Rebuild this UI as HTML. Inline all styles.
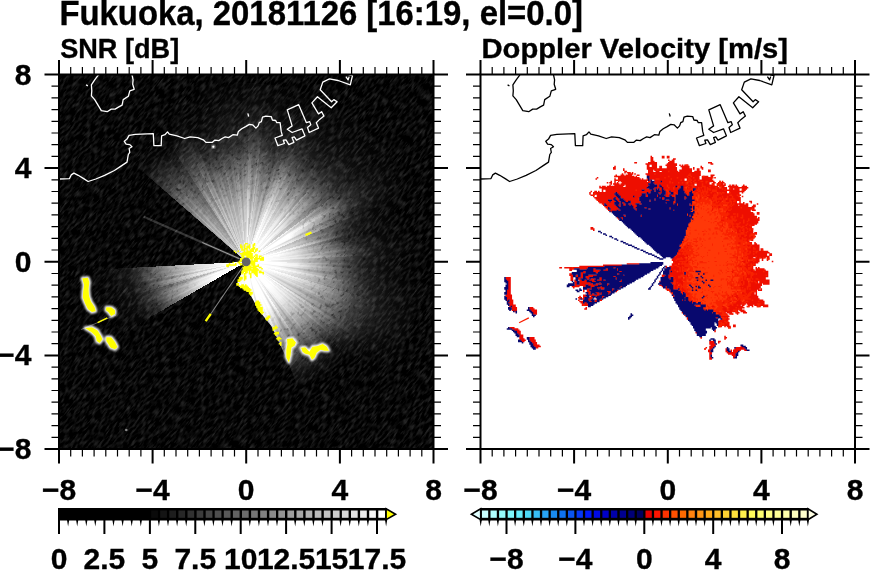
<!DOCTYPE html>
<html lang="en"><head><meta charset="utf-8"><title>Fukuoka radar</title>
<style>html,body{margin:0;padding:0;background:#fff;overflow:hidden}svg{display:block;will-change:transform}stop{stop-color:#fff}text{font-family:"Liberation Sans",sans-serif;font-weight:bold;fill:#000;stroke:#000;stroke-width:.35px}</style></head><body>
<svg width="870" height="570" viewBox="0 0 870 570">
<rect width="870" height="570" fill="#fff"/>
<defs>
<clipPath id="cl"><rect x="59" y="74.5" width="374.5" height="374.5"/></clipPath>
<clipPath id="cf"><path d="M246.2 261.8L243.9 266.8L236.8 284.2L248.9 292.1L258.4 309.8L271.4 326.2L288.2 361.8L307.2 411.8L317.8 437.8L326.9 433.8L335.8 429.3L344.5 424.4L352.9 419L360.9 413.2L368.7 407L376.1 400.4L383.2 393.4L389.9 386.1L396.2 378.4L402.1 370.4L407.6 362.1L412.6 353.5L417.2 344.7L421.3 335.6L424.9 326.3L428.1 316.9L430.7 307.3L432.8 297.6L434.5 287.8L435.6 277.9L436.1 268L436.2 258L435.8 248.1L434.8 238.2L433.3 228.3L431.3 218.6L428.8 209L425.8 199.5L422.3 190.2L418.3 181.1L413.8 172.2L408.9 163.5L403.5 155.1L397.7 147.1L391.5 139.3L384.9 131.9L377.9 124.8L370.6 118.1L362.9 111.8L354.9 105.9L346.6 100.4L338 95.4L329.2 90.8L320.1 86.7L310.8 83.1L301.4 79.9L291.8 77.3L282.1 75.2L272.3 73.5L262.4 72.4L252.5 71.9L242.5 71.8L232.6 72.2L222.7 73.2L212.8 74.7L203.1 76.7L193.5 79.2L184 82.2L174.7 85.7L165.6 89.7L156.7 94.2L148 99.1L139.6 104.5L131.6 110.3L123.8 116.5L116.4 123.1L109.3 130.1L102.9 137.1Z"/></clipPath>
<filter id="nz0" x="0" y="0" width="100%" height="100%" color-interpolation-filters="sRGB"><feTurbulence type="fractalNoise" baseFrequency="0.13 0.48" numOctaves="2" seed="3"/><feColorMatrix type="matrix" values="0.4 0 0 0 -0.17  0.4 0 0 0 -0.17  0.4 0 0 0 -0.17  0 0 0 0 1"/></filter>
<filter id="nd" x="0" y="0" width="100%" height="100%" color-interpolation-filters="sRGB"><feTurbulence type="fractalNoise" baseFrequency="0.25 0.4" numOctaves="2" seed="8"/><feColorMatrix type="matrix" values="0 0 0 0 0  0 0 0 0 0  0 0 0 0 0  0 -3.2 0 0 1.45"/></filter>
<radialGradient id="mk" gradientUnits="userSpaceOnUse" cx="246.2" cy="261.8" r="170"><stop offset="0.3" style="stop-color:#000"/><stop offset="0.58" style="stop-color:#aaa"/><stop offset="0.75" style="stop-color:#888"/><stop offset="0.98" style="stop-color:#000"/></radialGradient>
<mask id="mm"><rect x="59" y="74.5" width="374.5" height="374.5" fill="url(#mk)"/></mask>
<filter id="bl" x="-20%" y="-20%" width="140%" height="140%"><feGaussianBlur stdDeviation="1.3"/></filter>
<clipPath id="sec"><path d="M246.2 261.8L516.2 188.4L516.2 335.1Z"/></clipPath>
<radialGradient id="w0" gradientUnits="userSpaceOnUse" cx="246.2" cy="261.8" r="175"><stop offset="0" stop-opacity="1"/><stop offset=".286" stop-opacity="1"/><stop offset=".383" stop-opacity=".83"/><stop offset=".486" stop-opacity=".57"/><stop offset=".571" stop-opacity=".33"/><stop offset=".669" stop-opacity=".08"/><stop offset=".789" stop-opacity="0"/><stop offset="1" stop-opacity="0"/></radialGradient>
<radialGradient id="w1" gradientUnits="userSpaceOnUse" cx="246.2" cy="261.8" r="175"><stop offset="0" stop-opacity="1"/><stop offset=".286" stop-opacity="1"/><stop offset=".383" stop-opacity=".82"/><stop offset=".486" stop-opacity=".57"/><stop offset=".571" stop-opacity=".33"/><stop offset=".669" stop-opacity=".08"/><stop offset=".789" stop-opacity="0"/><stop offset="1" stop-opacity="0"/></radialGradient>
<radialGradient id="w2" gradientUnits="userSpaceOnUse" cx="246.2" cy="261.8" r="175"><stop offset="0" stop-opacity="1"/><stop offset=".189" stop-opacity="1"/><stop offset=".286" stop-opacity=".99"/><stop offset=".383" stop-opacity=".78"/><stop offset=".486" stop-opacity=".54"/><stop offset=".571" stop-opacity=".32"/><stop offset=".669" stop-opacity=".08"/><stop offset=".789" stop-opacity="0"/><stop offset="1" stop-opacity="0"/></radialGradient>
<radialGradient id="w3" gradientUnits="userSpaceOnUse" cx="246.2" cy="261.8" r="175"><stop offset="0" stop-opacity="1"/><stop offset=".286" stop-opacity="1"/><stop offset=".383" stop-opacity=".84"/><stop offset=".486" stop-opacity=".58"/><stop offset=".571" stop-opacity=".34"/><stop offset=".669" stop-opacity=".08"/><stop offset=".789" stop-opacity="0"/><stop offset="1" stop-opacity="0"/></radialGradient>
<radialGradient id="w4" gradientUnits="userSpaceOnUse" cx="246.2" cy="261.8" r="175"><stop offset="0" stop-opacity="1"/><stop offset=".286" stop-opacity="1"/><stop offset=".383" stop-opacity=".81"/><stop offset=".486" stop-opacity=".56"/><stop offset=".571" stop-opacity=".33"/><stop offset=".669" stop-opacity=".08"/><stop offset=".789" stop-opacity="0"/><stop offset="1" stop-opacity="0"/></radialGradient>
<radialGradient id="w5" gradientUnits="userSpaceOnUse" cx="246.2" cy="261.8" r="175"><stop offset="0" stop-opacity="1"/><stop offset=".286" stop-opacity="1"/><stop offset=".383" stop-opacity=".88"/><stop offset=".486" stop-opacity=".61"/><stop offset=".571" stop-opacity=".36"/><stop offset=".669" stop-opacity=".09"/><stop offset=".789" stop-opacity="0"/><stop offset="1" stop-opacity="0"/></radialGradient>
<radialGradient id="w6" gradientUnits="userSpaceOnUse" cx="246.2" cy="261.8" r="175"><stop offset="0" stop-opacity="1"/><stop offset=".286" stop-opacity="1"/><stop offset=".383" stop-opacity=".81"/><stop offset=".486" stop-opacity=".56"/><stop offset=".571" stop-opacity=".32"/><stop offset=".669" stop-opacity=".08"/><stop offset=".789" stop-opacity="0"/><stop offset="1" stop-opacity="0"/></radialGradient>
<radialGradient id="w7" gradientUnits="userSpaceOnUse" cx="246.2" cy="261.8" r="175"><stop offset="0" stop-opacity="1"/><stop offset=".286" stop-opacity="1"/><stop offset=".383" stop-opacity=".88"/><stop offset=".486" stop-opacity=".61"/><stop offset=".571" stop-opacity=".36"/><stop offset=".669" stop-opacity=".09"/><stop offset=".789" stop-opacity="0"/><stop offset="1" stop-opacity="0"/></radialGradient>
<radialGradient id="w8" gradientUnits="userSpaceOnUse" cx="246.2" cy="261.8" r="175"><stop offset="0" stop-opacity="1"/><stop offset=".286" stop-opacity="1"/><stop offset=".383" stop-opacity=".89"/><stop offset=".486" stop-opacity=".61"/><stop offset=".571" stop-opacity=".36"/><stop offset=".669" stop-opacity=".09"/><stop offset=".789" stop-opacity="0"/><stop offset="1" stop-opacity="0"/></radialGradient>
<radialGradient id="w9" gradientUnits="userSpaceOnUse" cx="246.2" cy="261.8" r="175"><stop offset="0" stop-opacity="1"/><stop offset=".286" stop-opacity="1"/><stop offset=".383" stop-opacity=".84"/><stop offset=".486" stop-opacity=".58"/><stop offset=".571" stop-opacity=".34"/><stop offset=".669" stop-opacity=".08"/><stop offset=".789" stop-opacity="0"/><stop offset="1" stop-opacity="0"/></radialGradient>
<radialGradient id="w10" gradientUnits="userSpaceOnUse" cx="246.2" cy="261.8" r="175"><stop offset="0" stop-opacity="1"/><stop offset=".286" stop-opacity="1"/><stop offset=".383" stop-opacity=".85"/><stop offset=".486" stop-opacity=".59"/><stop offset=".571" stop-opacity=".34"/><stop offset=".669" stop-opacity=".08"/><stop offset=".789" stop-opacity="0"/><stop offset="1" stop-opacity="0"/></radialGradient>
<radialGradient id="w11" gradientUnits="userSpaceOnUse" cx="246.2" cy="261.8" r="175"><stop offset="0" stop-opacity="1"/><stop offset=".189" stop-opacity="1"/><stop offset=".286" stop-opacity=".98"/><stop offset=".383" stop-opacity=".78"/><stop offset=".486" stop-opacity=".54"/><stop offset=".571" stop-opacity=".31"/><stop offset=".669" stop-opacity=".08"/><stop offset=".789" stop-opacity="0"/><stop offset="1" stop-opacity="0"/></radialGradient>
<radialGradient id="w12" gradientUnits="userSpaceOnUse" cx="246.2" cy="261.8" r="175"><stop offset="0" stop-opacity="1"/><stop offset=".286" stop-opacity="1"/><stop offset=".383" stop-opacity=".81"/><stop offset=".486" stop-opacity=".56"/><stop offset=".571" stop-opacity=".33"/><stop offset=".669" stop-opacity=".08"/><stop offset=".789" stop-opacity="0"/><stop offset="1" stop-opacity="0"/></radialGradient>
<radialGradient id="w13" gradientUnits="userSpaceOnUse" cx="246.2" cy="261.8" r="175"><stop offset="0" stop-opacity="1"/><stop offset=".189" stop-opacity="1"/><stop offset=".286" stop-opacity=".98"/><stop offset=".383" stop-opacity=".78"/><stop offset=".486" stop-opacity=".54"/><stop offset=".571" stop-opacity=".32"/><stop offset=".669" stop-opacity=".08"/><stop offset=".789" stop-opacity="0"/><stop offset="1" stop-opacity="0"/></radialGradient>
<radialGradient id="w14" gradientUnits="userSpaceOnUse" cx="246.2" cy="261.8" r="175"><stop offset="0" stop-opacity="1"/><stop offset=".189" stop-opacity="1"/><stop offset=".286" stop-opacity=".9"/><stop offset=".383" stop-opacity=".72"/><stop offset=".486" stop-opacity=".5"/><stop offset=".571" stop-opacity=".29"/><stop offset=".669" stop-opacity=".07"/><stop offset=".789" stop-opacity="0"/><stop offset="1" stop-opacity="0"/></radialGradient>
<radialGradient id="w15" gradientUnits="userSpaceOnUse" cx="246.2" cy="261.8" r="175"><stop offset="0" stop-opacity="1"/><stop offset=".189" stop-opacity="1"/><stop offset=".286" stop-opacity=".97"/><stop offset=".383" stop-opacity=".78"/><stop offset=".486" stop-opacity=".54"/><stop offset=".571" stop-opacity=".32"/><stop offset=".669" stop-opacity=".08"/><stop offset=".789" stop-opacity="0"/><stop offset="1" stop-opacity="0"/></radialGradient>
<radialGradient id="w16" gradientUnits="userSpaceOnUse" cx="246.2" cy="261.8" r="175"><stop offset="0" stop-opacity="1"/><stop offset=".286" stop-opacity="1"/><stop offset=".383" stop-opacity=".8"/><stop offset=".486" stop-opacity=".56"/><stop offset=".571" stop-opacity=".33"/><stop offset=".669" stop-opacity=".09"/><stop offset=".789" stop-opacity="0"/><stop offset="1" stop-opacity="0"/></radialGradient>
<radialGradient id="w17" gradientUnits="userSpaceOnUse" cx="246.2" cy="261.8" r="175"><stop offset="0" stop-opacity="1"/><stop offset=".286" stop-opacity="1"/><stop offset=".383" stop-opacity=".82"/><stop offset=".486" stop-opacity=".58"/><stop offset=".571" stop-opacity=".34"/><stop offset=".669" stop-opacity=".09"/><stop offset=".789" stop-opacity="0"/><stop offset="1" stop-opacity="0"/></radialGradient>
<radialGradient id="w18" gradientUnits="userSpaceOnUse" cx="246.2" cy="261.8" r="175"><stop offset="0" stop-opacity="1"/><stop offset=".189" stop-opacity="1"/><stop offset=".286" stop-opacity=".92"/><stop offset=".383" stop-opacity=".74"/><stop offset=".486" stop-opacity=".52"/><stop offset=".571" stop-opacity=".31"/><stop offset=".669" stop-opacity=".08"/><stop offset=".789" stop-opacity="0"/><stop offset="1" stop-opacity="0"/></radialGradient>
<radialGradient id="w19" gradientUnits="userSpaceOnUse" cx="246.2" cy="261.8" r="175"><stop offset="0" stop-opacity="1"/><stop offset=".189" stop-opacity="1"/><stop offset=".286" stop-opacity=".98"/><stop offset=".383" stop-opacity=".79"/><stop offset=".486" stop-opacity=".55"/><stop offset=".571" stop-opacity=".33"/><stop offset=".669" stop-opacity=".09"/><stop offset=".789" stop-opacity="0"/><stop offset="1" stop-opacity="0"/></radialGradient>
<radialGradient id="w20" gradientUnits="userSpaceOnUse" cx="246.2" cy="261.8" r="175"><stop offset="0" stop-opacity="1"/><stop offset=".286" stop-opacity="1"/><stop offset=".383" stop-opacity=".86"/><stop offset=".486" stop-opacity=".6"/><stop offset=".571" stop-opacity=".36"/><stop offset=".669" stop-opacity=".1"/><stop offset=".789" stop-opacity="0"/><stop offset="1" stop-opacity="0"/></radialGradient>
<radialGradient id="w21" gradientUnits="userSpaceOnUse" cx="246.2" cy="261.8" r="175"><stop offset="0" stop-opacity="1"/><stop offset=".189" stop-opacity="1"/><stop offset=".286" stop-opacity=".96"/><stop offset=".383" stop-opacity=".77"/><stop offset=".486" stop-opacity=".54"/><stop offset=".571" stop-opacity=".32"/><stop offset=".669" stop-opacity=".09"/><stop offset=".789" stop-opacity="0"/><stop offset="1" stop-opacity="0"/></radialGradient>
<radialGradient id="w22" gradientUnits="userSpaceOnUse" cx="246.2" cy="261.8" r="175"><stop offset="0" stop-opacity="1"/><stop offset=".286" stop-opacity="1"/><stop offset=".383" stop-opacity=".89"/><stop offset=".486" stop-opacity=".63"/><stop offset=".571" stop-opacity=".37"/><stop offset=".669" stop-opacity=".1"/><stop offset=".789" stop-opacity="0"/><stop offset="1" stop-opacity="0"/></radialGradient>
<radialGradient id="w23" gradientUnits="userSpaceOnUse" cx="246.2" cy="261.8" r="175"><stop offset="0" stop-opacity="1"/><stop offset=".189" stop-opacity="1"/><stop offset=".286" stop-opacity=".98"/><stop offset=".383" stop-opacity=".79"/><stop offset=".486" stop-opacity=".55"/><stop offset=".571" stop-opacity=".33"/><stop offset=".669" stop-opacity=".09"/><stop offset=".789" stop-opacity="0"/><stop offset="1" stop-opacity="0"/></radialGradient>
<radialGradient id="w24" gradientUnits="userSpaceOnUse" cx="246.2" cy="261.8" r="175"><stop offset="0" stop-opacity="1"/><stop offset=".286" stop-opacity="1"/><stop offset=".383" stop-opacity=".81"/><stop offset=".486" stop-opacity=".57"/><stop offset=".571" stop-opacity=".34"/><stop offset=".669" stop-opacity=".09"/><stop offset=".789" stop-opacity="0"/><stop offset="1" stop-opacity="0"/></radialGradient>
<radialGradient id="w25" gradientUnits="userSpaceOnUse" cx="246.2" cy="261.8" r="175"><stop offset="0" stop-opacity="1"/><stop offset=".189" stop-opacity="1"/><stop offset=".286" stop-opacity=".98"/><stop offset=".383" stop-opacity=".79"/><stop offset=".486" stop-opacity=".56"/><stop offset=".571" stop-opacity=".34"/><stop offset=".669" stop-opacity=".1"/><stop offset=".789" stop-opacity="0"/><stop offset="1" stop-opacity="0"/></radialGradient>
<radialGradient id="w26" gradientUnits="userSpaceOnUse" cx="246.2" cy="261.8" r="175"><stop offset="0" stop-opacity="1"/><stop offset=".189" stop-opacity="1"/><stop offset=".286" stop-opacity=".93"/><stop offset=".383" stop-opacity=".76"/><stop offset=".486" stop-opacity=".54"/><stop offset=".571" stop-opacity=".33"/><stop offset=".669" stop-opacity=".1"/><stop offset=".789" stop-opacity="0"/><stop offset="1" stop-opacity="0"/></radialGradient>
<radialGradient id="w27" gradientUnits="userSpaceOnUse" cx="246.2" cy="261.8" r="175"><stop offset="0" stop-opacity="1"/><stop offset=".189" stop-opacity="1"/><stop offset=".286" stop-opacity=".97"/><stop offset=".383" stop-opacity=".79"/><stop offset=".486" stop-opacity=".56"/><stop offset=".571" stop-opacity=".35"/><stop offset=".669" stop-opacity=".11"/><stop offset=".789" stop-opacity="0"/><stop offset="1" stop-opacity="0"/></radialGradient>
<radialGradient id="w28" gradientUnits="userSpaceOnUse" cx="246.2" cy="261.8" r="175"><stop offset="0" stop-opacity="1"/><stop offset=".114" stop-opacity="1"/><stop offset=".189" stop-opacity=".95"/><stop offset=".286" stop-opacity=".86"/><stop offset=".383" stop-opacity=".71"/><stop offset=".486" stop-opacity=".51"/><stop offset=".571" stop-opacity=".32"/><stop offset=".669" stop-opacity=".1"/><stop offset=".789" stop-opacity="0"/><stop offset="1" stop-opacity="0"/></radialGradient>
<radialGradient id="w29" gradientUnits="userSpaceOnUse" cx="246.2" cy="261.8" r="175"><stop offset="0" stop-opacity="1"/><stop offset=".114" stop-opacity="1"/><stop offset=".189" stop-opacity=".95"/><stop offset=".286" stop-opacity=".86"/><stop offset=".383" stop-opacity=".71"/><stop offset=".486" stop-opacity=".51"/><stop offset=".571" stop-opacity=".33"/><stop offset=".669" stop-opacity=".11"/><stop offset=".789" stop-opacity="0"/><stop offset="1" stop-opacity="0"/></radialGradient>
<radialGradient id="w30" gradientUnits="userSpaceOnUse" cx="246.2" cy="261.8" r="175"><stop offset="0" stop-opacity="1"/><stop offset=".114" stop-opacity="1"/><stop offset=".189" stop-opacity=".98"/><stop offset=".286" stop-opacity=".88"/><stop offset=".383" stop-opacity=".72"/><stop offset=".486" stop-opacity=".52"/><stop offset=".571" stop-opacity=".32"/><stop offset=".669" stop-opacity=".1"/><stop offset=".789" stop-opacity="0"/><stop offset="1" stop-opacity="0"/></radialGradient>
<radialGradient id="w31" gradientUnits="userSpaceOnUse" cx="246.2" cy="261.8" r="175"><stop offset="0" stop-opacity="1"/><stop offset=".189" stop-opacity="1"/><stop offset=".286" stop-opacity=".92"/><stop offset=".383" stop-opacity=".75"/><stop offset=".486" stop-opacity=".54"/><stop offset=".571" stop-opacity=".33"/><stop offset=".669" stop-opacity=".1"/><stop offset=".789" stop-opacity="0"/><stop offset="1" stop-opacity="0"/></radialGradient>
<radialGradient id="w32" gradientUnits="userSpaceOnUse" cx="246.2" cy="261.8" r="175"><stop offset="0" stop-opacity="1"/><stop offset=".189" stop-opacity="1"/><stop offset=".286" stop-opacity=".94"/><stop offset=".383" stop-opacity=".76"/><stop offset=".486" stop-opacity=".53"/><stop offset=".571" stop-opacity=".32"/><stop offset=".669" stop-opacity=".09"/><stop offset=".789" stop-opacity="0"/><stop offset="1" stop-opacity="0"/></radialGradient>
<radialGradient id="w33" gradientUnits="userSpaceOnUse" cx="246.2" cy="261.8" r="175"><stop offset="0" stop-opacity="1"/><stop offset=".189" stop-opacity="1"/><stop offset=".286" stop-opacity=".93"/><stop offset=".383" stop-opacity=".74"/><stop offset=".486" stop-opacity=".52"/><stop offset=".571" stop-opacity=".31"/><stop offset=".669" stop-opacity=".08"/><stop offset=".789" stop-opacity="0"/><stop offset="1" stop-opacity="0"/></radialGradient>
<radialGradient id="w34" gradientUnits="userSpaceOnUse" cx="246.2" cy="261.8" r="175"><stop offset="0" stop-opacity="1"/><stop offset=".189" stop-opacity="1"/><stop offset=".286" stop-opacity=".9"/><stop offset=".383" stop-opacity=".72"/><stop offset=".486" stop-opacity=".5"/><stop offset=".571" stop-opacity=".29"/><stop offset=".669" stop-opacity=".07"/><stop offset=".789" stop-opacity="0"/><stop offset="1" stop-opacity="0"/></radialGradient>
<radialGradient id="w35" gradientUnits="userSpaceOnUse" cx="246.2" cy="261.8" r="175"><stop offset="0" stop-opacity="1"/><stop offset=".114" stop-opacity="1"/><stop offset=".189" stop-opacity=".98"/><stop offset=".286" stop-opacity=".89"/><stop offset=".383" stop-opacity=".72"/><stop offset=".486" stop-opacity=".51"/><stop offset=".571" stop-opacity=".31"/><stop offset=".669" stop-opacity=".1"/><stop offset=".789" stop-opacity=".01"/><stop offset=".914" stop-opacity="0"/><stop offset="1" stop-opacity="0"/></radialGradient>
<radialGradient id="w36" gradientUnits="userSpaceOnUse" cx="246.2" cy="261.8" r="175"><stop offset="0" stop-opacity="1"/><stop offset=".189" stop-opacity="1"/><stop offset=".286" stop-opacity=".91"/><stop offset=".383" stop-opacity=".75"/><stop offset=".486" stop-opacity=".54"/><stop offset=".571" stop-opacity=".35"/><stop offset=".669" stop-opacity=".13"/><stop offset=".789" stop-opacity=".02"/><stop offset=".914" stop-opacity=".01"/><stop offset="1" stop-opacity="0"/></radialGradient>
<radialGradient id="w37" gradientUnits="userSpaceOnUse" cx="246.2" cy="261.8" r="175"><stop offset="0" stop-opacity="1"/><stop offset=".114" stop-opacity="1"/><stop offset=".189" stop-opacity=".96"/><stop offset=".286" stop-opacity=".87"/><stop offset=".383" stop-opacity=".72"/><stop offset=".486" stop-opacity=".53"/><stop offset=".571" stop-opacity=".36"/><stop offset=".669" stop-opacity=".15"/><stop offset=".789" stop-opacity=".03"/><stop offset=".914" stop-opacity=".01"/><stop offset="1" stop-opacity="0"/></radialGradient>
<radialGradient id="w38" gradientUnits="userSpaceOnUse" cx="246.2" cy="261.8" r="175"><stop offset="0" stop-opacity="1"/><stop offset=".114" stop-opacity="1"/><stop offset=".189" stop-opacity=".93"/><stop offset=".286" stop-opacity=".85"/><stop offset=".383" stop-opacity=".71"/><stop offset=".486" stop-opacity=".54"/><stop offset=".571" stop-opacity=".37"/><stop offset=".669" stop-opacity=".18"/><stop offset=".789" stop-opacity=".04"/><stop offset=".914" stop-opacity=".01"/><stop offset="1" stop-opacity=".01"/></radialGradient>
<radialGradient id="w39" gradientUnits="userSpaceOnUse" cx="246.2" cy="261.8" r="175"><stop offset="0" stop-opacity="1"/><stop offset=".189" stop-opacity="1"/><stop offset=".286" stop-opacity=".93"/><stop offset=".383" stop-opacity=".79"/><stop offset=".486" stop-opacity=".6"/><stop offset=".571" stop-opacity=".42"/><stop offset=".669" stop-opacity=".22"/><stop offset=".789" stop-opacity=".06"/><stop offset=".914" stop-opacity=".02"/><stop offset="1" stop-opacity=".01"/></radialGradient>
<radialGradient id="w40" gradientUnits="userSpaceOnUse" cx="246.2" cy="261.8" r="175"><stop offset="0" stop-opacity="1"/><stop offset=".114" stop-opacity="1"/><stop offset=".189" stop-opacity=".93"/><stop offset=".286" stop-opacity=".85"/><stop offset=".383" stop-opacity=".72"/><stop offset=".486" stop-opacity=".55"/><stop offset=".571" stop-opacity=".39"/><stop offset=".669" stop-opacity=".21"/><stop offset=".789" stop-opacity=".07"/><stop offset=".914" stop-opacity=".02"/><stop offset="1" stop-opacity=".01"/></radialGradient>
<radialGradient id="w41" gradientUnits="userSpaceOnUse" cx="246.2" cy="261.8" r="175"><stop offset="0" stop-opacity="1"/><stop offset=".114" stop-opacity="1"/><stop offset=".189" stop-opacity=".92"/><stop offset=".286" stop-opacity=".84"/><stop offset=".383" stop-opacity=".72"/><stop offset=".486" stop-opacity=".55"/><stop offset=".571" stop-opacity=".4"/><stop offset=".669" stop-opacity=".22"/><stop offset=".789" stop-opacity=".08"/><stop offset=".914" stop-opacity=".03"/><stop offset="1" stop-opacity=".01"/></radialGradient>
<radialGradient id="w42" gradientUnits="userSpaceOnUse" cx="246.2" cy="261.8" r="175"><stop offset="0" stop-opacity="1"/><stop offset=".057" stop-opacity="1"/><stop offset=".114" stop-opacity=".99"/><stop offset=".189" stop-opacity=".91"/><stop offset=".286" stop-opacity=".84"/><stop offset=".383" stop-opacity=".72"/><stop offset=".486" stop-opacity=".55"/><stop offset=".571" stop-opacity=".4"/><stop offset=".669" stop-opacity=".22"/><stop offset=".789" stop-opacity=".09"/><stop offset=".914" stop-opacity=".03"/><stop offset="1" stop-opacity=".02"/></radialGradient>
<radialGradient id="w43" gradientUnits="userSpaceOnUse" cx="246.2" cy="261.8" r="175"><stop offset="0" stop-opacity="1"/><stop offset=".057" stop-opacity="1"/><stop offset=".114" stop-opacity=".97"/><stop offset=".189" stop-opacity=".9"/><stop offset=".286" stop-opacity=".82"/><stop offset=".383" stop-opacity=".7"/><stop offset=".486" stop-opacity=".54"/><stop offset=".571" stop-opacity=".39"/><stop offset=".669" stop-opacity=".22"/><stop offset=".789" stop-opacity=".09"/><stop offset=".914" stop-opacity=".04"/><stop offset="1" stop-opacity=".02"/></radialGradient>
<radialGradient id="w44" gradientUnits="userSpaceOnUse" cx="246.2" cy="261.8" r="175"><stop offset="0" stop-opacity="1"/><stop offset=".057" stop-opacity="1"/><stop offset=".114" stop-opacity=".98"/><stop offset=".189" stop-opacity=".9"/><stop offset=".286" stop-opacity=".82"/><stop offset=".383" stop-opacity=".71"/><stop offset=".486" stop-opacity=".55"/><stop offset=".571" stop-opacity=".4"/><stop offset=".669" stop-opacity=".22"/><stop offset=".789" stop-opacity=".1"/><stop offset=".914" stop-opacity=".04"/><stop offset="1" stop-opacity=".02"/></radialGradient>
<radialGradient id="w45" gradientUnits="userSpaceOnUse" cx="246.2" cy="261.8" r="175"><stop offset="0" stop-opacity="1"/><stop offset=".114" stop-opacity="1"/><stop offset=".189" stop-opacity=".93"/><stop offset=".286" stop-opacity=".85"/><stop offset=".383" stop-opacity=".73"/><stop offset=".486" stop-opacity=".56"/><stop offset=".571" stop-opacity=".41"/><stop offset=".669" stop-opacity=".23"/><stop offset=".789" stop-opacity=".1"/><stop offset=".914" stop-opacity=".04"/><stop offset="1" stop-opacity=".02"/></radialGradient>
<radialGradient id="w46" gradientUnits="userSpaceOnUse" cx="246.2" cy="261.8" r="175"><stop offset="0" stop-opacity="1"/><stop offset=".114" stop-opacity="1"/><stop offset=".189" stop-opacity=".97"/><stop offset=".286" stop-opacity=".89"/><stop offset=".383" stop-opacity=".76"/><stop offset=".486" stop-opacity=".58"/><stop offset=".571" stop-opacity=".41"/><stop offset=".669" stop-opacity=".22"/><stop offset=".789" stop-opacity=".1"/><stop offset=".914" stop-opacity=".04"/><stop offset="1" stop-opacity=".02"/></radialGradient>
<radialGradient id="w47" gradientUnits="userSpaceOnUse" cx="246.2" cy="261.8" r="175"><stop offset="0" stop-opacity="1"/><stop offset=".189" stop-opacity="1"/><stop offset=".286" stop-opacity=".94"/><stop offset=".383" stop-opacity=".8"/><stop offset=".486" stop-opacity=".6"/><stop offset=".571" stop-opacity=".42"/><stop offset=".669" stop-opacity=".22"/><stop offset=".789" stop-opacity=".09"/><stop offset=".914" stop-opacity=".04"/><stop offset="1" stop-opacity=".02"/></radialGradient>
<radialGradient id="w48" gradientUnits="userSpaceOnUse" cx="246.2" cy="261.8" r="175"><stop offset="0" stop-opacity="1"/><stop offset=".114" stop-opacity="1"/><stop offset=".189" stop-opacity=".92"/><stop offset=".286" stop-opacity=".84"/><stop offset=".383" stop-opacity=".7"/><stop offset=".486" stop-opacity=".53"/><stop offset=".571" stop-opacity=".36"/><stop offset=".669" stop-opacity=".18"/><stop offset=".789" stop-opacity=".08"/><stop offset=".914" stop-opacity=".03"/><stop offset="1" stop-opacity=".01"/></radialGradient>
<radialGradient id="w49" gradientUnits="userSpaceOnUse" cx="246.2" cy="261.8" r="175"><stop offset="0" stop-opacity="1"/><stop offset=".114" stop-opacity="1"/><stop offset=".189" stop-opacity=".96"/><stop offset=".286" stop-opacity=".87"/><stop offset=".383" stop-opacity=".73"/><stop offset=".486" stop-opacity=".54"/><stop offset=".571" stop-opacity=".36"/><stop offset=".669" stop-opacity=".17"/><stop offset=".789" stop-opacity=".07"/><stop offset=".914" stop-opacity=".03"/><stop offset="1" stop-opacity=".01"/></radialGradient>
<radialGradient id="w50" gradientUnits="userSpaceOnUse" cx="246.2" cy="261.8" r="175"><stop offset="0" stop-opacity="1"/><stop offset=".189" stop-opacity="1"/><stop offset=".286" stop-opacity=".93"/><stop offset=".383" stop-opacity=".77"/><stop offset=".486" stop-opacity=".56"/><stop offset=".571" stop-opacity=".36"/><stop offset=".669" stop-opacity=".16"/><stop offset=".789" stop-opacity=".07"/><stop offset=".914" stop-opacity=".03"/><stop offset="1" stop-opacity=".01"/></radialGradient>
<radialGradient id="w51" gradientUnits="userSpaceOnUse" cx="246.2" cy="261.8" r="175"><stop offset="0" stop-opacity="1"/><stop offset=".114" stop-opacity="1"/><stop offset=".189" stop-opacity=".98"/><stop offset=".286" stop-opacity=".88"/><stop offset=".383" stop-opacity=".72"/><stop offset=".486" stop-opacity=".52"/><stop offset=".571" stop-opacity=".33"/><stop offset=".669" stop-opacity=".15"/><stop offset=".789" stop-opacity=".06"/><stop offset=".914" stop-opacity=".02"/><stop offset="1" stop-opacity=".01"/></radialGradient>
<radialGradient id="w52" gradientUnits="userSpaceOnUse" cx="246.2" cy="261.8" r="175"><stop offset="0" stop-opacity="1"/><stop offset=".189" stop-opacity="1"/><stop offset=".286" stop-opacity=".9"/><stop offset=".383" stop-opacity=".73"/><stop offset=".486" stop-opacity=".52"/><stop offset=".571" stop-opacity=".32"/><stop offset=".669" stop-opacity=".14"/><stop offset=".789" stop-opacity=".05"/><stop offset=".914" stop-opacity=".02"/><stop offset="1" stop-opacity=".01"/></radialGradient>
<radialGradient id="w53" gradientUnits="userSpaceOnUse" cx="246.2" cy="261.8" r="175"><stop offset="0" stop-opacity="1"/><stop offset=".189" stop-opacity="1"/><stop offset=".286" stop-opacity=".91"/><stop offset=".383" stop-opacity=".72"/><stop offset=".486" stop-opacity=".5"/><stop offset=".571" stop-opacity=".29"/><stop offset=".669" stop-opacity=".13"/><stop offset=".789" stop-opacity=".05"/><stop offset=".914" stop-opacity=".01"/><stop offset="1" stop-opacity="0"/></radialGradient>
<radialGradient id="w54" gradientUnits="userSpaceOnUse" cx="246.2" cy="261.8" r="175"><stop offset="0" stop-opacity="1"/><stop offset=".189" stop-opacity="1"/><stop offset=".286" stop-opacity=".93"/><stop offset=".383" stop-opacity=".72"/><stop offset=".486" stop-opacity=".48"/><stop offset=".571" stop-opacity=".26"/><stop offset=".669" stop-opacity=".12"/><stop offset=".789" stop-opacity=".04"/><stop offset=".914" stop-opacity=".01"/><stop offset="1" stop-opacity="0"/></radialGradient>
<radialGradient id="w55" gradientUnits="userSpaceOnUse" cx="246.2" cy="261.8" r="175"><stop offset="0" stop-opacity="1"/><stop offset=".189" stop-opacity="1"/><stop offset=".286" stop-opacity=".92"/><stop offset=".383" stop-opacity=".71"/><stop offset=".486" stop-opacity=".46"/><stop offset=".571" stop-opacity=".25"/><stop offset=".669" stop-opacity=".11"/><stop offset=".789" stop-opacity=".04"/><stop offset=".914" stop-opacity=".01"/><stop offset="1" stop-opacity="0"/></radialGradient>
<radialGradient id="w56" gradientUnits="userSpaceOnUse" cx="246.2" cy="261.8" r="175"><stop offset="0" stop-opacity="1"/><stop offset=".114" stop-opacity="1"/><stop offset=".189" stop-opacity=".92"/><stop offset=".286" stop-opacity=".83"/><stop offset=".383" stop-opacity=".65"/><stop offset=".486" stop-opacity=".43"/><stop offset=".571" stop-opacity=".24"/><stop offset=".669" stop-opacity=".11"/><stop offset=".789" stop-opacity=".04"/><stop offset=".914" stop-opacity=".01"/><stop offset="1" stop-opacity="0"/></radialGradient>
<radialGradient id="w57" gradientUnits="userSpaceOnUse" cx="246.2" cy="261.8" r="175"><stop offset="0" stop-opacity="1"/><stop offset=".057" stop-opacity="1"/><stop offset=".114" stop-opacity=".99"/><stop offset=".189" stop-opacity=".91"/><stop offset=".286" stop-opacity=".82"/><stop offset=".383" stop-opacity=".66"/><stop offset=".486" stop-opacity=".46"/><stop offset=".571" stop-opacity=".27"/><stop offset=".669" stop-opacity=".12"/><stop offset=".789" stop-opacity=".04"/><stop offset=".914" stop-opacity=".01"/><stop offset="1" stop-opacity="0"/></radialGradient>
<radialGradient id="w58" gradientUnits="userSpaceOnUse" cx="246.2" cy="261.8" r="175"><stop offset="0" stop-opacity="1"/><stop offset=".114" stop-opacity="1"/><stop offset=".189" stop-opacity=".98"/><stop offset=".286" stop-opacity=".88"/><stop offset=".383" stop-opacity=".72"/><stop offset=".486" stop-opacity=".51"/><stop offset=".571" stop-opacity=".32"/><stop offset=".669" stop-opacity=".14"/><stop offset=".789" stop-opacity=".05"/><stop offset=".914" stop-opacity=".02"/><stop offset="1" stop-opacity=".01"/></radialGradient>
<radialGradient id="w59" gradientUnits="userSpaceOnUse" cx="246.2" cy="261.8" r="175"><stop offset="0" stop-opacity="1"/><stop offset=".114" stop-opacity="1"/><stop offset=".189" stop-opacity=".96"/><stop offset=".286" stop-opacity=".87"/><stop offset=".383" stop-opacity=".7"/><stop offset=".486" stop-opacity=".5"/><stop offset=".571" stop-opacity=".3"/><stop offset=".669" stop-opacity=".14"/><stop offset=".789" stop-opacity=".05"/><stop offset=".914" stop-opacity=".02"/><stop offset="1" stop-opacity=".01"/></radialGradient>
<radialGradient id="w60" gradientUnits="userSpaceOnUse" cx="246.2" cy="261.8" r="175"><stop offset="0" stop-opacity="1"/><stop offset=".114" stop-opacity="1"/><stop offset=".189" stop-opacity=".95"/><stop offset=".286" stop-opacity=".85"/><stop offset=".383" stop-opacity=".67"/><stop offset=".486" stop-opacity=".46"/><stop offset=".571" stop-opacity=".26"/><stop offset=".669" stop-opacity=".12"/><stop offset=".789" stop-opacity=".04"/><stop offset=".914" stop-opacity=".01"/><stop offset="1" stop-opacity="0"/></radialGradient>
<radialGradient id="w61" gradientUnits="userSpaceOnUse" cx="246.2" cy="261.8" r="175"><stop offset="0" stop-opacity="1"/><stop offset=".114" stop-opacity="1"/><stop offset=".189" stop-opacity=".98"/><stop offset=".286" stop-opacity=".87"/><stop offset=".383" stop-opacity=".67"/><stop offset=".486" stop-opacity=".43"/><stop offset=".571" stop-opacity=".23"/><stop offset=".669" stop-opacity=".1"/><stop offset=".789" stop-opacity=".04"/><stop offset=".914" stop-opacity=".01"/><stop offset="1" stop-opacity="0"/></radialGradient>
<radialGradient id="w62" gradientUnits="userSpaceOnUse" cx="246.2" cy="261.8" r="175"><stop offset="0" stop-opacity="1"/><stop offset=".189" stop-opacity="1"/><stop offset=".286" stop-opacity=".88"/><stop offset=".383" stop-opacity=".66"/><stop offset=".486" stop-opacity=".4"/><stop offset=".571" stop-opacity=".18"/><stop offset=".669" stop-opacity=".08"/><stop offset=".789" stop-opacity=".03"/><stop offset=".914" stop-opacity="0"/><stop offset="1" stop-opacity="0"/></radialGradient>
<radialGradient id="w63" gradientUnits="userSpaceOnUse" cx="246.2" cy="261.8" r="175"><stop offset="0" stop-opacity="1"/><stop offset=".114" stop-opacity="1"/><stop offset=".189" stop-opacity=".96"/><stop offset=".286" stop-opacity=".82"/><stop offset=".383" stop-opacity=".59"/><stop offset=".486" stop-opacity=".32"/><stop offset=".571" stop-opacity=".14"/><stop offset=".669" stop-opacity=".06"/><stop offset=".789" stop-opacity=".02"/><stop offset=".914" stop-opacity="0"/><stop offset="1" stop-opacity="0"/></radialGradient>
<radialGradient id="w64" gradientUnits="userSpaceOnUse" cx="246.2" cy="261.8" r="175"><stop offset="0" stop-opacity="1"/><stop offset=".189" stop-opacity="1"/><stop offset=".286" stop-opacity=".92"/><stop offset=".383" stop-opacity=".69"/><stop offset=".486" stop-opacity=".4"/><stop offset=".571" stop-opacity=".17"/><stop offset=".669" stop-opacity=".08"/><stop offset=".789" stop-opacity=".03"/><stop offset=".914" stop-opacity="0"/><stop offset="1" stop-opacity="0"/></radialGradient>
<radialGradient id="w65" gradientUnits="userSpaceOnUse" cx="246.2" cy="261.8" r="175"><stop offset="0" stop-opacity="1"/><stop offset=".114" stop-opacity="1"/><stop offset=".189" stop-opacity=".91"/><stop offset=".286" stop-opacity=".8"/><stop offset=".383" stop-opacity=".6"/><stop offset=".486" stop-opacity=".37"/><stop offset=".571" stop-opacity=".18"/><stop offset=".669" stop-opacity=".08"/><stop offset=".789" stop-opacity=".03"/><stop offset=".914" stop-opacity="0"/><stop offset="1" stop-opacity="0"/></radialGradient>
<radialGradient id="w66" gradientUnits="userSpaceOnUse" cx="246.2" cy="261.8" r="175"><stop offset="0" stop-opacity="1"/><stop offset=".057" stop-opacity="1"/><stop offset=".114" stop-opacity=".95"/><stop offset=".189" stop-opacity=".87"/><stop offset=".286" stop-opacity=".77"/><stop offset=".383" stop-opacity=".59"/><stop offset=".486" stop-opacity=".38"/><stop offset=".571" stop-opacity=".2"/><stop offset=".669" stop-opacity=".09"/><stop offset=".789" stop-opacity=".03"/><stop offset=".914" stop-opacity=".01"/><stop offset="1" stop-opacity="0"/></radialGradient>
<radialGradient id="w67" gradientUnits="userSpaceOnUse" cx="246.2" cy="261.8" r="175"><stop offset="0" stop-opacity="1"/><stop offset=".057" stop-opacity="1"/><stop offset=".114" stop-opacity=".9"/><stop offset=".189" stop-opacity=".83"/><stop offset=".286" stop-opacity=".74"/><stop offset=".383" stop-opacity=".58"/><stop offset=".486" stop-opacity=".39"/><stop offset=".571" stop-opacity=".22"/><stop offset=".669" stop-opacity=".1"/><stop offset=".789" stop-opacity=".03"/><stop offset=".914" stop-opacity=".01"/><stop offset="1" stop-opacity="0"/></radialGradient>
<radialGradient id="w68" gradientUnits="userSpaceOnUse" cx="246.2" cy="261.8" r="175"><stop offset="0" stop-opacity="1"/><stop offset=".114" stop-opacity="1"/><stop offset=".189" stop-opacity=".99"/><stop offset=".286" stop-opacity=".89"/><stop offset=".383" stop-opacity=".71"/><stop offset=".486" stop-opacity=".49"/><stop offset=".571" stop-opacity=".29"/><stop offset=".669" stop-opacity=".13"/><stop offset=".789" stop-opacity=".05"/><stop offset=".914" stop-opacity=".02"/><stop offset="1" stop-opacity="0"/></radialGradient>
<radialGradient id="w69" gradientUnits="userSpaceOnUse" cx="246.2" cy="261.8" r="175"><stop offset="0" stop-opacity="1"/><stop offset=".189" stop-opacity="1"/><stop offset=".286" stop-opacity=".92"/><stop offset=".383" stop-opacity=".75"/><stop offset=".486" stop-opacity=".53"/><stop offset=".571" stop-opacity=".33"/><stop offset=".669" stop-opacity=".15"/><stop offset=".789" stop-opacity=".06"/><stop offset=".914" stop-opacity=".02"/><stop offset="1" stop-opacity=".01"/></radialGradient>
<radialGradient id="w70" gradientUnits="userSpaceOnUse" cx="246.2" cy="261.8" r="175"><stop offset="0" stop-opacity="1"/><stop offset=".189" stop-opacity="1"/><stop offset=".286" stop-opacity=".99"/><stop offset=".383" stop-opacity=".82"/><stop offset=".486" stop-opacity=".6"/><stop offset=".571" stop-opacity=".39"/><stop offset=".669" stop-opacity=".18"/><stop offset=".789" stop-opacity=".08"/><stop offset=".914" stop-opacity=".03"/><stop offset="1" stop-opacity=".01"/></radialGradient>
<radialGradient id="w71" gradientUnits="userSpaceOnUse" cx="246.2" cy="261.8" r="175"><stop offset="0" stop-opacity="1"/><stop offset=".286" stop-opacity="1"/><stop offset=".383" stop-opacity=".83"/><stop offset=".486" stop-opacity=".61"/><stop offset=".571" stop-opacity=".41"/><stop offset=".669" stop-opacity=".2"/><stop offset=".789" stop-opacity=".08"/><stop offset=".914" stop-opacity=".03"/><stop offset="1" stop-opacity=".01"/></radialGradient>
<radialGradient id="w72" gradientUnits="userSpaceOnUse" cx="246.2" cy="261.8" r="175"><stop offset="0" stop-opacity="1"/><stop offset=".286" stop-opacity="1"/><stop offset=".383" stop-opacity=".91"/><stop offset=".486" stop-opacity=".67"/><stop offset=".571" stop-opacity=".45"/><stop offset=".669" stop-opacity=".21"/><stop offset=".789" stop-opacity=".09"/><stop offset=".914" stop-opacity=".04"/><stop offset="1" stop-opacity=".01"/></radialGradient>
<radialGradient id="w73" gradientUnits="userSpaceOnUse" cx="246.2" cy="261.8" r="175"><stop offset="0" stop-opacity="1"/><stop offset=".286" stop-opacity="1"/><stop offset=".383" stop-opacity=".83"/><stop offset=".486" stop-opacity=".61"/><stop offset=".571" stop-opacity=".4"/><stop offset=".669" stop-opacity=".19"/><stop offset=".789" stop-opacity=".08"/><stop offset=".914" stop-opacity=".03"/><stop offset="1" stop-opacity=".01"/></radialGradient>
<radialGradient id="w74" gradientUnits="userSpaceOnUse" cx="246.2" cy="261.8" r="175"><stop offset="0" stop-opacity="1"/><stop offset=".189" stop-opacity="1"/><stop offset=".286" stop-opacity=".95"/><stop offset=".383" stop-opacity=".79"/><stop offset=".486" stop-opacity=".58"/><stop offset=".571" stop-opacity=".38"/><stop offset=".669" stop-opacity=".18"/><stop offset=".789" stop-opacity=".07"/><stop offset=".914" stop-opacity=".03"/><stop offset="1" stop-opacity=".01"/></radialGradient>
<radialGradient id="w75" gradientUnits="userSpaceOnUse" cx="246.2" cy="261.8" r="175"><stop offset="0" stop-opacity="1"/><stop offset=".057" stop-opacity="1"/><stop offset=".114" stop-opacity=".91"/><stop offset=".189" stop-opacity=".83"/><stop offset=".286" stop-opacity=".76"/><stop offset=".383" stop-opacity=".63"/><stop offset=".486" stop-opacity=".46"/><stop offset=".571" stop-opacity=".3"/><stop offset=".669" stop-opacity=".14"/><stop offset=".789" stop-opacity=".06"/><stop offset=".914" stop-opacity=".02"/><stop offset="1" stop-opacity=".01"/></radialGradient>
<radialGradient id="w76" gradientUnits="userSpaceOnUse" cx="246.2" cy="261.8" r="175"><stop offset="0" stop-opacity="1"/><stop offset=".057" stop-opacity="1"/><stop offset=".114" stop-opacity=".98"/><stop offset=".189" stop-opacity=".9"/><stop offset=".286" stop-opacity=".82"/><stop offset=".383" stop-opacity=".68"/><stop offset=".486" stop-opacity=".49"/><stop offset=".571" stop-opacity=".32"/><stop offset=".669" stop-opacity=".14"/><stop offset=".789" stop-opacity=".06"/><stop offset=".914" stop-opacity=".02"/><stop offset="1" stop-opacity=".01"/></radialGradient>
<radialGradient id="w77" gradientUnits="userSpaceOnUse" cx="246.2" cy="261.8" r="175"><stop offset="0" stop-opacity="1"/><stop offset=".114" stop-opacity="1"/><stop offset=".189" stop-opacity=".94"/><stop offset=".286" stop-opacity=".86"/><stop offset=".383" stop-opacity=".7"/><stop offset=".486" stop-opacity=".51"/><stop offset=".571" stop-opacity=".33"/><stop offset=".669" stop-opacity=".15"/><stop offset=".789" stop-opacity=".06"/><stop offset=".914" stop-opacity=".02"/><stop offset="1" stop-opacity=".01"/></radialGradient>
<radialGradient id="w78" gradientUnits="userSpaceOnUse" cx="246.2" cy="261.8" r="175"><stop offset="0" stop-opacity="1"/><stop offset=".114" stop-opacity="1"/><stop offset=".189" stop-opacity=".99"/><stop offset=".286" stop-opacity=".89"/><stop offset=".383" stop-opacity=".73"/><stop offset=".486" stop-opacity=".53"/><stop offset=".571" stop-opacity=".33"/><stop offset=".669" stop-opacity=".15"/><stop offset=".789" stop-opacity=".06"/><stop offset=".914" stop-opacity=".02"/><stop offset="1" stop-opacity=".01"/></radialGradient>
<radialGradient id="w79" gradientUnits="userSpaceOnUse" cx="246.2" cy="261.8" r="175"><stop offset="0" stop-opacity="1"/><stop offset=".189" stop-opacity="1"/><stop offset=".286" stop-opacity=".9"/><stop offset=".383" stop-opacity=".74"/><stop offset=".486" stop-opacity=".53"/><stop offset=".571" stop-opacity=".33"/><stop offset=".669" stop-opacity=".15"/><stop offset=".789" stop-opacity=".06"/><stop offset=".914" stop-opacity=".02"/><stop offset="1" stop-opacity=".01"/></radialGradient>
<radialGradient id="w80" gradientUnits="userSpaceOnUse" cx="246.2" cy="261.8" r="175"><stop offset="0" stop-opacity="1"/><stop offset=".189" stop-opacity="1"/><stop offset=".286" stop-opacity=".99"/><stop offset=".383" stop-opacity=".81"/><stop offset=".486" stop-opacity=".58"/><stop offset=".571" stop-opacity=".35"/><stop offset=".669" stop-opacity=".16"/><stop offset=".789" stop-opacity=".06"/><stop offset=".914" stop-opacity=".02"/><stop offset="1" stop-opacity=".01"/></radialGradient>
<radialGradient id="w81" gradientUnits="userSpaceOnUse" cx="246.2" cy="261.8" r="175"><stop offset="0" stop-opacity="1"/><stop offset=".114" stop-opacity="1"/><stop offset=".189" stop-opacity=".98"/><stop offset=".286" stop-opacity=".89"/><stop offset=".383" stop-opacity=".72"/><stop offset=".486" stop-opacity=".51"/><stop offset=".571" stop-opacity=".31"/><stop offset=".669" stop-opacity=".14"/><stop offset=".789" stop-opacity=".05"/><stop offset=".914" stop-opacity=".02"/><stop offset="1" stop-opacity=".01"/></radialGradient>
<radialGradient id="w82" gradientUnits="userSpaceOnUse" cx="246.2" cy="261.8" r="175"><stop offset="0" stop-opacity="1"/><stop offset=".114" stop-opacity="1"/><stop offset=".189" stop-opacity=".99"/><stop offset=".286" stop-opacity=".9"/><stop offset=".383" stop-opacity=".73"/><stop offset=".486" stop-opacity=".52"/><stop offset=".571" stop-opacity=".31"/><stop offset=".669" stop-opacity=".14"/><stop offset=".789" stop-opacity=".05"/><stop offset=".914" stop-opacity=".02"/><stop offset="1" stop-opacity=".01"/></radialGradient>
<radialGradient id="w83" gradientUnits="userSpaceOnUse" cx="246.2" cy="261.8" r="175"><stop offset="0" stop-opacity="1"/><stop offset=".114" stop-opacity="1"/><stop offset=".189" stop-opacity=".99"/><stop offset=".286" stop-opacity=".89"/><stop offset=".383" stop-opacity=".72"/><stop offset=".486" stop-opacity=".51"/><stop offset=".571" stop-opacity=".31"/><stop offset=".669" stop-opacity=".14"/><stop offset=".789" stop-opacity=".05"/><stop offset=".914" stop-opacity=".02"/><stop offset="1" stop-opacity=".01"/></radialGradient>
<radialGradient id="w84" gradientUnits="userSpaceOnUse" cx="246.2" cy="261.8" r="175"><stop offset="0" stop-opacity="1"/><stop offset=".114" stop-opacity="1"/><stop offset=".189" stop-opacity=".92"/><stop offset=".286" stop-opacity=".83"/><stop offset=".383" stop-opacity=".68"/><stop offset=".486" stop-opacity=".48"/><stop offset=".571" stop-opacity=".3"/><stop offset=".669" stop-opacity=".13"/><stop offset=".789" stop-opacity=".05"/><stop offset=".914" stop-opacity=".02"/><stop offset="1" stop-opacity=".01"/></radialGradient>
<radialGradient id="w85" gradientUnits="userSpaceOnUse" cx="246.2" cy="261.8" r="175"><stop offset="0" stop-opacity="1"/><stop offset=".057" stop-opacity="1"/><stop offset=".114" stop-opacity=".96"/><stop offset=".189" stop-opacity=".88"/><stop offset=".286" stop-opacity=".8"/><stop offset=".383" stop-opacity=".65"/><stop offset=".486" stop-opacity=".47"/><stop offset=".571" stop-opacity=".3"/><stop offset=".669" stop-opacity=".13"/><stop offset=".789" stop-opacity=".05"/><stop offset=".914" stop-opacity=".02"/><stop offset="1" stop-opacity=".01"/></radialGradient>
<radialGradient id="w86" gradientUnits="userSpaceOnUse" cx="246.2" cy="261.8" r="175"><stop offset="0" stop-opacity="1"/><stop offset=".057" stop-opacity="1"/><stop offset=".114" stop-opacity=".99"/><stop offset=".189" stop-opacity=".91"/><stop offset=".286" stop-opacity=".82"/><stop offset=".383" stop-opacity=".68"/><stop offset=".486" stop-opacity=".49"/><stop offset=".571" stop-opacity=".32"/><stop offset=".669" stop-opacity=".14"/><stop offset=".789" stop-opacity=".06"/><stop offset=".914" stop-opacity=".02"/><stop offset="1" stop-opacity=".01"/></radialGradient>
<radialGradient id="w87" gradientUnits="userSpaceOnUse" cx="246.2" cy="261.8" r="175"><stop offset="0" stop-opacity="1"/><stop offset=".189" stop-opacity="1"/><stop offset=".286" stop-opacity=".91"/><stop offset=".383" stop-opacity=".75"/><stop offset=".486" stop-opacity=".55"/><stop offset=".571" stop-opacity=".36"/><stop offset=".669" stop-opacity=".17"/><stop offset=".789" stop-opacity=".07"/><stop offset=".914" stop-opacity=".03"/><stop offset="1" stop-opacity=".01"/></radialGradient>
<radialGradient id="w88" gradientUnits="userSpaceOnUse" cx="246.2" cy="261.8" r="175"><stop offset="0" stop-opacity="1"/><stop offset=".114" stop-opacity="1"/><stop offset=".189" stop-opacity=".93"/><stop offset=".286" stop-opacity=".85"/><stop offset=".383" stop-opacity=".71"/><stop offset=".486" stop-opacity=".52"/><stop offset=".571" stop-opacity=".35"/><stop offset=".669" stop-opacity=".17"/><stop offset=".789" stop-opacity=".07"/><stop offset=".914" stop-opacity=".03"/><stop offset="1" stop-opacity=".01"/></radialGradient>
<radialGradient id="w89" gradientUnits="userSpaceOnUse" cx="246.2" cy="261.8" r="175"><stop offset="0" stop-opacity="1"/><stop offset=".114" stop-opacity="1"/><stop offset=".189" stop-opacity=".99"/><stop offset=".286" stop-opacity=".9"/><stop offset=".383" stop-opacity=".75"/><stop offset=".486" stop-opacity=".56"/><stop offset=".571" stop-opacity=".38"/><stop offset=".669" stop-opacity=".19"/><stop offset=".789" stop-opacity=".08"/><stop offset=".914" stop-opacity=".03"/><stop offset="1" stop-opacity=".01"/></radialGradient>
<radialGradient id="w90" gradientUnits="userSpaceOnUse" cx="246.2" cy="261.8" r="175"><stop offset="0" stop-opacity="1"/><stop offset=".189" stop-opacity="1"/><stop offset=".286" stop-opacity=".95"/><stop offset=".383" stop-opacity=".79"/><stop offset=".486" stop-opacity=".59"/><stop offset=".571" stop-opacity=".4"/><stop offset=".669" stop-opacity=".2"/><stop offset=".789" stop-opacity=".09"/><stop offset=".914" stop-opacity=".03"/><stop offset="1" stop-opacity=".01"/></radialGradient>
<radialGradient id="w91" gradientUnits="userSpaceOnUse" cx="246.2" cy="261.8" r="175"><stop offset="0" stop-opacity="1"/><stop offset=".057" stop-opacity="1"/><stop offset=".114" stop-opacity=".99"/><stop offset=".189" stop-opacity=".91"/><stop offset=".286" stop-opacity=".83"/><stop offset=".383" stop-opacity=".69"/><stop offset=".486" stop-opacity=".51"/><stop offset=".571" stop-opacity=".35"/><stop offset=".669" stop-opacity=".17"/><stop offset=".789" stop-opacity=".07"/><stop offset=".914" stop-opacity=".03"/><stop offset="1" stop-opacity=".01"/></radialGradient>
<radialGradient id="w92" gradientUnits="userSpaceOnUse" cx="246.2" cy="261.8" r="175"><stop offset="0" stop-opacity="1"/><stop offset=".057" stop-opacity="1"/><stop offset=".114" stop-opacity=".97"/><stop offset=".189" stop-opacity=".9"/><stop offset=".286" stop-opacity=".81"/><stop offset=".383" stop-opacity=".68"/><stop offset=".486" stop-opacity=".5"/><stop offset=".571" stop-opacity=".33"/><stop offset=".669" stop-opacity=".16"/><stop offset=".789" stop-opacity=".07"/><stop offset=".914" stop-opacity=".03"/><stop offset="1" stop-opacity=".01"/></radialGradient>
<radialGradient id="w93" gradientUnits="userSpaceOnUse" cx="246.2" cy="261.8" r="175"><stop offset="0" stop-opacity="1"/><stop offset=".057" stop-opacity=".96"/><stop offset=".114" stop-opacity=".87"/><stop offset=".189" stop-opacity=".8"/><stop offset=".286" stop-opacity=".72"/><stop offset=".383" stop-opacity=".6"/><stop offset=".486" stop-opacity=".44"/><stop offset=".571" stop-opacity=".29"/><stop offset=".669" stop-opacity=".13"/><stop offset=".789" stop-opacity=".06"/><stop offset=".914" stop-opacity=".02"/><stop offset="1" stop-opacity=".01"/></radialGradient>
<radialGradient id="w94" gradientUnits="userSpaceOnUse" cx="246.2" cy="261.8" r="175"><stop offset="0" stop-opacity="1"/><stop offset=".057" stop-opacity="1"/><stop offset=".114" stop-opacity=".93"/><stop offset=".189" stop-opacity=".86"/><stop offset=".286" stop-opacity=".78"/><stop offset=".383" stop-opacity=".64"/><stop offset=".486" stop-opacity=".46"/><stop offset=".571" stop-opacity=".3"/><stop offset=".669" stop-opacity=".13"/><stop offset=".789" stop-opacity=".05"/><stop offset=".914" stop-opacity=".02"/><stop offset="1" stop-opacity=".01"/></radialGradient>
<radialGradient id="w95" gradientUnits="userSpaceOnUse" cx="246.2" cy="261.8" r="175"><stop offset="0" stop-opacity="1"/><stop offset=".057" stop-opacity="1"/><stop offset=".114" stop-opacity=".93"/><stop offset=".189" stop-opacity=".85"/><stop offset=".286" stop-opacity=".78"/><stop offset=".383" stop-opacity=".65"/><stop offset=".486" stop-opacity=".48"/><stop offset=".571" stop-opacity=".32"/><stop offset=".669" stop-opacity=".16"/><stop offset=".789" stop-opacity=".07"/><stop offset=".914" stop-opacity=".03"/><stop offset="1" stop-opacity=".01"/></radialGradient>
<radialGradient id="w96" gradientUnits="userSpaceOnUse" cx="246.2" cy="261.8" r="175"><stop offset="0" stop-opacity="1"/><stop offset=".057" stop-opacity="1"/><stop offset=".114" stop-opacity=".9"/><stop offset=".189" stop-opacity=".83"/><stop offset=".286" stop-opacity=".76"/><stop offset=".383" stop-opacity=".64"/><stop offset=".486" stop-opacity=".48"/><stop offset=".571" stop-opacity=".34"/><stop offset=".669" stop-opacity=".18"/><stop offset=".789" stop-opacity=".08"/><stop offset=".914" stop-opacity=".03"/><stop offset="1" stop-opacity=".01"/></radialGradient>
<radialGradient id="w97" gradientUnits="userSpaceOnUse" cx="246.2" cy="261.8" r="175"><stop offset="0" stop-opacity="1"/><stop offset=".057" stop-opacity=".97"/><stop offset=".114" stop-opacity=".87"/><stop offset=".189" stop-opacity=".81"/><stop offset=".286" stop-opacity=".74"/><stop offset=".383" stop-opacity=".63"/><stop offset=".486" stop-opacity=".49"/><stop offset=".571" stop-opacity=".35"/><stop offset=".669" stop-opacity=".19"/><stop offset=".789" stop-opacity=".08"/><stop offset=".914" stop-opacity=".03"/><stop offset="1" stop-opacity=".02"/></radialGradient>
<radialGradient id="w98" gradientUnits="userSpaceOnUse" cx="246.2" cy="261.8" r="175"><stop offset="0" stop-opacity="1"/><stop offset=".057" stop-opacity="1"/><stop offset=".114" stop-opacity=".99"/><stop offset=".189" stop-opacity=".92"/><stop offset=".286" stop-opacity=".84"/><stop offset=".383" stop-opacity=".73"/><stop offset=".486" stop-opacity=".57"/><stop offset=".571" stop-opacity=".42"/><stop offset=".669" stop-opacity=".25"/><stop offset=".789" stop-opacity=".11"/><stop offset=".914" stop-opacity=".04"/><stop offset="1" stop-opacity=".02"/></radialGradient>
<radialGradient id="w99" gradientUnits="userSpaceOnUse" cx="246.2" cy="261.8" r="175"><stop offset="0" stop-opacity="1"/><stop offset=".057" stop-opacity=".98"/><stop offset=".114" stop-opacity=".89"/><stop offset=".189" stop-opacity=".82"/><stop offset=".286" stop-opacity=".75"/><stop offset=".383" stop-opacity=".66"/><stop offset=".486" stop-opacity=".52"/><stop offset=".571" stop-opacity=".4"/><stop offset=".669" stop-opacity=".24"/><stop offset=".789" stop-opacity=".11"/><stop offset=".914" stop-opacity=".04"/><stop offset="1" stop-opacity=".03"/></radialGradient>
<radialGradient id="w100" gradientUnits="userSpaceOnUse" cx="246.2" cy="261.8" r="175"><stop offset="0" stop-opacity="1"/><stop offset=".114" stop-opacity="1"/><stop offset=".189" stop-opacity=".94"/><stop offset=".286" stop-opacity=".86"/><stop offset=".383" stop-opacity=".75"/><stop offset=".486" stop-opacity=".59"/><stop offset=".571" stop-opacity=".44"/><stop offset=".669" stop-opacity=".26"/><stop offset=".789" stop-opacity=".11"/><stop offset=".914" stop-opacity=".04"/><stop offset="1" stop-opacity=".03"/></radialGradient>
<radialGradient id="w101" gradientUnits="userSpaceOnUse" cx="246.2" cy="261.8" r="175"><stop offset="0" stop-opacity="1"/><stop offset=".057" stop-opacity="1"/><stop offset=".114" stop-opacity=".92"/><stop offset=".189" stop-opacity=".84"/><stop offset=".286" stop-opacity=".77"/><stop offset=".383" stop-opacity=".67"/><stop offset=".486" stop-opacity=".51"/><stop offset=".571" stop-opacity=".38"/><stop offset=".669" stop-opacity=".21"/><stop offset=".789" stop-opacity=".09"/><stop offset=".914" stop-opacity=".04"/><stop offset="1" stop-opacity=".02"/></radialGradient>
<radialGradient id="w102" gradientUnits="userSpaceOnUse" cx="246.2" cy="261.8" r="175"><stop offset="0" stop-opacity="1"/><stop offset=".057" stop-opacity=".91"/><stop offset=".114" stop-opacity=".82"/><stop offset=".189" stop-opacity=".75"/><stop offset=".286" stop-opacity=".69"/><stop offset=".383" stop-opacity=".59"/><stop offset=".486" stop-opacity=".45"/><stop offset=".571" stop-opacity=".32"/><stop offset=".669" stop-opacity=".17"/><stop offset=".789" stop-opacity=".07"/><stop offset=".914" stop-opacity=".03"/><stop offset="1" stop-opacity=".01"/></radialGradient>
<radialGradient id="w103" gradientUnits="userSpaceOnUse" cx="246.2" cy="261.8" r="175"><stop offset="0" stop-opacity="1"/><stop offset=".057" stop-opacity=".89"/><stop offset=".114" stop-opacity=".8"/><stop offset=".189" stop-opacity=".74"/><stop offset=".286" stop-opacity=".67"/><stop offset=".383" stop-opacity=".57"/><stop offset=".486" stop-opacity=".43"/><stop offset=".571" stop-opacity=".3"/><stop offset=".669" stop-opacity=".16"/><stop offset=".789" stop-opacity=".07"/><stop offset=".914" stop-opacity=".03"/><stop offset="1" stop-opacity=".01"/></radialGradient>
<radialGradient id="w104" gradientUnits="userSpaceOnUse" cx="246.2" cy="261.8" r="175"><stop offset="0" stop-opacity="1"/><stop offset=".057" stop-opacity="1"/><stop offset=".114" stop-opacity=".91"/><stop offset=".189" stop-opacity=".84"/><stop offset=".286" stop-opacity=".76"/><stop offset=".383" stop-opacity=".64"/><stop offset=".486" stop-opacity=".49"/><stop offset=".571" stop-opacity=".34"/><stop offset=".669" stop-opacity=".18"/><stop offset=".789" stop-opacity=".08"/><stop offset=".914" stop-opacity=".03"/><stop offset="1" stop-opacity=".01"/></radialGradient>
<radialGradient id="w105" gradientUnits="userSpaceOnUse" cx="246.2" cy="261.8" r="175"><stop offset="0" stop-opacity="1"/><stop offset=".057" stop-opacity=".91"/><stop offset=".114" stop-opacity=".82"/><stop offset=".189" stop-opacity=".76"/><stop offset=".286" stop-opacity=".69"/><stop offset=".383" stop-opacity=".58"/><stop offset=".486" stop-opacity=".44"/><stop offset=".571" stop-opacity=".3"/><stop offset=".669" stop-opacity=".15"/><stop offset=".789" stop-opacity=".07"/><stop offset=".914" stop-opacity=".03"/><stop offset="1" stop-opacity=".01"/></radialGradient>
<radialGradient id="w106" gradientUnits="userSpaceOnUse" cx="246.2" cy="261.8" r="175"><stop offset="0" stop-opacity="1"/><stop offset=".057" stop-opacity=".9"/><stop offset=".114" stop-opacity=".81"/><stop offset=".189" stop-opacity=".75"/><stop offset=".286" stop-opacity=".68"/><stop offset=".383" stop-opacity=".57"/><stop offset=".486" stop-opacity=".42"/><stop offset=".571" stop-opacity=".29"/><stop offset=".669" stop-opacity=".14"/><stop offset=".789" stop-opacity=".06"/><stop offset=".914" stop-opacity=".02"/><stop offset="1" stop-opacity=".01"/></radialGradient>
<radialGradient id="w107" gradientUnits="userSpaceOnUse" cx="246.2" cy="261.8" r="175"><stop offset="0" stop-opacity="1"/><stop offset=".057" stop-opacity=".92"/><stop offset=".114" stop-opacity=".83"/><stop offset=".189" stop-opacity=".76"/><stop offset=".286" stop-opacity=".69"/><stop offset=".383" stop-opacity=".58"/><stop offset=".486" stop-opacity=".43"/><stop offset=".571" stop-opacity=".29"/><stop offset=".669" stop-opacity=".14"/><stop offset=".789" stop-opacity=".05"/><stop offset=".914" stop-opacity=".02"/><stop offset="1" stop-opacity=".01"/></radialGradient>
<radialGradient id="w108" gradientUnits="userSpaceOnUse" cx="246.2" cy="261.8" r="175"><stop offset="0" stop-opacity="1"/><stop offset=".057" stop-opacity=".9"/><stop offset=".114" stop-opacity=".81"/><stop offset=".189" stop-opacity=".74"/><stop offset=".286" stop-opacity=".68"/><stop offset=".383" stop-opacity=".56"/><stop offset=".486" stop-opacity=".42"/><stop offset=".571" stop-opacity=".28"/><stop offset=".669" stop-opacity=".13"/><stop offset=".789" stop-opacity=".05"/><stop offset=".914" stop-opacity=".02"/><stop offset="1" stop-opacity=".01"/></radialGradient>
<radialGradient id="w109" gradientUnits="userSpaceOnUse" cx="246.2" cy="261.8" r="175"><stop offset="0" stop-opacity="1"/><stop offset=".057" stop-opacity=".85"/><stop offset=".114" stop-opacity=".77"/><stop offset=".189" stop-opacity=".71"/><stop offset=".286" stop-opacity=".64"/><stop offset=".383" stop-opacity=".53"/><stop offset=".486" stop-opacity=".39"/><stop offset=".571" stop-opacity=".26"/><stop offset=".669" stop-opacity=".12"/><stop offset=".789" stop-opacity=".04"/><stop offset=".914" stop-opacity=".01"/><stop offset="1" stop-opacity="0"/></radialGradient>
<radialGradient id="w110" gradientUnits="userSpaceOnUse" cx="246.2" cy="261.8" r="175"><stop offset="0" stop-opacity="1"/><stop offset=".057" stop-opacity=".9"/><stop offset=".114" stop-opacity=".81"/><stop offset=".189" stop-opacity=".75"/><stop offset=".286" stop-opacity=".68"/><stop offset=".383" stop-opacity=".56"/><stop offset=".486" stop-opacity=".41"/><stop offset=".571" stop-opacity=".27"/><stop offset=".669" stop-opacity=".12"/><stop offset=".789" stop-opacity=".03"/><stop offset=".914" stop-opacity=".01"/><stop offset="1" stop-opacity="0"/></radialGradient>
<radialGradient id="w111" gradientUnits="userSpaceOnUse" cx="246.2" cy="261.8" r="175"><stop offset="0" stop-opacity="1"/><stop offset=".057" stop-opacity=".94"/><stop offset=".114" stop-opacity=".84"/><stop offset=".189" stop-opacity=".77"/><stop offset=".286" stop-opacity=".7"/><stop offset=".383" stop-opacity=".58"/><stop offset=".486" stop-opacity=".43"/><stop offset=".571" stop-opacity=".28"/><stop offset=".669" stop-opacity=".11"/><stop offset=".789" stop-opacity=".03"/><stop offset=".914" stop-opacity=".01"/><stop offset="1" stop-opacity="0"/></radialGradient>
<radialGradient id="w112" gradientUnits="userSpaceOnUse" cx="246.2" cy="261.8" r="175"><stop offset="0" stop-opacity="1"/><stop offset=".057" stop-opacity=".85"/><stop offset=".114" stop-opacity=".77"/><stop offset=".189" stop-opacity=".71"/><stop offset=".286" stop-opacity=".64"/><stop offset=".383" stop-opacity=".54"/><stop offset=".486" stop-opacity=".4"/><stop offset=".571" stop-opacity=".27"/><stop offset=".669" stop-opacity=".12"/><stop offset=".789" stop-opacity=".03"/><stop offset=".914" stop-opacity=".01"/><stop offset="1" stop-opacity="0"/></radialGradient>
<radialGradient id="w113" gradientUnits="userSpaceOnUse" cx="246.2" cy="261.8" r="175"><stop offset="0" stop-opacity="1"/><stop offset=".057" stop-opacity=".91"/><stop offset=".114" stop-opacity=".82"/><stop offset=".189" stop-opacity=".76"/><stop offset=".286" stop-opacity=".69"/><stop offset=".383" stop-opacity=".59"/><stop offset=".486" stop-opacity=".45"/><stop offset=".571" stop-opacity=".32"/><stop offset=".669" stop-opacity=".17"/><stop offset=".789" stop-opacity=".04"/><stop offset=".914" stop-opacity=".01"/><stop offset="1" stop-opacity="0"/></radialGradient>
<radialGradient id="w114" gradientUnits="userSpaceOnUse" cx="246.2" cy="261.8" r="175"><stop offset="0" stop-opacity="1"/><stop offset=".057" stop-opacity=".92"/><stop offset=".114" stop-opacity=".83"/><stop offset=".189" stop-opacity=".77"/><stop offset=".286" stop-opacity=".7"/><stop offset=".383" stop-opacity=".61"/><stop offset=".486" stop-opacity=".48"/><stop offset=".571" stop-opacity=".35"/><stop offset=".669" stop-opacity=".2"/><stop offset=".789" stop-opacity=".05"/><stop offset=".914" stop-opacity=".01"/><stop offset="1" stop-opacity="0"/></radialGradient>
<radialGradient id="w115" gradientUnits="userSpaceOnUse" cx="246.2" cy="261.8" r="175"><stop offset="0" stop-opacity=".93"/><stop offset=".057" stop-opacity=".77"/><stop offset=".114" stop-opacity=".7"/><stop offset=".189" stop-opacity=".64"/><stop offset=".286" stop-opacity=".59"/><stop offset=".383" stop-opacity=".51"/><stop offset=".486" stop-opacity=".4"/><stop offset=".571" stop-opacity=".3"/><stop offset=".669" stop-opacity=".18"/><stop offset=".789" stop-opacity=".04"/><stop offset=".914" stop-opacity="0"/><stop offset="1" stop-opacity="0"/></radialGradient>
<radialGradient id="w116" gradientUnits="userSpaceOnUse" cx="246.2" cy="261.8" r="175"><stop offset="0" stop-opacity="1"/><stop offset=".057" stop-opacity=".88"/><stop offset=".114" stop-opacity=".79"/><stop offset=".189" stop-opacity=".73"/><stop offset=".286" stop-opacity=".67"/><stop offset=".383" stop-opacity=".58"/><stop offset=".486" stop-opacity=".45"/><stop offset=".571" stop-opacity=".33"/><stop offset=".669" stop-opacity=".19"/><stop offset=".789" stop-opacity=".03"/><stop offset=".914" stop-opacity="0"/><stop offset="1" stop-opacity="0"/></radialGradient>
<radialGradient id="w117" gradientUnits="userSpaceOnUse" cx="246.2" cy="261.8" r="175"><stop offset="0" stop-opacity="1"/><stop offset=".057" stop-opacity=".9"/><stop offset=".114" stop-opacity=".81"/><stop offset=".189" stop-opacity=".75"/><stop offset=".286" stop-opacity=".68"/><stop offset=".383" stop-opacity=".58"/><stop offset=".486" stop-opacity=".45"/><stop offset=".571" stop-opacity=".32"/><stop offset=".669" stop-opacity=".18"/><stop offset=".789" stop-opacity=".02"/><stop offset=".914" stop-opacity="0"/><stop offset="1" stop-opacity="0"/></radialGradient>
<radialGradient id="w118" gradientUnits="userSpaceOnUse" cx="246.2" cy="261.8" r="175"><stop offset="0" stop-opacity=".93"/><stop offset=".057" stop-opacity=".77"/><stop offset=".114" stop-opacity=".69"/><stop offset=".189" stop-opacity=".64"/><stop offset=".286" stop-opacity=".58"/><stop offset=".383" stop-opacity=".49"/><stop offset=".486" stop-opacity=".37"/><stop offset=".571" stop-opacity=".26"/><stop offset=".669" stop-opacity=".13"/><stop offset=".789" stop-opacity=".01"/><stop offset=".914" stop-opacity="0"/><stop offset="1" stop-opacity="0"/></radialGradient>
<radialGradient id="w119" gradientUnits="userSpaceOnUse" cx="246.2" cy="261.8" r="175"><stop offset="0" stop-opacity=".92"/><stop offset=".057" stop-opacity=".76"/><stop offset=".114" stop-opacity=".69"/><stop offset=".189" stop-opacity=".63"/><stop offset=".286" stop-opacity=".58"/><stop offset=".383" stop-opacity=".49"/><stop offset=".486" stop-opacity=".37"/><stop offset=".571" stop-opacity=".26"/><stop offset=".669" stop-opacity=".12"/><stop offset=".789" stop-opacity=".01"/><stop offset=".914" stop-opacity="0"/><stop offset="1" stop-opacity="0"/></radialGradient>
<radialGradient id="w120" gradientUnits="userSpaceOnUse" cx="246.2" cy="261.8" r="175"><stop offset="0" stop-opacity="1"/><stop offset=".057" stop-opacity=".84"/><stop offset=".114" stop-opacity=".76"/><stop offset=".189" stop-opacity=".7"/><stop offset=".286" stop-opacity=".64"/><stop offset=".383" stop-opacity=".54"/><stop offset=".486" stop-opacity=".41"/><stop offset=".571" stop-opacity=".29"/><stop offset=".669" stop-opacity=".15"/><stop offset=".789" stop-opacity=".01"/><stop offset=".914" stop-opacity="0"/><stop offset="1" stop-opacity="0"/></radialGradient>
<radialGradient id="w121" gradientUnits="userSpaceOnUse" cx="246.2" cy="261.8" r="175"><stop offset="0" stop-opacity=".92"/><stop offset=".057" stop-opacity=".77"/><stop offset=".114" stop-opacity=".69"/><stop offset=".189" stop-opacity=".64"/><stop offset=".286" stop-opacity=".58"/><stop offset=".383" stop-opacity=".5"/><stop offset=".486" stop-opacity=".38"/><stop offset=".571" stop-opacity=".27"/><stop offset=".669" stop-opacity=".15"/><stop offset=".789" stop-opacity=".02"/><stop offset=".914" stop-opacity="0"/><stop offset="1" stop-opacity="0"/></radialGradient>
<radialGradient id="w122" gradientUnits="userSpaceOnUse" cx="246.2" cy="261.8" r="175"><stop offset="0" stop-opacity="1"/><stop offset=".057" stop-opacity=".84"/><stop offset=".114" stop-opacity=".76"/><stop offset=".189" stop-opacity=".7"/><stop offset=".286" stop-opacity=".64"/><stop offset=".383" stop-opacity=".55"/><stop offset=".486" stop-opacity=".42"/><stop offset=".571" stop-opacity=".3"/><stop offset=".669" stop-opacity=".17"/><stop offset=".789" stop-opacity=".02"/><stop offset=".914" stop-opacity="0"/><stop offset="1" stop-opacity="0"/></radialGradient>
<radialGradient id="w123" gradientUnits="userSpaceOnUse" cx="246.2" cy="261.8" r="175"><stop offset="0" stop-opacity=".99"/><stop offset=".057" stop-opacity=".82"/><stop offset=".114" stop-opacity=".74"/><stop offset=".189" stop-opacity=".68"/><stop offset=".286" stop-opacity=".62"/><stop offset=".383" stop-opacity=".53"/><stop offset=".486" stop-opacity=".41"/><stop offset=".571" stop-opacity=".29"/><stop offset=".669" stop-opacity=".16"/><stop offset=".789" stop-opacity=".02"/><stop offset=".914" stop-opacity="0"/><stop offset="1" stop-opacity="0"/></radialGradient>
<radialGradient id="w124" gradientUnits="userSpaceOnUse" cx="246.2" cy="261.8" r="175"><stop offset="0" stop-opacity=".97"/><stop offset=".057" stop-opacity=".81"/><stop offset=".114" stop-opacity=".73"/><stop offset=".189" stop-opacity=".67"/><stop offset=".286" stop-opacity=".61"/><stop offset=".383" stop-opacity=".52"/><stop offset=".486" stop-opacity=".4"/><stop offset=".571" stop-opacity=".29"/><stop offset=".669" stop-opacity=".16"/><stop offset=".789" stop-opacity=".02"/><stop offset=".914" stop-opacity="0"/><stop offset="1" stop-opacity="0"/></radialGradient>
<radialGradient id="w125" gradientUnits="userSpaceOnUse" cx="246.2" cy="261.8" r="175"><stop offset="0" stop-opacity=".97"/><stop offset=".057" stop-opacity=".81"/><stop offset=".114" stop-opacity=".73"/><stop offset=".189" stop-opacity=".67"/><stop offset=".286" stop-opacity=".61"/><stop offset=".383" stop-opacity=".52"/><stop offset=".486" stop-opacity=".4"/><stop offset=".571" stop-opacity=".28"/><stop offset=".669" stop-opacity=".15"/><stop offset=".789" stop-opacity=".02"/><stop offset=".914" stop-opacity="0"/><stop offset="1" stop-opacity="0"/></radialGradient>
<radialGradient id="w126" gradientUnits="userSpaceOnUse" cx="246.2" cy="261.8" r="175"><stop offset="0" stop-opacity="1"/><stop offset=".114" stop-opacity="1"/><stop offset=".189" stop-opacity=".93"/><stop offset=".286" stop-opacity=".84"/><stop offset=".383" stop-opacity=".66"/><stop offset=".486" stop-opacity=".45"/><stop offset=".571" stop-opacity=".26"/><stop offset=".669" stop-opacity=".08"/><stop offset=".789" stop-opacity=".02"/><stop offset=".914" stop-opacity="0"/><stop offset="1" stop-opacity="0"/></radialGradient>
<radialGradient id="w127" gradientUnits="userSpaceOnUse" cx="246.2" cy="261.8" r="175"><stop offset="0" stop-opacity="1"/><stop offset=".114" stop-opacity="1"/><stop offset=".189" stop-opacity=".94"/><stop offset=".286" stop-opacity=".84"/><stop offset=".383" stop-opacity=".66"/><stop offset=".486" stop-opacity=".45"/><stop offset=".571" stop-opacity=".26"/><stop offset=".669" stop-opacity=".08"/><stop offset=".789" stop-opacity=".02"/><stop offset=".914" stop-opacity="0"/><stop offset="1" stop-opacity="0"/></radialGradient>
<radialGradient id="w128" gradientUnits="userSpaceOnUse" cx="246.2" cy="261.8" r="175"><stop offset="0" stop-opacity="1"/><stop offset=".114" stop-opacity="1"/><stop offset=".189" stop-opacity=".92"/><stop offset=".286" stop-opacity=".83"/><stop offset=".383" stop-opacity=".65"/><stop offset=".486" stop-opacity=".44"/><stop offset=".571" stop-opacity=".25"/><stop offset=".669" stop-opacity=".08"/><stop offset=".789" stop-opacity=".02"/><stop offset=".914" stop-opacity="0"/><stop offset="1" stop-opacity="0"/></radialGradient>
<radialGradient id="w129" gradientUnits="userSpaceOnUse" cx="246.2" cy="261.8" r="175"><stop offset="0" stop-opacity="1"/><stop offset=".114" stop-opacity="1"/><stop offset=".189" stop-opacity=".96"/><stop offset=".286" stop-opacity=".87"/><stop offset=".383" stop-opacity=".68"/><stop offset=".486" stop-opacity=".46"/><stop offset=".571" stop-opacity=".26"/><stop offset=".669" stop-opacity=".08"/><stop offset=".789" stop-opacity=".02"/><stop offset=".914" stop-opacity="0"/><stop offset="1" stop-opacity="0"/></radialGradient>
<radialGradient id="w130" gradientUnits="userSpaceOnUse" cx="246.2" cy="261.8" r="175"><stop offset="0" stop-opacity="1"/><stop offset=".057" stop-opacity="1"/><stop offset=".114" stop-opacity=".94"/><stop offset=".189" stop-opacity=".86"/><stop offset=".286" stop-opacity=".77"/><stop offset=".383" stop-opacity=".6"/><stop offset=".486" stop-opacity=".4"/><stop offset=".571" stop-opacity=".22"/><stop offset=".669" stop-opacity=".07"/><stop offset=".789" stop-opacity=".01"/><stop offset=".914" stop-opacity="0"/><stop offset="1" stop-opacity="0"/></radialGradient>
<radialGradient id="w131" gradientUnits="userSpaceOnUse" cx="246.2" cy="261.8" r="175"><stop offset="0" stop-opacity="1"/><stop offset=".114" stop-opacity="1"/><stop offset=".189" stop-opacity=".96"/><stop offset=".286" stop-opacity=".86"/><stop offset=".383" stop-opacity=".67"/><stop offset=".486" stop-opacity=".44"/><stop offset=".571" stop-opacity=".24"/><stop offset=".669" stop-opacity=".07"/><stop offset=".789" stop-opacity=".02"/><stop offset=".914" stop-opacity="0"/><stop offset="1" stop-opacity="0"/></radialGradient>
<radialGradient id="w132" gradientUnits="userSpaceOnUse" cx="246.2" cy="261.8" r="175"><stop offset="0" stop-opacity="1"/><stop offset=".189" stop-opacity="1"/><stop offset=".286" stop-opacity=".95"/><stop offset=".383" stop-opacity=".74"/><stop offset=".486" stop-opacity=".49"/><stop offset=".571" stop-opacity=".26"/><stop offset=".669" stop-opacity=".07"/><stop offset=".789" stop-opacity=".02"/><stop offset=".914" stop-opacity="0"/><stop offset="1" stop-opacity="0"/></radialGradient>
<radialGradient id="w133" gradientUnits="userSpaceOnUse" cx="246.2" cy="261.8" r="175"><stop offset="0" stop-opacity="1"/><stop offset=".057" stop-opacity="1"/><stop offset=".114" stop-opacity=".91"/><stop offset=".189" stop-opacity=".84"/><stop offset=".286" stop-opacity=".74"/><stop offset=".383" stop-opacity=".58"/><stop offset=".486" stop-opacity=".38"/><stop offset=".571" stop-opacity=".2"/><stop offset=".669" stop-opacity=".05"/><stop offset=".789" stop-opacity=".01"/><stop offset=".914" stop-opacity="0"/><stop offset="1" stop-opacity="0"/></radialGradient>
<radialGradient id="w134" gradientUnits="userSpaceOnUse" cx="246.2" cy="261.8" r="175"><stop offset="0" stop-opacity="1"/><stop offset=".114" stop-opacity="1"/><stop offset=".189" stop-opacity=".96"/><stop offset=".286" stop-opacity=".85"/><stop offset=".383" stop-opacity=".66"/><stop offset=".486" stop-opacity=".43"/><stop offset=".571" stop-opacity=".23"/><stop offset=".669" stop-opacity=".06"/><stop offset=".789" stop-opacity=".01"/><stop offset=".914" stop-opacity="0"/><stop offset="1" stop-opacity="0"/></radialGradient>
<radialGradient id="w135" gradientUnits="userSpaceOnUse" cx="246.2" cy="261.8" r="175"><stop offset="0" stop-opacity="1"/><stop offset=".189" stop-opacity="1"/><stop offset=".286" stop-opacity=".88"/><stop offset=".383" stop-opacity=".67"/><stop offset=".486" stop-opacity=".43"/><stop offset=".571" stop-opacity=".22"/><stop offset=".669" stop-opacity=".05"/><stop offset=".789" stop-opacity=".01"/><stop offset=".914" stop-opacity="0"/><stop offset="1" stop-opacity="0"/></radialGradient>
<radialGradient id="w136" gradientUnits="userSpaceOnUse" cx="246.2" cy="261.8" r="175"><stop offset="0" stop-opacity="1"/><stop offset=".114" stop-opacity="1"/><stop offset=".189" stop-opacity=".98"/><stop offset=".286" stop-opacity=".86"/><stop offset=".383" stop-opacity=".65"/><stop offset=".486" stop-opacity=".4"/><stop offset=".571" stop-opacity=".19"/><stop offset=".669" stop-opacity=".05"/><stop offset=".789" stop-opacity=".01"/><stop offset=".914" stop-opacity="0"/><stop offset="1" stop-opacity="0"/></radialGradient>
<radialGradient id="w137" gradientUnits="userSpaceOnUse" cx="246.2" cy="261.8" r="175"><stop offset="0" stop-opacity="1"/><stop offset=".189" stop-opacity="1"/><stop offset=".286" stop-opacity=".9"/><stop offset=".383" stop-opacity=".67"/><stop offset=".486" stop-opacity=".41"/><stop offset=".571" stop-opacity=".17"/><stop offset=".669" stop-opacity=".04"/><stop offset=".789" stop-opacity=".01"/><stop offset=".914" stop-opacity="0"/><stop offset="1" stop-opacity="0"/></radialGradient>
<radialGradient id="w138" gradientUnits="userSpaceOnUse" cx="246.2" cy="261.8" r="175"><stop offset="0" stop-opacity="1"/><stop offset=".189" stop-opacity="1"/><stop offset=".286" stop-opacity=".88"/><stop offset=".383" stop-opacity=".66"/><stop offset=".486" stop-opacity=".38"/><stop offset=".571" stop-opacity=".15"/><stop offset=".669" stop-opacity=".03"/><stop offset=".789" stop-opacity=".01"/><stop offset=".914" stop-opacity="0"/><stop offset="1" stop-opacity="0"/></radialGradient>
<radialGradient id="w139" gradientUnits="userSpaceOnUse" cx="246.2" cy="261.8" r="175"><stop offset="0" stop-opacity="1"/><stop offset=".189" stop-opacity="1"/><stop offset=".286" stop-opacity=".88"/><stop offset=".383" stop-opacity=".65"/><stop offset=".486" stop-opacity=".37"/><stop offset=".571" stop-opacity=".13"/><stop offset=".669" stop-opacity=".03"/><stop offset=".789" stop-opacity=".01"/><stop offset=".914" stop-opacity="0"/><stop offset="1" stop-opacity="0"/></radialGradient>
<radialGradient id="rb" gradientUnits="userSpaceOnUse" cx="246.2" cy="261.8" r="175"><stop offset="0" stop-opacity="0"/><stop offset=".057" stop-opacity=".4"/><stop offset=".2" stop-opacity=".36"/><stop offset=".343" stop-opacity=".24"/><stop offset=".486" stop-opacity=".1"/><stop offset=".64" stop-opacity="0"/></radialGradient>
<radialGradient id="rc" gradientUnits="userSpaceOnUse" cx="246.2" cy="261.8" r="175"><stop offset="0" stop-opacity="0"/><stop offset=".057" stop-opacity=".25"/><stop offset=".2" stop-opacity=".22"/><stop offset=".343" stop-opacity=".14"/><stop offset=".486" stop-opacity=".06"/><stop offset=".64" stop-opacity="0"/></radialGradient>
<radialGradient id="rd" gradientUnits="userSpaceOnUse" cx="246.2" cy="261.8" r="175"><stop offset="0" stop-opacity="0" style="stop-color:#000"/><stop offset=".08" stop-opacity=".03" style="stop-color:#000"/><stop offset=".229" stop-opacity=".1" style="stop-color:#000"/><stop offset=".4" stop-opacity=".12" style="stop-color:#000"/><stop offset=".571" stop-opacity=".08" style="stop-color:#000"/><stop offset=".714" stop-opacity="0" style="stop-color:#000"/></radialGradient>
</defs>
<g clip-path="url(#cl)">
<rect x="59" y="74.5" width="374.5" height="374.5" fill="#000"/>
<g transform="rotate(-52 246.2 261.8)"><rect x="-33.8" y="-18.2" width="560" height="560" filter="url(#nz0)"/></g>
<g shape-rendering="crispEdges">
<g clip-path="url(#cf)">
<path d="M246.2 261.8L176.5 426.1L182.3 428.4Z" fill="url(#w0)"/>
<path d="M246.2 261.8L182.3 428.4L188.1 430.5Z" fill="url(#w1)"/>
<path d="M246.2 261.8L188.1 430.5L194.1 432.5Z" fill="url(#w2)"/>
<path d="M246.2 261.8L194.1 432.5L200.1 434.2Z" fill="url(#w3)"/>
<path d="M246.2 261.8L200.1 434.2L206.1 435.7Z" fill="url(#w4)"/>
<path d="M246.2 261.8L206.1 435.7L212.2 437Z" fill="url(#w5)"/>
<path d="M246.2 261.8L212.2 437L218.3 438.1Z" fill="url(#w6)"/>
<path d="M246.2 261.8L218.3 438.1L224.5 438.9Z" fill="url(#w7)"/>
<path d="M246.2 261.8L224.5 438.9L230.7 439.6Z" fill="url(#w8)"/>
<path d="M246.2 261.8L230.7 439.6L236.9 440Z" fill="url(#w9)"/>
<path d="M246.2 261.8L236.9 440L243.1 440.2Z" fill="url(#w10)"/>
<path d="M246.2 261.8L243.1 440.2L249.4 440.2Z" fill="url(#w11)"/>
<path d="M246.2 261.8L249.4 440.2L255.6 440Z" fill="url(#w12)"/>
<path d="M246.2 261.8L255.6 440L261.8 439.6Z" fill="url(#w13)"/>
<path d="M246.2 261.8L261.8 439.6L268 438.9Z" fill="url(#w14)"/>
<path d="M246.2 261.8L268 438.9L274.2 438.1Z" fill="url(#w15)"/>
<path d="M246.2 261.8L274.2 438.1L280.3 437Z" fill="url(#w16)"/>
<path d="M246.2 261.8L280.3 437L286.4 435.7Z" fill="url(#w17)"/>
<path d="M246.2 261.8L286.4 435.7L292.4 434.2Z" fill="url(#w18)"/>
<path d="M246.2 261.8L292.4 434.2L298.4 432.5Z" fill="url(#w19)"/>
<path d="M246.2 261.8L298.4 432.5L304.4 430.5Z" fill="url(#w20)"/>
<path d="M246.2 261.8L304.4 430.5L310.2 428.4Z" fill="url(#w21)"/>
<path d="M246.2 261.8L310.2 428.4L316 426.1Z" fill="url(#w22)"/>
<path d="M246.2 261.8L316 426.1L321.7 423.5Z" fill="url(#w23)"/>
<path d="M246.2 261.8L321.7 423.5L327.3 420.8Z" fill="url(#w24)"/>
<path d="M246.2 261.8L327.3 420.8L332.8 417.9Z" fill="url(#w25)"/>
<path d="M246.2 261.8L332.8 417.9L338.2 414.8Z" fill="url(#w26)"/>
<path d="M246.2 261.8L338.2 414.8L343.5 411.5Z" fill="url(#w27)"/>
<path d="M246.2 261.8L343.5 411.5L348.6 408Z" fill="url(#w28)"/>
<path d="M246.2 261.8L348.6 408L353.7 404.3Z" fill="url(#w29)"/>
<path d="M246.2 261.8L353.7 404.3L358.6 400.5Z" fill="url(#w30)"/>
<path d="M246.2 261.8L358.6 400.5L363.4 396.5Z" fill="url(#w31)"/>
<path d="M246.2 261.8L363.4 396.5L368 392.3Z" fill="url(#w32)"/>
<path d="M246.2 261.8L368 392.3L372.5 388Z" fill="url(#w33)"/>
<path d="M246.2 261.8L372.5 388L376.8 383.5Z" fill="url(#w34)"/>
<path d="M246.2 261.8L376.8 383.5L381 378.9Z" fill="url(#w35)"/>
<path d="M246.2 261.8L381 378.9L385 374.1Z" fill="url(#w36)"/>
<path d="M246.2 261.8L385 374.1L388.8 369.2Z" fill="url(#w37)"/>
<path d="M246.2 261.8L388.8 369.2L392.5 364.1Z" fill="url(#w38)"/>
<path d="M246.2 261.8L392.5 364.1L396 359Z" fill="url(#w39)"/>
<path d="M246.2 261.8L396 359L399.3 353.7Z" fill="url(#w40)"/>
<path d="M246.2 261.8L399.3 353.7L402.4 348.3Z" fill="url(#w41)"/>
<path d="M246.2 261.8L402.4 348.3L405.3 342.8Z" fill="url(#w42)"/>
<path d="M246.2 261.8L405.3 342.8L408 337.2Z" fill="url(#w43)"/>
<path d="M246.2 261.8L408 337.2L410.6 331.5Z" fill="url(#w44)"/>
<path d="M246.2 261.8L410.6 331.5L412.9 325.7Z" fill="url(#w45)"/>
<path d="M246.2 261.8L412.9 325.7L415 319.9Z" fill="url(#w46)"/>
<path d="M246.2 261.8L415 319.9L417 313.9Z" fill="url(#w47)"/>
<path d="M246.2 261.8L417 313.9L418.7 307.9Z" fill="url(#w48)"/>
<path d="M246.2 261.8L418.7 307.9L420.2 301.9Z" fill="url(#w49)"/>
<path d="M246.2 261.8L420.2 301.9L421.5 295.8Z" fill="url(#w50)"/>
<path d="M246.2 261.8L421.5 295.8L422.6 289.7Z" fill="url(#w51)"/>
<path d="M246.2 261.8L422.6 289.7L423.4 283.5Z" fill="url(#w52)"/>
<path d="M246.2 261.8L423.4 283.5L424.1 277.3Z" fill="url(#w53)"/>
<path d="M246.2 261.8L424.1 277.3L424.5 271.1Z" fill="url(#w54)"/>
<path d="M246.2 261.8L424.5 271.1L424.7 264.9Z" fill="url(#w55)"/>
<path d="M246.2 261.8L424.7 264.9L424.7 258.6Z" fill="url(#w56)"/>
<path d="M246.2 261.8L424.7 258.6L424.5 252.4Z" fill="url(#w57)"/>
<path d="M246.2 261.8L424.5 252.4L424.1 246.2Z" fill="url(#w58)"/>
<path d="M246.2 261.8L424.1 246.2L423.4 240Z" fill="url(#w59)"/>
<path d="M246.2 261.8L423.4 240L422.6 233.8Z" fill="url(#w60)"/>
<path d="M246.2 261.8L422.6 233.8L421.5 227.7Z" fill="url(#w61)"/>
<path d="M246.2 261.8L421.5 227.7L420.2 221.6Z" fill="url(#w62)"/>
<path d="M246.2 261.8L420.2 221.6L418.7 215.6Z" fill="url(#w63)"/>
<path d="M246.2 261.8L418.7 215.6L417 209.6Z" fill="url(#w64)"/>
<path d="M246.2 261.8L417 209.6L415 203.6Z" fill="url(#w65)"/>
<path d="M246.2 261.8L415 203.6L412.9 197.8Z" fill="url(#w66)"/>
<path d="M246.2 261.8L412.9 197.8L410.6 192Z" fill="url(#w67)"/>
<path d="M246.2 261.8L410.6 192L408 186.3Z" fill="url(#w68)"/>
<path d="M246.2 261.8L408 186.3L405.3 180.7Z" fill="url(#w69)"/>
<path d="M246.2 261.8L405.3 180.7L402.4 175.2Z" fill="url(#w70)"/>
<path d="M246.2 261.8L402.4 175.2L399.3 169.8Z" fill="url(#w71)"/>
<path d="M246.2 261.8L399.3 169.8L396 164.5Z" fill="url(#w72)"/>
<path d="M246.2 261.8L396 164.5L392.5 159.4Z" fill="url(#w73)"/>
<path d="M246.2 261.8L392.5 159.4L388.8 154.3Z" fill="url(#w74)"/>
<path d="M246.2 261.8L388.8 154.3L385 149.4Z" fill="url(#w75)"/>
<path d="M246.2 261.8L385 149.4L381 144.6Z" fill="url(#w76)"/>
<path d="M246.2 261.8L381 144.6L376.8 140Z" fill="url(#w77)"/>
<path d="M246.2 261.8L376.8 140L372.5 135.5Z" fill="url(#w78)"/>
<path d="M246.2 261.8L372.5 135.5L368 131.2Z" fill="url(#w79)"/>
<path d="M246.2 261.8L368 131.2L363.4 127Z" fill="url(#w80)"/>
<path d="M246.2 261.8L363.4 127L358.6 123Z" fill="url(#w81)"/>
<path d="M246.2 261.8L358.6 123L353.7 119.2Z" fill="url(#w82)"/>
<path d="M246.2 261.8L353.7 119.2L348.6 115.5Z" fill="url(#w83)"/>
<path d="M246.2 261.8L348.6 115.5L343.5 112Z" fill="url(#w84)"/>
<path d="M246.2 261.8L343.5 112L338.2 108.7Z" fill="url(#w85)"/>
<path d="M246.2 261.8L338.2 108.7L332.8 105.6Z" fill="url(#w86)"/>
<path d="M246.2 261.8L332.8 105.6L327.3 102.7Z" fill="url(#w87)"/>
<path d="M246.2 261.8L327.3 102.7L321.7 100Z" fill="url(#w88)"/>
<path d="M246.2 261.8L321.7 100L316 97.4Z" fill="url(#w89)"/>
<path d="M246.2 261.8L316 97.4L310.2 95.1Z" fill="url(#w90)"/>
<path d="M246.2 261.8L310.2 95.1L304.4 93Z" fill="url(#w91)"/>
<path d="M246.2 261.8L304.4 93L298.4 91Z" fill="url(#w92)"/>
<path d="M246.2 261.8L298.4 91L292.4 89.3Z" fill="url(#w93)"/>
<path d="M246.2 261.8L292.4 89.3L286.4 87.8Z" fill="url(#w94)"/>
<path d="M246.2 261.8L286.4 87.8L280.3 86.5Z" fill="url(#w95)"/>
<path d="M246.2 261.8L280.3 86.5L274.2 85.4Z" fill="url(#w96)"/>
<path d="M246.2 261.8L274.2 85.4L268 84.6Z" fill="url(#w97)"/>
<path d="M246.2 261.8L268 84.6L261.8 83.9Z" fill="url(#w98)"/>
<path d="M246.2 261.8L261.8 83.9L255.6 83.5Z" fill="url(#w99)"/>
<path d="M246.2 261.8L255.6 83.5L249.4 83.3Z" fill="url(#w100)"/>
<path d="M246.2 261.8L249.4 83.3L243.1 83.3Z" fill="url(#w101)"/>
<path d="M246.2 261.8L243.1 83.3L236.9 83.5Z" fill="url(#w102)"/>
<path d="M246.2 261.8L236.9 83.5L230.7 83.9Z" fill="url(#w103)"/>
<path d="M246.2 261.8L230.7 83.9L224.5 84.6Z" fill="url(#w104)"/>
<path d="M246.2 261.8L224.5 84.6L218.3 85.4Z" fill="url(#w105)"/>
<path d="M246.2 261.8L218.3 85.4L212.2 86.5Z" fill="url(#w106)"/>
<path d="M246.2 261.8L212.2 86.5L206.1 87.8Z" fill="url(#w107)"/>
<path d="M246.2 261.8L206.1 87.8L200.1 89.3Z" fill="url(#w108)"/>
<path d="M246.2 261.8L200.1 89.3L194.1 91Z" fill="url(#w109)"/>
<path d="M246.2 261.8L194.1 91L188.1 93Z" fill="url(#w110)"/>
<path d="M246.2 261.8L188.1 93L182.3 95.1Z" fill="url(#w111)"/>
<path d="M246.2 261.8L182.3 95.1L176.5 97.4Z" fill="url(#w112)"/>
<path d="M246.2 261.8L176.5 97.4L170.8 100Z" fill="url(#w113)"/>
<path d="M246.2 261.8L170.8 100L165.2 102.7Z" fill="url(#w114)"/>
<path d="M246.2 261.8L165.2 102.7L159.7 105.6Z" fill="url(#w115)"/>
<path d="M246.2 261.8L159.7 105.6L154.3 108.7Z" fill="url(#w116)"/>
<path d="M246.2 261.8L154.3 108.7L149 112Z" fill="url(#w117)"/>
<path d="M246.2 261.8L149 112L143.9 115.5Z" fill="url(#w118)"/>
<path d="M246.2 261.8L143.9 115.5L138.8 119.2Z" fill="url(#w119)"/>
<path d="M246.2 261.8L138.8 119.2L133.9 123Z" fill="url(#w120)"/>
<path d="M246.2 261.8L133.9 123L129.1 127Z" fill="url(#w121)"/>
<path d="M246.2 261.8L129.1 127L124.5 131.2Z" fill="url(#w122)"/>
<path d="M246.2 261.8L124.5 131.2L120 135.5Z" fill="url(#w123)"/>
<path d="M246.2 261.8L120 135.5L115.7 140Z" fill="url(#w124)"/>
<path d="M246.2 261.8L115.7 140L111.5 144.6Z" fill="url(#w125)"/>
</g>
<path d="M246.2 261.8L68 271.1L68.4 277.1Z" fill="url(#w126)"/>
<path d="M246.2 261.8L68.4 277.1L69 283.1Z" fill="url(#w127)"/>
<path d="M246.2 261.8L69 283.1L69.8 289Z" fill="url(#w128)"/>
<path d="M246.2 261.8L69.8 289L70.9 294.9Z" fill="url(#w129)"/>
<path d="M246.2 261.8L70.9 294.9L72.1 300.8Z" fill="url(#w130)"/>
<path d="M246.2 261.8L72.1 300.8L73.5 306.7Z" fill="url(#w131)"/>
<path d="M246.2 261.8L73.5 306.7L75.1 312.4Z" fill="url(#w132)"/>
<path d="M246.2 261.8L75.1 312.4L76.9 318.2Z" fill="url(#w133)"/>
<path d="M246.2 261.8L76.9 318.2L78.9 323.8Z" fill="url(#w134)"/>
<path d="M246.2 261.8L78.9 323.8L81.1 329.4Z" fill="url(#w135)"/>
<path d="M246.2 261.8L81.1 329.4L83.5 335Z" fill="url(#w136)"/>
<path d="M246.2 261.8L83.5 335L86 340.4Z" fill="url(#w137)"/>
<path d="M246.2 261.8L86 340.4L88.7 345.7Z" fill="url(#w138)"/>
<path d="M246.2 261.8L88.7 345.7L91.7 351Z" fill="url(#w139)"/>
</g>
<g clip-path="url(#cf)">
<path d="M246.2 261.8L203.7 382.5L206.9 383.6ZM246.2 261.8L209.8 384.5L212.4 385.2ZM246.2 261.8L218.1 386.6L222 387.4ZM246.2 261.8L230.5 388.8L235.8 389.3ZM246.2 261.8L273.8 386.7L279 385.5ZM246.2 261.8L307.1 374.4L311.2 372.1ZM246.2 261.8L320.5 366L323.1 364.1ZM246.2 261.8L353.2 332.1L355 329.3ZM246.2 261.8L358 324.2L360.4 319.7ZM246.2 261.8L372.8 281.2L373.3 277ZM246.2 261.8L361.8 206.8L359.7 202.4ZM246.2 261.8L352.5 190.4L350.2 187ZM246.2 261.8L345.9 181.5L343.3 178.3ZM246.2 261.8L334.9 169.5L331.7 166.5ZM246.2 261.8L329.6 164.6L327.3 162.7ZM246.2 261.8L281.6 138.7L278.7 137.9ZM246.2 261.8L274.2 136.8L269.6 135.9ZM246.2 261.8L259.9 134.5L255 134.1ZM246.2 261.8L176.2 154.6L171.9 157.6ZM246.2 261.8L169.5 159.3L166.3 161.8Z" fill="url(#rd)"/>
<path d="M246.2 261.8L197.3 380L199.3 380.8ZM246.2 261.8L239.9 389.6L242.4 389.7ZM246.2 261.8L249.5 389.7L251.7 389.6ZM246.2 261.8L266.2 388.2L268.1 387.9ZM246.2 261.8L333.9 355L335.5 353.5ZM246.2 261.8L365.9 307.2L366.8 304.8ZM246.2 261.8L369.1 297.8L369.6 295.8ZM246.2 261.8L374.2 265.8L374.2 263ZM246.2 261.8L372.2 238.7L371.7 236.2ZM246.2 261.8L367.5 220.7L366.4 217.6ZM246.2 261.8L356.7 197.1L355.1 194.4ZM246.2 261.8L338.5 173L336.3 170.8ZM246.2 261.8L309.1 150.3L306.9 149ZM246.2 261.8L250.6 133.8L247.3 133.8ZM246.2 261.8L229.3 134.9L226.9 135.2ZM246.2 261.8L203.6 141.1L201.2 141.9ZM246.2 261.8L160.7 166.6L158.6 168.4Z" fill="url(#rc)"/>
<path d="M246.2 261.8L226.3 388.2L228.2 388.5ZM246.2 261.8L255.3 389.4L257.4 389.3ZM246.2 261.8L283.2 384.3L285.5 383.6ZM246.2 261.8L288.1 382.7L290.8 381.8ZM246.2 261.8L294.2 380.4L297.3 379.1ZM246.2 261.8L300.8 377.5L303.5 376.2ZM246.2 261.8L313.7 370.6L315.6 369.3ZM246.2 261.8L327.4 360.7L328.9 359.5ZM246.2 261.8L337.5 351.5L339.6 349.3ZM246.2 261.8L342.5 346.1L344.1 344.2ZM246.2 261.8L347.2 340.4L349.3 337.7ZM246.2 261.8L361.9 316.5L363.2 313.8ZM246.2 261.8L371.5 288L372.1 285.1ZM246.2 261.8L373.8 272.5L374 269ZM246.2 261.8L374.1 255.1L373.9 251.7ZM246.2 261.8L373.5 248L373.1 244.8ZM246.2 261.8L370.1 229.6L369.2 226.2ZM246.2 261.8L363.7 211L362.8 208.9ZM246.2 261.8L324.2 160.2L322.4 158.8ZM246.2 261.8L316 154.4L313.6 152.9ZM246.2 261.8L300.8 145.9L298.4 144.9ZM246.2 261.8L295.6 143.7L293.9 143ZM246.2 261.8L291.5 142L288.6 141ZM246.2 261.8L265.9 135.3L263.8 135ZM246.2 261.8L243.4 133.8L240.3 133.9ZM246.2 261.8L236.7 134.1L234.3 134.3ZM246.2 261.8L218.9 136.7L217.1 137.1ZM246.2 261.8L210.9 138.7L207.8 139.7ZM246.2 261.8L195.9 144.1L193.2 145.3ZM246.2 261.8L189.8 146.9L188.1 147.7ZM246.2 261.8L181.6 151.3L179.1 152.8ZM246.2 261.8L155 172L153.2 173.9Z" fill="url(#rb)"/>
</g>
<path d="M246.2 261.8L122.8 295.4L124 299.8ZM246.2 261.8L124.2 300.4L125.4 304Z" fill="url(#rd)"/>
<path d="M246.2 261.8L118.5 269L118.7 272.4ZM246.2 261.8L119 275.9L119.5 279.3ZM246.2 261.8L126.3 306.5L127.3 308.9ZM246.2 261.8L128.4 311.6L129.6 314.4Z" fill="url(#rc)"/>
<path d="M246.2 261.8L120.2 284L120.7 286.9ZM246.2 261.8L121.5 290.6L122.3 293.5ZM246.2 261.8L130.9 317.2L132 319.4Z" fill="url(#rb)"/>
<line x1="238.9" y1="258.5" x2="143.7" y2="216.7" stroke="#fff" stroke-opacity=".2" stroke-width="2.2"/>
<line x1="240.8" y1="259.3" x2="202.3" y2="242.5" stroke="#fff" stroke-opacity=".5" stroke-width="1"/>
<line x1="242.9" y1="266.7" x2="209.1" y2="316.3" stroke="#fff" stroke-opacity=".5" stroke-width="1.1"/>
<g mask="url(#mm)"><g transform="rotate(-52 246.2 261.8)"><rect x="66.2" y="81.8" width="360" height="360" filter="url(#nd)"/></g></g>
<path d="M82.2 278.3L88 277.8L89.3 282.2L88.6 289L89 295.7L90.9 301.5L94.7 307.3L95.7 311.2L91.9 312.1L88 309.2L85.1 303.4L82.8 297.6L83.2 290.9L84.1 285.1ZM106.3 307.3L111.2 307.3L115 310.2L115 314.1L111.2 316L108.3 312.1L105.9 310.2ZM85.1 328L91.9 327.2L97.6 330.5L100.5 335.3L102.5 339.2L99.6 343L96.7 341.1L95.7 336.3L91.9 332.4L88 329.9ZM106.3 337.2L111.2 337.2L115 342L117.5 346.9L115 349.2L110.6 347.8L108.3 344L106.3 341.1ZM287 339L292.5 338.3L296 342.4L294.6 345.8L291.5 347.4L290.5 355.4L289 362.5L286.3 357.4L286.3 349.4L287.4 344.4ZM301.1 347.7L305.2 347.3L309.4 351.8L312.4 346.7L317.5 346.1L322.7 344.1L326.8 346.7L328.9 350.7L324.7 350.7L320.6 349.7L316.6 352.7L314.5 357.7L312 359.8L309.4 354.8L305.2 353.8L302.5 351.8Z" fill="#fff" stroke="#fff" stroke-width="3.2" stroke-linejoin="round" filter="url(#bl)"/>
<path d="M82.2 278.3L88 277.8L89.3 282.2L88.6 289L89 295.7L90.9 301.5L94.7 307.3L95.7 311.2L91.9 312.1L88 309.2L85.1 303.4L82.8 297.6L83.2 290.9L84.1 285.1ZM106.3 307.3L111.2 307.3L115 310.2L115 314.1L111.2 316L108.3 312.1L105.9 310.2ZM85.1 328L91.9 327.2L97.6 330.5L100.5 335.3L102.5 339.2L99.6 343L96.7 341.1L95.7 336.3L91.9 332.4L88 329.9ZM106.3 337.2L111.2 337.2L115 342L117.5 346.9L115 349.2L110.6 347.8L108.3 344L106.3 341.1ZM287 339L292.5 338.3L296 342.4L294.6 345.8L291.5 347.4L290.5 355.4L289 362.5L286.3 357.4L286.3 349.4L287.4 344.4ZM301.1 347.7L305.2 347.3L309.4 351.8L312.4 346.7L317.5 346.1L322.7 344.1L326.8 346.7L328.9 350.7L324.7 350.7L320.6 349.7L316.6 352.7L314.5 357.7L312 359.8L309.4 354.8L305.2 353.8L302.5 351.8Z" fill="#ff0"/>
<path d="M81.2 329.5L116 315" stroke="#fff" stroke-opacity="0.35" stroke-width="1"/>
<path d="M97.6 322.7L107.3 317.9" stroke="#ff0" stroke-width="1.4"/>
<path d="M305.5 235L311.5 232.6" stroke="#ff0" stroke-width="2.2"/>
<path d="M210.7 313.8L205.7 321.2" stroke="#ff0" stroke-width="2.4"/>
<circle cx="213.3" cy="146.7" r="1.6" fill="#fff" filter="url(#bl)"/><circle cx="213.3" cy="146.7" r="1" fill="#fff"/>
<circle cx="126.3" cy="430" r="1.3" fill="#888"/>
<path d="M245 243h2.8v1.55h-2.8zM253.75 243h1.55v1.55h-1.55zM240 244.25h1.55v1.55h-1.55zM243.75 244.25h1.55v1.55h-1.55zM248.75 244.25h1.55v1.55h-1.55zM252.5 244.25h2.8v1.55h-2.8zM240 245.5h2.8v1.55h-2.8zM243.75 245.5h1.55v1.55h-1.55zM246.25 245.5h4.05v1.55h-4.05zM252.5 245.5h1.55v1.55h-1.55zM240 246.75h2.8v1.55h-2.8zM243.75 246.75h1.55v1.55h-1.55zM246.25 246.75h4.05v1.55h-4.05zM252.5 246.75h2.8v1.55h-2.8zM241.25 248h1.55v1.55h-1.55zM243.75 248h4.05v1.55h-4.05zM248.75 248h1.55v1.55h-1.55zM251.25 248h4.05v1.55h-4.05zM256.25 248h1.55v1.55h-1.55zM241.25 249.25h4.05v1.55h-4.05zM246.25 249.25h1.55v1.55h-1.55zM250 249.25h4.05v1.55h-4.05zM255 249.25h2.8v1.55h-2.8zM233.75 250.5h1.55v1.55h-1.55zM237.5 250.5h1.55v1.55h-1.55zM243.75 250.5h1.55v1.55h-1.55zM246.25 250.5h7.8v1.55h-7.8zM255 250.5h1.55v1.55h-1.55zM258.75 250.5h1.55v1.55h-1.55zM235 251.75h1.55v1.55h-1.55zM242.5 251.75h9.05v1.55h-9.05zM253.75 251.75h1.55v1.55h-1.55zM240 253h12.8v1.55h-12.8zM241.25 254.25h11.55v1.55h-11.55zM255 254.25h2.8v1.55h-2.8zM241.25 255.5h2.8v1.55h-2.8zM246.25 255.5h6.55v1.55h-6.55zM253.75 255.5h1.55v1.55h-1.55zM256.25 255.5h1.55v1.55h-1.55zM258.75 255.5h2.8v1.55h-2.8zM242.5 256.75h2.8v1.55h-2.8zM246.25 256.75h7.8v1.55h-7.8zM255 256.75h2.8v1.55h-2.8zM258.75 256.75h1.55v1.55h-1.55zM261.25 256.75h2.8v1.55h-2.8zM240 258h4.05v1.55h-4.05zM250 258h2.8v1.55h-2.8zM253.75 258h10.3v1.55h-10.3zM240 259.25h2.8v1.55h-2.8zM251.25 259.25h1.55v1.55h-1.55zM253.75 259.25h4.05v1.55h-4.05zM260 259.25h4.05v1.55h-4.05zM238.75 260.5h4.05v1.55h-4.05zM250 260.5h7.8v1.55h-7.8zM232.5 261.75h1.55v1.55h-1.55zM237.5 261.75h2.8v1.55h-2.8zM250 261.75h5.3v1.55h-5.3zM228.75 263h1.55v1.55h-1.55zM235 263h1.55v1.55h-1.55zM238.75 263h4.05v1.55h-4.05zM250 263h5.3v1.55h-5.3zM226.25 264.25h10.3v1.55h-10.3zM240 264.25h1.55v1.55h-1.55zM242.5 264.25h1.55v1.55h-1.55zM248.75 264.25h1.55v1.55h-1.55zM251.25 264.25h4.05v1.55h-4.05zM257.5 264.25h1.55v1.55h-1.55zM226.25 265.5h2.8v1.55h-2.8zM243.75 265.5h7.8v1.55h-7.8zM252.5 265.5h6.55v1.55h-6.55zM242.5 266.75h14.05v1.55h-14.05zM258.75 266.75h2.8v1.55h-2.8zM242.5 268h9.05v1.55h-9.05zM252.5 268h5.3v1.55h-5.3zM261.25 268h1.55v1.55h-1.55zM242.5 269.25h16.55v1.55h-16.55zM241.25 270.5h6.55v1.55h-6.55zM248.75 270.5h1.55v1.55h-1.55zM251.25 270.5h6.55v1.55h-6.55zM258.75 270.5h2.8v1.55h-2.8zM241.25 271.75h2.8v1.55h-2.8zM245 271.75h2.8v1.55h-2.8zM248.75 271.75h1.55v1.55h-1.55zM251.25 271.75h6.55v1.55h-6.55zM258.75 271.75h5.3v1.55h-5.3zM241.25 273h1.55v1.55h-1.55zM243.75 273h2.8v1.55h-2.8zM248.75 273h2.8v1.55h-2.8zM253.75 273h4.05v1.55h-4.05zM262.5 273h1.55v1.55h-1.55zM243.75 274.25h1.55v1.55h-1.55zM250 274.25h1.55v1.55h-1.55zM255 274.25h2.8v1.55h-2.8zM243.75 275.5h2.8v1.55h-2.8zM250 275.5h1.55v1.55h-1.55zM256.25 275.5h1.55v1.55h-1.55zM238.75 276.75h4.05v1.55h-4.05zM243.75 276.75h2.8v1.55h-2.8zM250 276.75h1.55v1.55h-1.55zM238.75 278h4.05v1.55h-4.05zM243.75 278h2.8v1.55h-2.8zM237.5 279.25h4.05v1.55h-4.05zM243.75 279.25h1.55v1.55h-1.55zM237.5 280.5h2.8v1.55h-2.8zM236.25 283h2.8v1.55h-2.8zM236.25 284.25h2.8v1.55h-2.8zM241.25 284.25h2.8v1.55h-2.8zM245 284.25h1.55v1.55h-1.55zM238.75 285.5h9.05v1.55h-9.05zM240 286.75h9.05v1.55h-9.05zM242.5 288h7.8v1.55h-7.8zM243.75 289.25h7.8v1.55h-7.8zM246.25 290.5h4.05v1.55h-4.05zM248.75 291.75h4.05v1.55h-4.05zM248.75 293h4.05v1.55h-4.05zM250 294.25h1.55v1.55h-1.55zM256.25 300.5h2.8v1.55h-2.8zM255 301.75h5.3v1.55h-5.3zM255 303h5.3v1.55h-5.3zM255 304.25h6.55v1.55h-6.55zM256.25 305.5h4.05v1.55h-4.05zM256.25 306.75h6.55v1.55h-6.55zM257.5 308h5.3v1.55h-5.3zM257.5 309.25h5.3v1.55h-5.3zM258.75 310.5h4.05v1.55h-4.05zM260 311.75h4.05v1.55h-4.05zM261.25 313h1.55v1.55h-1.55zM267.5 315.5h2.8v1.55h-2.8zM266.25 316.75h4.05v1.55h-4.05zM265 318h4.05v1.55h-4.05zM266.25 319.25h1.55v1.55h-1.55zM275 325.5h1.55v1.55h-1.55zM272.5 326.75h5.3v1.55h-5.3zM272.5 328h4.05v1.55h-4.05zM272.5 329.25h1.55v1.55h-1.55zM275 331.75h4.05v1.55h-4.05zM273.75 333h5.3v1.55h-5.3zM275 334.25h1.55v1.55h-1.55zM277.5 336.75h2.8v1.55h-2.8zM276.25 338h5.3v1.55h-5.3zM277.5 339.25h1.55v1.55h-1.55zM280 341.75h1.55v1.55h-1.55zM278.75 343h2.8v1.55h-2.8zM280 344.25h1.55v1.55h-1.55z" fill="#ff0"/>
<circle cx="246.2" cy="261.8" r="4.4" fill="#666"/>
</g>
<g>
<path d="M650.5 155.75h1.55v1.55h-1.55zM661.75 155.75h2.8v1.55h-2.8zM666.75 155.75h2.8v1.55h-2.8zM650.5 157h2.8v1.55h-2.8zM661.75 157h2.8v1.55h-2.8zM666.75 157h2.8v1.55h-2.8zM650.5 158.25h2.8v1.55h-2.8zM673 158.25h2.8v1.55h-2.8zM650.5 159.5h2.8v1.55h-2.8zM668 159.5h1.55v1.55h-1.55zM671.75 159.5h2.8v1.55h-2.8zM650.5 160.75h4.05v1.55h-4.05zM669.25 160.75h5.3v1.55h-5.3zM634.25 162h2.8v1.55h-2.8zM648 162h9.05v1.55h-9.05zM668 162h6.55v1.55h-6.55zM708 162h4.05v1.55h-4.05zM645.5 163.25h11.55v1.55h-11.55zM666.75 163.25h10.3v1.55h-10.3zM710.5 163.25h2.8v1.55h-2.8zM646.75 164.5h2.8v1.55h-2.8zM651.75 164.5h5.3v1.55h-5.3zM665.5 164.5h11.55v1.55h-11.55zM679.25 164.5h1.55v1.55h-1.55zM681.75 164.5h1.55v1.55h-1.55zM684.25 164.5h4.05v1.55h-4.05zM614.25 165.75h1.55v1.55h-1.55zM646.75 165.75h2.8v1.55h-2.8zM651.75 165.75h5.3v1.55h-5.3zM659.25 165.75h2.8v1.55h-2.8zM666.75 165.75h9.05v1.55h-9.05zM680.5 165.75h9.05v1.55h-9.05zM700.5 165.75h1.55v1.55h-1.55zM613 167h2.8v1.55h-2.8zM646.75 167h10.3v1.55h-10.3zM659.25 167h2.8v1.55h-2.8zM666.75 167h10.3v1.55h-10.3zM681.75 167h7.8v1.55h-7.8zM693 167h1.55v1.55h-1.55zM700.5 167h2.8v1.55h-2.8zM613 168.25h2.8v1.55h-2.8zM623 168.25h1.55v1.55h-1.55zM646.75 168.25h30.3v1.55h-30.3zM681.75 168.25h10.3v1.55h-10.3zM693 168.25h1.55v1.55h-1.55zM696.75 168.25h2.8v1.55h-2.8zM701.75 168.25h1.55v1.55h-1.55zM623 169.5h1.55v1.55h-1.55zM648 169.5h5.3v1.55h-5.3zM654.25 169.5h22.8v1.55h-22.8zM679.25 169.5h12.8v1.55h-12.8zM696.75 169.5h2.8v1.55h-2.8zM708 169.5h2.8v1.55h-2.8zM624.25 170.75h2.8v1.55h-2.8zM648 170.75h5.3v1.55h-5.3zM655.5 170.75h4.05v1.55h-4.05zM661.75 170.75h16.55v1.55h-16.55zM679.25 170.75h12.8v1.55h-12.8zM694.25 170.75h6.55v1.55h-6.55zM708 170.75h2.8v1.55h-2.8zM624.25 172h1.55v1.55h-1.55zM626.75 172h4.05v1.55h-4.05zM631.75 172h1.55v1.55h-1.55zM648 172h52.8v1.55h-52.8zM621.75 173.25h1.55v1.55h-1.55zM628 173.25h5.3v1.55h-5.3zM634.25 173.25h1.55v1.55h-1.55zM645.5 173.25h55.3v1.55h-55.3zM615.5 174.5h1.55v1.55h-1.55zM620.5 174.5h4.05v1.55h-4.05zM625.5 174.5h6.55v1.55h-6.55zM636.75 174.5h2.8v1.55h-2.8zM646.75 174.5h54.05v1.55h-54.05zM710.5 174.5h4.05v1.55h-4.05zM614.25 175.75h20.3v1.55h-20.3zM635.5 175.75h1.55v1.55h-1.55zM649.25 175.75h50.3v1.55h-50.3zM701.75 175.75h6.55v1.55h-6.55zM710.5 175.75h2.8v1.55h-2.8zM596.75 177h1.55v1.55h-1.55zM618 177h21.55v1.55h-21.55zM649.25 177h50.3v1.55h-50.3zM701.75 177h11.55v1.55h-11.55zM714.25 177h1.55v1.55h-1.55zM595.5 178.25h1.55v1.55h-1.55zM614.25 178.25h1.55v1.55h-1.55zM618 178.25h22.8v1.55h-22.8zM641.75 178.25h1.55v1.55h-1.55zM646.75 178.25h1.55v1.55h-1.55zM649.25 178.25h35.3v1.55h-35.3zM686.75 178.25h12.8v1.55h-12.8zM701.75 178.25h10.3v1.55h-10.3zM614.25 179.5h34.05v1.55h-34.05zM649.25 179.5h1.55v1.55h-1.55zM654.25 179.5h30.3v1.55h-30.3zM686.75 179.5h26.55v1.55h-26.55zM610.5 180.75h1.55v1.55h-1.55zM614.25 180.75h1.55v1.55h-1.55zM618 180.75h1.55v1.55h-1.55zM620.5 180.75h26.55v1.55h-26.55zM648 180.75h2.8v1.55h-2.8zM654.25 180.75h6.55v1.55h-6.55zM661.75 180.75h52.8v1.55h-52.8zM719.25 180.75h1.55v1.55h-1.55zM721.75 180.75h1.55v1.55h-1.55zM606.75 182h1.55v1.55h-1.55zM609.25 182h2.8v1.55h-2.8zM614.25 182h1.55v1.55h-1.55zM616.75 182h1.55v1.55h-1.55zM621.75 182h29.05v1.55h-29.05zM653 182h56.55v1.55h-56.55zM713 182h2.8v1.55h-2.8zM718 182h6.55v1.55h-6.55zM610.5 183.25h1.55v1.55h-1.55zM613 183.25h6.55v1.55h-6.55zM620.5 183.25h27.8v1.55h-27.8zM654.25 183.25h40.3v1.55h-40.3zM696.75 183.25h12.8v1.55h-12.8zM711.75 183.25h2.8v1.55h-2.8zM716.75 183.25h6.55v1.55h-6.55zM724.25 183.25h1.55v1.55h-1.55zM609.25 184.5h1.55v1.55h-1.55zM614.25 184.5h10.3v1.55h-10.3zM625.5 184.5h24.05v1.55h-24.05zM656.75 184.5h2.8v1.55h-2.8zM660.5 184.5h34.05v1.55h-34.05zM696.75 184.5h17.8v1.55h-17.8zM716.75 184.5h9.05v1.55h-9.05zM729.25 184.5h1.55v1.55h-1.55zM731.75 184.5h2.8v1.55h-2.8zM735.5 184.5h1.55v1.55h-1.55zM743 184.5h1.55v1.55h-1.55zM599.25 185.75h1.55v1.55h-1.55zM601.75 185.75h4.05v1.55h-4.05zM606.75 185.75h16.55v1.55h-16.55zM625.5 185.75h22.8v1.55h-22.8zM656.75 185.75h2.8v1.55h-2.8zM661.75 185.75h14.05v1.55h-14.05zM676.75 185.75h4.05v1.55h-4.05zM683 185.75h35.3v1.55h-35.3zM719.25 185.75h5.3v1.55h-5.3zM728 185.75h10.3v1.55h-10.3zM741.75 185.75h5.3v1.55h-5.3zM599.25 187h47.8v1.55h-47.8zM654.25 187h7.8v1.55h-7.8zM663 187h17.8v1.55h-17.8zM683 187h36.55v1.55h-36.55zM720.5 187h6.55v1.55h-6.55zM729.25 187h19.05v1.55h-19.05zM601.75 188.25h47.8v1.55h-47.8zM653 188.25h2.8v1.55h-2.8zM656.75 188.25h1.55v1.55h-1.55zM659.25 188.25h2.8v1.55h-2.8zM663 188.25h16.55v1.55h-16.55zM683 188.25h10.3v1.55h-10.3zM695.5 188.25h31.55v1.55h-31.55zM729.25 188.25h4.05v1.55h-4.05zM734.25 188.25h5.3v1.55h-5.3zM741.75 188.25h5.3v1.55h-5.3zM601.75 189.5h1.55v1.55h-1.55zM605.5 189.5h36.55v1.55h-36.55zM644.25 189.5h7.8v1.55h-7.8zM654.25 189.5h1.55v1.55h-1.55zM659.25 189.5h2.8v1.55h-2.8zM664.25 189.5h14.05v1.55h-14.05zM683 189.5h10.3v1.55h-10.3zM694.25 189.5h45.3v1.55h-45.3zM741.75 189.5h4.05v1.55h-4.05zM590.5 190.75h1.55v1.55h-1.55zM594.25 190.75h2.8v1.55h-2.8zM598 190.75h1.55v1.55h-1.55zM601.75 190.75h1.55v1.55h-1.55zM605.5 190.75h45.3v1.55h-45.3zM654.25 190.75h1.55v1.55h-1.55zM660.5 190.75h1.55v1.55h-1.55zM665.5 190.75h4.05v1.55h-4.05zM670.5 190.75h7.8v1.55h-7.8zM684.25 190.75h6.55v1.55h-6.55zM691.75 190.75h35.3v1.55h-35.3zM729.25 190.75h15.3v1.55h-15.3zM589.25 192h1.55v1.55h-1.55zM593 192h22.8v1.55h-22.8zM616.75 192h30.3v1.55h-30.3zM648 192h2.8v1.55h-2.8zM658 192h4.05v1.55h-4.05zM665.5 192h5.3v1.55h-5.3zM673 192h5.3v1.55h-5.3zM684.25 192h5.3v1.55h-5.3zM691.75 192h35.3v1.55h-35.3zM729.25 192h10.3v1.55h-10.3zM741.75 192h1.55v1.55h-1.55zM589.25 193.25h1.55v1.55h-1.55zM593 193.25h21.55v1.55h-21.55zM618 193.25h24.05v1.55h-24.05zM645.5 193.25h1.55v1.55h-1.55zM659.25 193.25h1.55v1.55h-1.55zM665.5 193.25h5.3v1.55h-5.3zM673 193.25h5.3v1.55h-5.3zM685.5 193.25h4.05v1.55h-4.05zM693 193.25h46.55v1.55h-46.55zM590.5 194.5h4.05v1.55h-4.05zM596.75 194.5h19.05v1.55h-19.05zM619.25 194.5h22.8v1.55h-22.8zM645.5 194.5h2.8v1.55h-2.8zM656.75 194.5h1.55v1.55h-1.55zM664.25 194.5h5.3v1.55h-5.3zM670.5 194.5h5.3v1.55h-5.3zM686.75 194.5h2.8v1.55h-2.8zM693 194.5h47.8v1.55h-47.8zM593 195.75h1.55v1.55h-1.55zM596.75 195.75h20.3v1.55h-20.3zM620.5 195.75h12.8v1.55h-12.8zM634.25 195.75h6.55v1.55h-6.55zM645.5 195.75h2.8v1.55h-2.8zM656.75 195.75h1.55v1.55h-1.55zM665.5 195.75h4.05v1.55h-4.05zM671.75 195.75h4.05v1.55h-4.05zM684.25 195.75h1.55v1.55h-1.55zM691.75 195.75h47.8v1.55h-47.8zM741.75 195.75h1.55v1.55h-1.55zM594.25 197h20.3v1.55h-20.3zM615.5 197h2.8v1.55h-2.8zM620.5 197h19.05v1.55h-19.05zM659.25 197h1.55v1.55h-1.55zM661.75 197h2.8v1.55h-2.8zM674.25 197h1.55v1.55h-1.55zM684.25 197h2.8v1.55h-2.8zM691.75 197h49.05v1.55h-49.05zM595.5 198.25h17.8v1.55h-17.8zM615.5 198.25h4.05v1.55h-4.05zM623 198.25h16.55v1.55h-16.55zM654.25 198.25h1.55v1.55h-1.55zM661.75 198.25h2.8v1.55h-2.8zM674.25 198.25h1.55v1.55h-1.55zM684.25 198.25h1.55v1.55h-1.55zM691.75 198.25h49.05v1.55h-49.05zM596.75 199.5h11.55v1.55h-11.55zM611.75 199.5h2.8v1.55h-2.8zM616.75 199.5h2.8v1.55h-2.8zM624.25 199.5h15.3v1.55h-15.3zM649.25 199.5h1.55v1.55h-1.55zM654.25 199.5h1.55v1.55h-1.55zM665.5 199.5h4.05v1.55h-4.05zM674.25 199.5h1.55v1.55h-1.55zM694.25 199.5h46.55v1.55h-46.55zM598 200.75h11.55v1.55h-11.55zM610.5 200.75h5.3v1.55h-5.3zM618 200.75h2.8v1.55h-2.8zM625.5 200.75h2.8v1.55h-2.8zM630.5 200.75h10.3v1.55h-10.3zM649.25 200.75h1.55v1.55h-1.55zM673 200.75h2.8v1.55h-2.8zM691.75 200.75h45.3v1.55h-45.3zM739.25 200.75h1.55v1.55h-1.55zM749.25 200.75h2.8v1.55h-2.8zM599.25 202h15.3v1.55h-15.3zM619.25 202h1.55v1.55h-1.55zM621.75 202h2.8v1.55h-2.8zM630.5 202h10.3v1.55h-10.3zM665.5 202h1.55v1.55h-1.55zM673 202h2.8v1.55h-2.8zM691.75 202h45.3v1.55h-45.3zM739.25 202h1.55v1.55h-1.55zM743 202h1.55v1.55h-1.55zM750.5 202h1.55v1.55h-1.55zM601.75 203.25h2.8v1.55h-2.8zM605.5 203.25h9.05v1.55h-9.05zM619.25 203.25h1.55v1.55h-1.55zM623 203.25h2.8v1.55h-2.8zM628 203.25h7.8v1.55h-7.8zM639.25 203.25h2.8v1.55h-2.8zM673 203.25h1.55v1.55h-1.55zM676.75 203.25h1.55v1.55h-1.55zM689.25 203.25h1.55v1.55h-1.55zM691.75 203.25h52.8v1.55h-52.8zM745.5 203.25h2.8v1.55h-2.8zM756.75 203.25h1.55v1.55h-1.55zM603 204.5h1.55v1.55h-1.55zM606.75 204.5h9.05v1.55h-9.05zM618 204.5h2.8v1.55h-2.8zM623 204.5h2.8v1.55h-2.8zM629.25 204.5h1.55v1.55h-1.55zM631.75 204.5h5.3v1.55h-5.3zM676.75 204.5h1.55v1.55h-1.55zM689.25 204.5h49.05v1.55h-49.05zM739.25 204.5h9.05v1.55h-9.05zM753 204.5h2.8v1.55h-2.8zM604.25 205.75h12.8v1.55h-12.8zM619.25 205.75h1.55v1.55h-1.55zM633 205.75h4.05v1.55h-4.05zM691.75 205.75h1.55v1.55h-1.55zM694.25 205.75h54.05v1.55h-54.05zM751.75 205.75h4.05v1.55h-4.05zM605.5 207h2.8v1.55h-2.8zM609.25 207h9.05v1.55h-9.05zM633 207h2.8v1.55h-2.8zM644.25 207h2.8v1.55h-2.8zM669.25 207h1.55v1.55h-1.55zM691.75 207h1.55v1.55h-1.55zM694.25 207h60.3v1.55h-60.3zM606.75 208.25h1.55v1.55h-1.55zM610.5 208.25h9.05v1.55h-9.05zM634.25 208.25h2.8v1.55h-2.8zM648 208.25h2.8v1.55h-2.8zM669.25 208.25h1.55v1.55h-1.55zM690.5 208.25h2.8v1.55h-2.8zM694.25 208.25h60.3v1.55h-60.3zM608 209.5h9.05v1.55h-9.05zM618 209.5h2.8v1.55h-2.8zM635.5 209.5h1.55v1.55h-1.55zM673 209.5h1.55v1.55h-1.55zM691.75 209.5h59.05v1.55h-59.05zM751.75 209.5h4.05v1.55h-4.05zM610.5 210.75h1.55v1.55h-1.55zM690.5 210.75h2.8v1.55h-2.8zM694.25 210.75h56.55v1.55h-56.55zM694.25 212h59.05v1.55h-59.05zM756.75 212h2.8v1.55h-2.8zM686.75 213.25h1.55v1.55h-1.55zM693 213.25h61.55v1.55h-61.55zM756.75 213.25h2.8v1.55h-2.8zM623 214.5h2.8v1.55h-2.8zM640.5 214.5h1.55v1.55h-1.55zM686.75 214.5h1.55v1.55h-1.55zM689.25 214.5h1.55v1.55h-1.55zM693 214.5h61.55v1.55h-61.55zM624.25 215.75h1.55v1.55h-1.55zM640.5 215.75h1.55v1.55h-1.55zM689.25 215.75h1.55v1.55h-1.55zM691.75 215.75h65.3v1.55h-65.3zM616.75 217h1.55v1.55h-1.55zM620.5 217h2.8v1.55h-2.8zM691.75 217h65.3v1.55h-65.3zM758 217h1.55v1.55h-1.55zM618 218.25h1.55v1.55h-1.55zM621.75 218.25h1.55v1.55h-1.55zM690.5 218.25h1.55v1.55h-1.55zM693 218.25h66.55v1.55h-66.55zM690.5 219.5h69.05v1.55h-69.05zM690.5 220.75h67.8v1.55h-67.8zM689.25 222h69.05v1.55h-69.05zM688 223.25h69.05v1.55h-69.05zM688 224.5h66.55v1.55h-66.55zM688 225.75h64.05v1.55h-64.05zM590.5 227h2.8v1.55h-2.8zM686.75 227h65.3v1.55h-65.3zM590.5 228.25h4.05v1.55h-4.05zM686.75 228.25h66.55v1.55h-66.55zM593 229.5h1.55v1.55h-1.55zM685.5 229.5h67.8v1.55h-67.8zM685.5 230.75h67.8v1.55h-67.8zM685.5 232h67.8v1.55h-67.8zM754.25 232h2.8v1.55h-2.8zM685.5 233.25h71.55v1.55h-71.55zM685.5 234.5h69.05v1.55h-69.05zM684.25 235.75h71.55v1.55h-71.55zM684.25 237h70.3v1.55h-70.3zM683 238.25h70.3v1.55h-70.3zM683 239.5h66.55v1.55h-66.55zM750.5 239.5h2.8v1.55h-2.8zM681.75 240.75h67.8v1.55h-67.8zM681.75 242h70.3v1.55h-70.3zM754.25 242h1.55v1.55h-1.55zM680.5 243.25h71.55v1.55h-71.55zM754.25 243.25h2.8v1.55h-2.8zM679.25 244.5h80.3v1.55h-80.3zM679.25 245.75h80.3v1.55h-80.3zM680.5 247h79.05v1.55h-79.05zM679.25 248.25h80.3v1.55h-80.3zM760.5 248.25h2.8v1.55h-2.8zM678 249.5h81.55v1.55h-81.55zM760.5 249.5h2.8v1.55h-2.8zM678 250.75h90.3v1.55h-90.3zM676.75 252h92.8v1.55h-92.8zM676.75 253.25h90.3v1.55h-90.3zM769.25 253.25h2.8v1.55h-2.8zM675.5 254.5h91.55v1.55h-91.55zM769.25 254.5h2.8v1.55h-2.8zM674.25 255.75h95.3v1.55h-95.3zM673 257h80.3v1.55h-80.3zM755.5 257h10.3v1.55h-10.3zM766.75 257h2.8v1.55h-2.8zM671.75 258.25h87.8v1.55h-87.8zM761.75 258.25h1.55v1.55h-1.55zM766.75 258.25h2.8v1.55h-2.8zM671.75 259.5h87.8v1.55h-87.8zM761.75 259.5h1.55v1.55h-1.55zM766.75 259.5h1.55v1.55h-1.55zM673 260.75h86.55v1.55h-86.55zM771.75 260.75h1.55v1.55h-1.55zM673 262h85.3v1.55h-85.3zM626.75 263.25h12.8v1.55h-12.8zM671.75 263.25h84.05v1.55h-84.05zM603 264.5h19.05v1.55h-19.05zM671.75 264.5h84.05v1.55h-84.05zM579.25 265.75h25.3v1.55h-25.3zM665.5 265.75h1.55v1.55h-1.55zM669.25 265.75h84.05v1.55h-84.05zM559.25 267h2.8v1.55h-2.8zM564.25 267h24.05v1.55h-24.05zM613 267h2.8v1.55h-2.8zM665.5 267h1.55v1.55h-1.55zM670.5 267h82.8v1.55h-82.8zM755.5 267h1.55v1.55h-1.55zM758 267h1.55v1.55h-1.55zM569.25 268.25h5.3v1.55h-5.3zM579.25 268.25h7.8v1.55h-7.8zM593 268.25h2.8v1.55h-2.8zM605.5 268.25h2.8v1.55h-2.8zM616.75 268.25h1.55v1.55h-1.55zM670.5 268.25h82.8v1.55h-82.8zM755.5 268.25h9.05v1.55h-9.05zM569.25 269.5h2.8v1.55h-2.8zM593 269.5h7.8v1.55h-7.8zM603 269.5h5.3v1.55h-5.3zM616.75 269.5h1.55v1.55h-1.55zM669.25 269.5h85.3v1.55h-85.3zM755.5 269.5h10.3v1.55h-10.3zM583 270.75h2.8v1.55h-2.8zM593 270.75h6.55v1.55h-6.55zM619.25 270.75h2.8v1.55h-2.8zM669.25 270.75h1.55v1.55h-1.55zM671.75 270.75h24.05v1.55h-24.05zM700.5 270.75h67.8v1.55h-67.8zM580.5 272h5.3v1.55h-5.3zM595.5 272h2.8v1.55h-2.8zM669.25 272h15.3v1.55h-15.3zM685.5 272h82.8v1.55h-82.8zM569.25 273.25h2.8v1.55h-2.8zM580.5 273.25h2.8v1.55h-2.8zM616.75 273.25h2.8v1.55h-2.8zM669.25 273.25h15.3v1.55h-15.3zM685.5 273.25h12.8v1.55h-12.8zM699.25 273.25h4.05v1.55h-4.05zM704.25 273.25h64.05v1.55h-64.05zM569.25 274.5h4.05v1.55h-4.05zM575.5 274.5h2.8v1.55h-2.8zM580.5 274.5h2.8v1.55h-2.8zM588 274.5h9.05v1.55h-9.05zM623 274.5h1.55v1.55h-1.55zM661.75 274.5h4.05v1.55h-4.05zM668 274.5h100.3v1.55h-100.3zM570.5 275.75h2.8v1.55h-2.8zM575.5 275.75h2.8v1.55h-2.8zM580.5 275.75h2.8v1.55h-2.8zM585.5 275.75h7.8v1.55h-7.8zM613 275.75h2.8v1.55h-2.8zM661.75 275.75h2.8v1.55h-2.8zM668 275.75h32.8v1.55h-32.8zM701.75 275.75h66.55v1.55h-66.55zM570.5 277h2.8v1.55h-2.8zM578 277h5.3v1.55h-5.3zM585.5 277h4.05v1.55h-4.05zM599.25 277h2.8v1.55h-2.8zM615.5 277h1.55v1.55h-1.55zM668 277h2.8v1.55h-2.8zM673 277h22.8v1.55h-22.8zM698 277h4.05v1.55h-4.05zM703 277h62.8v1.55h-62.8zM570.5 278.25h2.8v1.55h-2.8zM578 278.25h2.8v1.55h-2.8zM586.75 278.25h2.8v1.55h-2.8zM590.5 278.25h5.3v1.55h-5.3zM599.25 278.25h2.8v1.55h-2.8zM615.5 278.25h1.55v1.55h-1.55zM669.25 278.25h1.55v1.55h-1.55zM673 278.25h92.8v1.55h-92.8zM570.5 279.5h2.8v1.55h-2.8zM574.25 279.5h1.55v1.55h-1.55zM579.25 279.5h2.8v1.55h-2.8zM584.25 279.5h2.8v1.55h-2.8zM589.25 279.5h5.3v1.55h-5.3zM596.75 279.5h5.3v1.55h-5.3zM603 279.5h2.8v1.55h-2.8zM620.5 279.5h1.55v1.55h-1.55zM673 279.5h24.05v1.55h-24.05zM698 279.5h7.8v1.55h-7.8zM706.75 279.5h4.05v1.55h-4.05zM713 279.5h56.55v1.55h-56.55zM574.25 280.75h2.8v1.55h-2.8zM579.25 280.75h7.8v1.55h-7.8zM591.75 280.75h4.05v1.55h-4.05zM619.25 280.75h2.8v1.55h-2.8zM659.25 280.75h1.55v1.55h-1.55zM673 280.75h29.05v1.55h-29.05zM703 280.75h55.3v1.55h-55.3zM759.25 280.75h10.3v1.55h-10.3zM574.25 282h2.8v1.55h-2.8zM579.25 282h11.55v1.55h-11.55zM599.25 282h1.55v1.55h-1.55zM670.5 282h32.8v1.55h-32.8zM704.25 282h54.05v1.55h-54.05zM759.25 282h10.3v1.55h-10.3zM574.25 283.25h2.8v1.55h-2.8zM579.25 283.25h14.05v1.55h-14.05zM595.5 283.25h6.55v1.55h-6.55zM606.75 283.25h2.8v1.55h-2.8zM671.75 283.25h90.3v1.55h-90.3zM763 283.25h6.55v1.55h-6.55zM574.25 284.5h11.55v1.55h-11.55zM588 284.5h10.3v1.55h-10.3zM606.75 284.5h1.55v1.55h-1.55zM659.25 284.5h2.8v1.55h-2.8zM673 284.5h16.55v1.55h-16.55zM690.5 284.5h17.8v1.55h-17.8zM709.25 284.5h52.8v1.55h-52.8zM571.75 285.75h7.8v1.55h-7.8zM583 285.75h2.8v1.55h-2.8zM590.5 285.75h4.05v1.55h-4.05zM600.5 285.75h1.55v1.55h-1.55zM620.5 285.75h1.55v1.55h-1.55zM661.75 285.75h1.55v1.55h-1.55zM665.5 285.75h1.55v1.55h-1.55zM673 285.75h17.8v1.55h-17.8zM691.75 285.75h4.05v1.55h-4.05zM696.75 285.75h1.55v1.55h-1.55zM699.25 285.75h10.3v1.55h-10.3zM710.5 285.75h50.3v1.55h-50.3zM573 287h1.55v1.55h-1.55zM590.5 287h1.55v1.55h-1.55zM596.75 287h7.8v1.55h-7.8zM619.25 287h1.55v1.55h-1.55zM665.5 287h1.55v1.55h-1.55zM673 287h19.05v1.55h-19.05zM693 287h5.3v1.55h-5.3zM700.5 287h60.3v1.55h-60.3zM586.75 288.25h5.3v1.55h-5.3zM598 288.25h1.55v1.55h-1.55zM600.5 288.25h4.05v1.55h-4.05zM611.75 288.25h2.8v1.55h-2.8zM665.5 288.25h4.05v1.55h-4.05zM673 288.25h5.3v1.55h-5.3zM679.25 288.25h80.3v1.55h-80.3zM760.5 288.25h1.55v1.55h-1.55zM583 289.5h1.55v1.55h-1.55zM586.75 289.5h2.8v1.55h-2.8zM611.75 289.5h1.55v1.55h-1.55zM616.75 289.5h1.55v1.55h-1.55zM666.75 289.5h4.05v1.55h-4.05zM678 289.5h14.05v1.55h-14.05zM693 289.5h2.8v1.55h-2.8zM696.75 289.5h60.3v1.55h-60.3zM758 289.5h4.05v1.55h-4.05zM583 290.75h1.55v1.55h-1.55zM586.75 290.75h4.05v1.55h-4.05zM606.75 290.75h4.05v1.55h-4.05zM615.5 290.75h1.55v1.55h-1.55zM669.25 290.75h1.55v1.55h-1.55zM680.5 290.75h76.55v1.55h-76.55zM588 292h2.8v1.55h-2.8zM595.5 292h4.05v1.55h-4.05zM600.5 292h1.55v1.55h-1.55zM608 292h2.8v1.55h-2.8zM670.5 292h2.8v1.55h-2.8zM680.5 292h2.8v1.55h-2.8zM684.25 292h70.3v1.55h-70.3zM755.5 292h1.55v1.55h-1.55zM588 293.25h2.8v1.55h-2.8zM591.75 293.25h2.8v1.55h-2.8zM596.75 293.25h5.3v1.55h-5.3zM608 293.25h1.55v1.55h-1.55zM671.75 293.25h1.55v1.55h-1.55zM681.75 293.25h1.55v1.55h-1.55zM685.5 293.25h69.05v1.55h-69.05zM755.5 293.25h1.55v1.55h-1.55zM583 294.5h2.8v1.55h-2.8zM589.25 294.5h10.3v1.55h-10.3zM673 294.5h1.55v1.55h-1.55zM685.5 294.5h71.55v1.55h-71.55zM579.25 295.75h1.55v1.55h-1.55zM583 295.75h4.05v1.55h-4.05zM590.5 295.75h1.55v1.55h-1.55zM595.5 295.75h1.55v1.55h-1.55zM601.75 295.75h2.8v1.55h-2.8zM673 295.75h1.55v1.55h-1.55zM685.5 295.75h17.8v1.55h-17.8zM704.25 295.75h54.05v1.55h-54.05zM578 297h4.05v1.55h-4.05zM583 297h1.55v1.55h-1.55zM589.25 297h4.05v1.55h-4.05zM601.75 297h1.55v1.55h-1.55zM684.25 297h1.55v1.55h-1.55zM688 297h14.05v1.55h-14.05zM703 297h55.3v1.55h-55.3zM579.25 298.25h1.55v1.55h-1.55zM581.75 298.25h2.8v1.55h-2.8zM588 298.25h4.05v1.55h-4.05zM600.5 298.25h1.55v1.55h-1.55zM688 298.25h71.55v1.55h-71.55zM578 299.5h1.55v1.55h-1.55zM588 299.5h2.8v1.55h-2.8zM594.25 299.5h2.8v1.55h-2.8zM599.25 299.5h2.8v1.55h-2.8zM681.75 299.5h1.55v1.55h-1.55zM684.25 299.5h1.55v1.55h-1.55zM688 299.5h75.3v1.55h-75.3zM579.25 300.75h4.05v1.55h-4.05zM589.25 300.75h2.8v1.55h-2.8zM594.25 300.75h2.8v1.55h-2.8zM689.25 300.75h1.55v1.55h-1.55zM691.75 300.75h72.8v1.55h-72.8zM580.5 302h2.8v1.55h-2.8zM584.25 302h2.8v1.55h-2.8zM691.75 302h1.55v1.55h-1.55zM695.5 302h2.8v1.55h-2.8zM700.5 302h64.05v1.55h-64.05zM581.75 303.25h6.55v1.55h-6.55zM700.5 303.25h45.3v1.55h-45.3zM746.75 303.25h17.8v1.55h-17.8zM581.75 304.5h6.55v1.55h-6.55zM694.25 304.5h6.55v1.55h-6.55zM705.5 304.5h35.3v1.55h-35.3zM741.75 304.5h2.8v1.55h-2.8zM748 304.5h5.3v1.55h-5.3zM754.25 304.5h14.05v1.55h-14.05zM695.5 305.75h5.3v1.55h-5.3zM705.5 305.75h37.8v1.55h-37.8zM746.75 305.75h2.8v1.55h-2.8zM751.75 305.75h1.55v1.55h-1.55zM756.75 305.75h4.05v1.55h-4.05zM763 305.75h5.3v1.55h-5.3zM585.5 307h1.55v1.55h-1.55zM703 307h41.55v1.55h-41.55zM584.25 308.25h2.8v1.55h-2.8zM703 308.25h39.05v1.55h-39.05zM704.25 309.5h1.55v1.55h-1.55zM706.75 309.5h1.55v1.55h-1.55zM713 309.5h25.3v1.55h-25.3zM739.25 309.5h5.3v1.55h-5.3zM713 310.75h25.3v1.55h-25.3zM740.5 310.75h5.3v1.55h-5.3zM681.75 312h1.55v1.55h-1.55zM711.75 312h1.55v1.55h-1.55zM715.5 312h10.3v1.55h-10.3zM726.75 312h5.3v1.55h-5.3zM735.5 312h4.05v1.55h-4.05zM743 312h4.05v1.55h-4.05zM715.5 313.25h11.55v1.55h-11.55zM729.25 313.25h4.05v1.55h-4.05zM736.75 313.25h1.55v1.55h-1.55zM684.25 314.5h1.55v1.55h-1.55zM719.25 314.5h9.05v1.55h-9.05zM720.5 315.75h9.05v1.55h-9.05zM686.75 317h1.55v1.55h-1.55zM715.5 317h2.8v1.55h-2.8zM720.5 317h7.8v1.55h-7.8zM686.75 318.25h1.55v1.55h-1.55zM721.75 318.25h7.8v1.55h-7.8zM719.25 319.5h9.05v1.55h-9.05zM718 320.75h10.3v1.55h-10.3zM718 322h11.55v1.55h-11.55zM718 323.25h11.55v1.55h-11.55zM718 324.5h11.55v1.55h-11.55zM733 324.5h2.8v1.55h-2.8zM718 325.75h4.05v1.55h-4.05zM724.25 325.75h1.55v1.55h-1.55zM726.75 325.75h4.05v1.55h-4.05zM733 325.75h2.8v1.55h-2.8zM728 327h2.8v1.55h-2.8zM714.25 329.5h1.55v1.55h-1.55zM714.25 330.75h1.55v1.55h-1.55zM695.5 332h1.55v1.55h-1.55zM724.25 335.75h1.55v1.55h-1.55zM700.5 337h1.55v1.55h-1.55zM724.25 337h2.8v1.55h-2.8zM724.25 338.25h1.55v1.55h-1.55zM718 340.75h2.8v1.55h-2.8zM718 342h1.55v1.55h-1.55zM705.5 347h1.55v1.55h-1.55zM704.25 348.25h1.55v1.55h-1.55z" fill="#ee0e00"/>
<path d="M685.5 164.5h2.8v1.55h-2.8zM655.5 168.25h1.55v1.55h-1.55zM656.75 169.5h1.55v1.55h-1.55zM668 170.75h1.55v1.55h-1.55zM654.25 173.25h1.55v1.55h-1.55zM689.25 173.25h1.55v1.55h-1.55zM688 174.5h2.8v1.55h-2.8zM614.25 175.75h1.55v1.55h-1.55zM668 175.75h1.55v1.55h-1.55zM686.75 175.75h1.55v1.55h-1.55zM690.5 175.75h1.55v1.55h-1.55zM703 175.75h1.55v1.55h-1.55zM664.25 177h1.55v1.55h-1.55zM676.75 177h1.55v1.55h-1.55zM688 177h1.55v1.55h-1.55zM693 177h1.55v1.55h-1.55zM709.25 177h1.55v1.55h-1.55zM711.75 177h1.55v1.55h-1.55zM655.5 178.25h4.05v1.55h-4.05zM670.5 178.25h1.55v1.55h-1.55zM689.25 178.25h1.55v1.55h-1.55zM618 179.5h1.55v1.55h-1.55zM646.75 179.5h1.55v1.55h-1.55zM680.5 179.5h1.55v1.55h-1.55zM688 179.5h1.55v1.55h-1.55zM690.5 179.5h1.55v1.55h-1.55zM694.25 179.5h1.55v1.55h-1.55zM698 179.5h1.55v1.55h-1.55zM669.25 180.75h1.55v1.55h-1.55zM686.75 180.75h4.05v1.55h-4.05zM693 180.75h1.55v1.55h-1.55zM700.5 180.75h2.8v1.55h-2.8zM705.5 180.75h2.8v1.55h-2.8zM719.25 180.75h1.55v1.55h-1.55zM669.25 182h1.55v1.55h-1.55zM671.75 182h1.55v1.55h-1.55zM678 182h1.55v1.55h-1.55zM681.75 182h1.55v1.55h-1.55zM685.5 182h2.8v1.55h-2.8zM690.5 182h1.55v1.55h-1.55zM694.25 182h2.8v1.55h-2.8zM705.5 182h1.55v1.55h-1.55zM719.25 182h1.55v1.55h-1.55zM685.5 183.25h2.8v1.55h-2.8zM701.75 183.25h1.55v1.55h-1.55zM711.75 183.25h1.55v1.55h-1.55zM716.75 183.25h1.55v1.55h-1.55zM719.25 183.25h1.55v1.55h-1.55zM666.75 184.5h1.55v1.55h-1.55zM688 184.5h1.55v1.55h-1.55zM690.5 184.5h2.8v1.55h-2.8zM701.75 184.5h1.55v1.55h-1.55zM713 184.5h1.55v1.55h-1.55zM718 184.5h1.55v1.55h-1.55zM666.75 185.75h1.55v1.55h-1.55zM674.25 185.75h1.55v1.55h-1.55zM678 185.75h1.55v1.55h-1.55zM685.5 185.75h2.8v1.55h-2.8zM691.75 185.75h2.8v1.55h-2.8zM701.75 185.75h4.05v1.55h-4.05zM709.25 185.75h1.55v1.55h-1.55zM719.25 185.75h2.8v1.55h-2.8zM668 187h1.55v1.55h-1.55zM673 187h1.55v1.55h-1.55zM676.75 187h1.55v1.55h-1.55zM684.25 187h2.8v1.55h-2.8zM688 187h1.55v1.55h-1.55zM691.75 187h2.8v1.55h-2.8zM698 187h1.55v1.55h-1.55zM700.5 187h1.55v1.55h-1.55zM704.25 187h1.55v1.55h-1.55zM706.75 187h1.55v1.55h-1.55zM715.5 187h1.55v1.55h-1.55zM720.5 187h1.55v1.55h-1.55zM673 188.25h1.55v1.55h-1.55zM685.5 188.25h1.55v1.55h-1.55zM690.5 188.25h1.55v1.55h-1.55zM698 188.25h1.55v1.55h-1.55zM704.25 188.25h1.55v1.55h-1.55zM706.75 188.25h4.05v1.55h-4.05zM721.75 188.25h1.55v1.55h-1.55zM729.25 188.25h1.55v1.55h-1.55zM635.5 189.5h1.55v1.55h-1.55zM665.5 189.5h2.8v1.55h-2.8zM684.25 189.5h6.55v1.55h-6.55zM691.75 189.5h1.55v1.55h-1.55zM696.75 189.5h1.55v1.55h-1.55zM699.25 189.5h1.55v1.55h-1.55zM701.75 189.5h1.55v1.55h-1.55zM704.25 189.5h1.55v1.55h-1.55zM706.75 189.5h1.55v1.55h-1.55zM709.25 189.5h1.55v1.55h-1.55zM711.75 189.5h5.3v1.55h-5.3zM724.25 189.5h1.55v1.55h-1.55zM741.75 189.5h1.55v1.55h-1.55zM666.75 190.75h2.8v1.55h-2.8zM684.25 190.75h5.3v1.55h-5.3zM693 190.75h1.55v1.55h-1.55zM698 190.75h2.8v1.55h-2.8zM701.75 190.75h6.55v1.55h-6.55zM711.75 190.75h5.3v1.55h-5.3zM668 192h1.55v1.55h-1.55zM674.25 192h1.55v1.55h-1.55zM686.75 192h2.8v1.55h-2.8zM691.75 192h2.8v1.55h-2.8zM695.5 192h2.8v1.55h-2.8zM700.5 192h4.05v1.55h-4.05zM705.5 192h2.8v1.55h-2.8zM710.5 192h1.55v1.55h-1.55zM716.75 192h1.55v1.55h-1.55zM719.25 192h1.55v1.55h-1.55zM721.75 192h2.8v1.55h-2.8zM729.25 192h1.55v1.55h-1.55zM594.25 193.25h1.55v1.55h-1.55zM668 193.25h1.55v1.55h-1.55zM675.5 193.25h1.55v1.55h-1.55zM685.5 193.25h2.8v1.55h-2.8zM693 193.25h6.55v1.55h-6.55zM700.5 193.25h1.55v1.55h-1.55zM703 193.25h1.55v1.55h-1.55zM705.5 193.25h1.55v1.55h-1.55zM714.25 193.25h1.55v1.55h-1.55zM716.75 193.25h2.8v1.55h-2.8zM720.5 193.25h1.55v1.55h-1.55zM593 194.5h1.55v1.55h-1.55zM674.25 194.5h1.55v1.55h-1.55zM686.75 194.5h1.55v1.55h-1.55zM694.25 194.5h1.55v1.55h-1.55zM696.75 194.5h2.8v1.55h-2.8zM700.5 194.5h2.8v1.55h-2.8zM704.25 194.5h1.55v1.55h-1.55zM706.75 194.5h2.8v1.55h-2.8zM713 194.5h5.3v1.55h-5.3zM729.25 194.5h2.8v1.55h-2.8zM736.75 194.5h1.55v1.55h-1.55zM739.25 194.5h1.55v1.55h-1.55zM674.25 195.75h1.55v1.55h-1.55zM684.25 195.75h1.55v1.55h-1.55zM691.75 195.75h7.8v1.55h-7.8zM700.5 195.75h6.55v1.55h-6.55zM713 195.75h4.05v1.55h-4.05zM721.75 195.75h1.55v1.55h-1.55zM726.75 195.75h1.55v1.55h-1.55zM731.75 195.75h1.55v1.55h-1.55zM738 195.75h1.55v1.55h-1.55zM691.75 197h2.8v1.55h-2.8zM695.5 197h4.05v1.55h-4.05zM701.75 197h2.8v1.55h-2.8zM706.75 197h1.55v1.55h-1.55zM711.75 197h5.3v1.55h-5.3zM719.25 197h1.55v1.55h-1.55zM721.75 197h1.55v1.55h-1.55zM726.75 197h1.55v1.55h-1.55zM731.75 197h1.55v1.55h-1.55zM638 198.25h1.55v1.55h-1.55zM674.25 198.25h1.55v1.55h-1.55zM691.75 198.25h2.8v1.55h-2.8zM695.5 198.25h4.05v1.55h-4.05zM700.5 198.25h10.3v1.55h-10.3zM711.75 198.25h1.55v1.55h-1.55zM714.25 198.25h7.8v1.55h-7.8zM723 198.25h1.55v1.55h-1.55zM725.5 198.25h2.8v1.55h-2.8zM729.25 198.25h5.3v1.55h-5.3zM596.75 199.5h1.55v1.55h-1.55zM694.25 199.5h17.8v1.55h-17.8zM713 199.5h4.05v1.55h-4.05zM723 199.5h2.8v1.55h-2.8zM729.25 199.5h1.55v1.55h-1.55zM734.25 199.5h1.55v1.55h-1.55zM674.25 200.75h1.55v1.55h-1.55zM691.75 200.75h4.05v1.55h-4.05zM696.75 200.75h17.8v1.55h-17.8zM715.5 200.75h1.55v1.55h-1.55zM718 200.75h1.55v1.55h-1.55zM721.75 200.75h4.05v1.55h-4.05zM729.25 200.75h2.8v1.55h-2.8zM733 200.75h2.8v1.55h-2.8zM673 202h2.8v1.55h-2.8zM691.75 202h21.55v1.55h-21.55zM715.5 202h2.8v1.55h-2.8zM720.5 202h1.55v1.55h-1.55zM723 202h6.55v1.55h-6.55zM730.5 202h1.55v1.55h-1.55zM673 203.25h1.55v1.55h-1.55zM676.75 203.25h1.55v1.55h-1.55zM691.75 203.25h24.05v1.55h-24.05zM719.25 203.25h1.55v1.55h-1.55zM721.75 203.25h1.55v1.55h-1.55zM724.25 203.25h1.55v1.55h-1.55zM726.75 203.25h1.55v1.55h-1.55zM730.5 203.25h1.55v1.55h-1.55zM733 203.25h1.55v1.55h-1.55zM676.75 204.5h1.55v1.55h-1.55zM690.5 204.5h31.55v1.55h-31.55zM723 204.5h5.3v1.55h-5.3zM729.25 204.5h1.55v1.55h-1.55zM731.75 204.5h1.55v1.55h-1.55zM691.75 205.75h1.55v1.55h-1.55zM694.25 205.75h17.8v1.55h-17.8zM713 205.75h1.55v1.55h-1.55zM715.5 205.75h2.8v1.55h-2.8zM720.5 205.75h9.05v1.55h-9.05zM730.5 205.75h1.55v1.55h-1.55zM669.25 207h1.55v1.55h-1.55zM691.75 207h1.55v1.55h-1.55zM694.25 207h24.05v1.55h-24.05zM720.5 207h5.3v1.55h-5.3zM726.75 207h2.8v1.55h-2.8zM740.5 207h1.55v1.55h-1.55zM669.25 208.25h1.55v1.55h-1.55zM691.75 208.25h1.55v1.55h-1.55zM694.25 208.25h17.8v1.55h-17.8zM713 208.25h5.3v1.55h-5.3zM719.25 208.25h4.05v1.55h-4.05zM724.25 208.25h4.05v1.55h-4.05zM730.5 208.25h1.55v1.55h-1.55zM751.75 208.25h1.55v1.55h-1.55zM673 209.5h1.55v1.55h-1.55zM691.75 209.5h20.3v1.55h-20.3zM713 209.5h14.05v1.55h-14.05zM728 209.5h2.8v1.55h-2.8zM690.5 210.75h2.8v1.55h-2.8zM694.25 210.75h31.55v1.55h-31.55zM694.25 212h31.55v1.55h-31.55zM726.75 212h1.55v1.55h-1.55zM686.75 213.25h1.55v1.55h-1.55zM693 213.25h26.55v1.55h-26.55zM720.5 213.25h9.05v1.55h-9.05zM733 213.25h2.8v1.55h-2.8zM736.75 213.25h1.55v1.55h-1.55zM686.75 214.5h1.55v1.55h-1.55zM689.25 214.5h1.55v1.55h-1.55zM693 214.5h35.3v1.55h-35.3zM736.75 214.5h1.55v1.55h-1.55zM741.75 214.5h1.55v1.55h-1.55zM689.25 215.75h1.55v1.55h-1.55zM691.75 215.75h31.55v1.55h-31.55zM724.25 215.75h2.8v1.55h-2.8zM730.5 215.75h2.8v1.55h-2.8zM734.25 215.75h1.55v1.55h-1.55zM736.75 215.75h1.55v1.55h-1.55zM741.75 215.75h1.55v1.55h-1.55zM691.75 217h31.55v1.55h-31.55zM724.25 217h4.05v1.55h-4.05zM730.5 217h2.8v1.55h-2.8zM734.25 217h1.55v1.55h-1.55zM740.5 217h2.8v1.55h-2.8zM755.5 217h1.55v1.55h-1.55zM690.5 218.25h1.55v1.55h-1.55zM693 218.25h34.05v1.55h-34.05zM728 218.25h1.55v1.55h-1.55zM731.75 218.25h2.8v1.55h-2.8zM748 218.25h1.55v1.55h-1.55zM690.5 219.5h30.3v1.55h-30.3zM724.25 219.5h12.8v1.55h-12.8zM743 219.5h1.55v1.55h-1.55zM748 219.5h1.55v1.55h-1.55zM690.5 220.75h42.8v1.55h-42.8zM734.25 220.75h1.55v1.55h-1.55zM743 220.75h1.55v1.55h-1.55zM746.75 220.75h1.55v1.55h-1.55zM689.25 222h35.3v1.55h-35.3zM725.5 222h7.8v1.55h-7.8zM739.25 222h1.55v1.55h-1.55zM743 222h1.55v1.55h-1.55zM688 223.25h41.55v1.55h-41.55zM730.5 223.25h4.05v1.55h-4.05zM735.5 223.25h4.05v1.55h-4.05zM746.75 223.25h1.55v1.55h-1.55zM688 224.5h34.05v1.55h-34.05zM723 224.5h5.3v1.55h-5.3zM729.25 224.5h1.55v1.55h-1.55zM731.75 224.5h1.55v1.55h-1.55zM736.75 224.5h1.55v1.55h-1.55zM745.5 224.5h1.55v1.55h-1.55zM749.25 224.5h1.55v1.55h-1.55zM688 225.75h42.8v1.55h-42.8zM731.75 225.75h2.8v1.55h-2.8zM735.5 225.75h5.3v1.55h-5.3zM741.75 225.75h2.8v1.55h-2.8zM750.5 225.75h1.55v1.55h-1.55zM686.75 227h42.8v1.55h-42.8zM731.75 227h2.8v1.55h-2.8zM736.75 227h1.55v1.55h-1.55zM740.5 227h2.8v1.55h-2.8zM745.5 227h1.55v1.55h-1.55zM686.75 228.25h49.05v1.55h-49.05zM743 228.25h1.55v1.55h-1.55zM746.75 228.25h1.55v1.55h-1.55zM749.25 228.25h1.55v1.55h-1.55zM751.75 228.25h1.55v1.55h-1.55zM685.5 229.5h51.55v1.55h-51.55zM739.25 229.5h1.55v1.55h-1.55zM741.75 229.5h2.8v1.55h-2.8zM749.25 229.5h1.55v1.55h-1.55zM685.5 230.75h46.55v1.55h-46.55zM733 230.75h1.55v1.55h-1.55zM735.5 230.75h1.55v1.55h-1.55zM739.25 230.75h1.55v1.55h-1.55zM743 230.75h1.55v1.55h-1.55zM746.75 230.75h1.55v1.55h-1.55zM685.5 232h46.55v1.55h-46.55zM733 232h4.05v1.55h-4.05zM740.5 232h4.05v1.55h-4.05zM745.5 232h1.55v1.55h-1.55zM685.5 233.25h59.05v1.55h-59.05zM750.5 233.25h4.05v1.55h-4.05zM685.5 234.5h52.8v1.55h-52.8zM739.25 234.5h1.55v1.55h-1.55zM744.25 234.5h2.8v1.55h-2.8zM749.25 234.5h5.3v1.55h-5.3zM684.25 235.75h54.05v1.55h-54.05zM739.25 235.75h1.55v1.55h-1.55zM744.25 235.75h1.55v1.55h-1.55zM749.25 235.75h1.55v1.55h-1.55zM753 235.75h2.8v1.55h-2.8zM684.25 237h55.3v1.55h-55.3zM741.75 237h1.55v1.55h-1.55zM753 237h1.55v1.55h-1.55zM683 238.25h56.55v1.55h-56.55zM741.75 238.25h5.3v1.55h-5.3zM750.5 238.25h2.8v1.55h-2.8zM683 239.5h60.3v1.55h-60.3zM744.25 239.5h1.55v1.55h-1.55zM748 239.5h1.55v1.55h-1.55zM750.5 239.5h1.55v1.55h-1.55zM681.75 240.75h65.3v1.55h-65.3zM681.75 242h1.55v1.55h-1.55zM684.25 242h46.55v1.55h-46.55zM731.75 242h6.55v1.55h-6.55zM740.5 242h9.05v1.55h-9.05zM680.5 243.25h9.05v1.55h-9.05zM690.5 243.25h47.8v1.55h-47.8zM740.5 243.25h10.3v1.55h-10.3zM679.25 244.5h7.8v1.55h-7.8zM689.25 244.5h54.05v1.55h-54.05zM745.5 244.5h1.55v1.55h-1.55zM750.5 244.5h1.55v1.55h-1.55zM680.5 245.75h4.05v1.55h-4.05zM685.5 245.75h62.8v1.55h-62.8zM749.25 245.75h1.55v1.55h-1.55zM680.5 247h4.05v1.55h-4.05zM685.5 247h1.55v1.55h-1.55zM688 247h50.3v1.55h-50.3zM739.25 247h11.55v1.55h-11.55zM753 247h1.55v1.55h-1.55zM679.25 248.25h2.8v1.55h-2.8zM683 248.25h2.8v1.55h-2.8zM686.75 248.25h56.55v1.55h-56.55zM744.25 248.25h2.8v1.55h-2.8zM753 248.25h2.8v1.55h-2.8zM679.25 249.5h1.55v1.55h-1.55zM681.75 249.5h1.55v1.55h-1.55zM684.25 249.5h4.05v1.55h-4.05zM689.25 249.5h55.3v1.55h-55.3zM745.5 249.5h2.8v1.55h-2.8zM761.75 249.5h1.55v1.55h-1.55zM678 250.75h1.55v1.55h-1.55zM680.5 250.75h64.05v1.55h-64.05zM745.5 250.75h2.8v1.55h-2.8zM749.25 250.75h1.55v1.55h-1.55zM753 250.75h1.55v1.55h-1.55zM755.5 250.75h2.8v1.55h-2.8zM683 252h1.55v1.55h-1.55zM685.5 252h57.8v1.55h-57.8zM744.25 252h2.8v1.55h-2.8zM749.25 252h1.55v1.55h-1.55zM755.5 252h1.55v1.55h-1.55zM676.75 253.25h4.05v1.55h-4.05zM681.75 253.25h61.55v1.55h-61.55zM744.25 253.25h5.3v1.55h-5.3zM753 253.25h1.55v1.55h-1.55zM675.5 254.5h1.55v1.55h-1.55zM684.25 254.5h1.55v1.55h-1.55zM688 254.5h1.55v1.55h-1.55zM690.5 254.5h42.8v1.55h-42.8zM734.25 254.5h12.8v1.55h-12.8zM674.25 255.75h1.55v1.55h-1.55zM685.5 255.75h1.55v1.55h-1.55zM688 255.75h55.3v1.55h-55.3zM744.25 255.75h1.55v1.55h-1.55zM746.75 255.75h1.55v1.55h-1.55zM755.5 255.75h1.55v1.55h-1.55zM680.5 257h1.55v1.55h-1.55zM684.25 257h4.05v1.55h-4.05zM689.25 257h47.8v1.55h-47.8zM738 257h4.05v1.55h-4.05zM743 257h5.3v1.55h-5.3zM759.25 257h1.55v1.55h-1.55zM763 257h1.55v1.55h-1.55zM676.75 258.25h6.55v1.55h-6.55zM685.5 258.25h1.55v1.55h-1.55zM688 258.25h54.05v1.55h-54.05zM743 258.25h5.3v1.55h-5.3zM751.75 258.25h2.8v1.55h-2.8zM766.75 258.25h2.8v1.55h-2.8zM675.5 259.5h1.55v1.55h-1.55zM685.5 259.5h4.05v1.55h-4.05zM690.5 259.5h54.05v1.55h-54.05zM745.5 259.5h1.55v1.55h-1.55zM748 259.5h5.3v1.55h-5.3zM754.25 259.5h1.55v1.55h-1.55zM679.25 260.75h7.8v1.55h-7.8zM688 260.75h54.05v1.55h-54.05zM745.5 260.75h1.55v1.55h-1.55zM748 260.75h1.55v1.55h-1.55zM753 260.75h1.55v1.55h-1.55zM673 262h1.55v1.55h-1.55zM681.75 262h1.55v1.55h-1.55zM684.25 262h1.55v1.55h-1.55zM688 262h55.3v1.55h-55.3zM745.5 262h2.8v1.55h-2.8zM678 263.25h1.55v1.55h-1.55zM680.5 263.25h59.05v1.55h-59.05zM740.5 263.25h5.3v1.55h-5.3zM750.5 263.25h1.55v1.55h-1.55zM753 263.25h1.55v1.55h-1.55zM674.25 264.5h2.8v1.55h-2.8zM684.25 264.5h54.05v1.55h-54.05zM739.25 264.5h6.55v1.55h-6.55zM748 264.5h1.55v1.55h-1.55zM750.5 264.5h2.8v1.55h-2.8zM671.75 265.75h1.55v1.55h-1.55zM676.75 265.75h2.8v1.55h-2.8zM681.75 265.75h1.55v1.55h-1.55zM684.25 265.75h55.3v1.55h-55.3zM741.75 265.75h2.8v1.55h-2.8zM750.5 265.75h1.55v1.55h-1.55zM571.75 267h1.55v1.55h-1.55zM679.25 267h1.55v1.55h-1.55zM681.75 267h2.8v1.55h-2.8zM688 267h57.8v1.55h-57.8zM748 267h4.05v1.55h-4.05zM679.25 268.25h1.55v1.55h-1.55zM681.75 268.25h1.55v1.55h-1.55zM684.25 268.25h57.8v1.55h-57.8zM743 268.25h4.05v1.55h-4.05zM748 268.25h2.8v1.55h-2.8zM758 268.25h1.55v1.55h-1.55zM674.25 269.5h1.55v1.55h-1.55zM679.25 269.5h1.55v1.55h-1.55zM681.75 269.5h7.8v1.55h-7.8zM690.5 269.5h42.8v1.55h-42.8zM734.25 269.5h10.3v1.55h-10.3zM745.5 269.5h2.8v1.55h-2.8zM753 269.5h1.55v1.55h-1.55zM676.75 270.75h1.55v1.55h-1.55zM679.25 270.75h1.55v1.55h-1.55zM681.75 270.75h1.55v1.55h-1.55zM684.25 270.75h9.05v1.55h-9.05zM694.25 270.75h1.55v1.55h-1.55zM700.5 270.75h31.55v1.55h-31.55zM733 270.75h11.55v1.55h-11.55zM745.5 270.75h5.3v1.55h-5.3zM763 270.75h1.55v1.55h-1.55zM683 272h1.55v1.55h-1.55zM685.5 272h1.55v1.55h-1.55zM688 272h44.05v1.55h-44.05zM733 272h12.8v1.55h-12.8zM746.75 272h6.55v1.55h-6.55zM618 273.25h1.55v1.55h-1.55zM683 273.25h1.55v1.55h-1.55zM685.5 273.25h12.8v1.55h-12.8zM699.25 273.25h4.05v1.55h-4.05zM704.25 273.25h37.8v1.55h-37.8zM744.25 273.25h2.8v1.55h-2.8zM748 273.25h1.55v1.55h-1.55zM750.5 273.25h4.05v1.55h-4.05zM755.5 273.25h1.55v1.55h-1.55zM680.5 274.5h4.05v1.55h-4.05zM685.5 274.5h1.55v1.55h-1.55zM688 274.5h46.55v1.55h-46.55zM735.5 274.5h1.55v1.55h-1.55zM738 274.5h9.05v1.55h-9.05zM750.5 274.5h2.8v1.55h-2.8zM765.5 274.5h1.55v1.55h-1.55zM670.5 275.75h2.8v1.55h-2.8zM678 275.75h6.55v1.55h-6.55zM685.5 275.75h1.55v1.55h-1.55zM688 275.75h12.8v1.55h-12.8zM701.75 275.75h41.55v1.55h-41.55zM744.25 275.75h2.8v1.55h-2.8zM750.5 275.75h1.55v1.55h-1.55zM673 277h1.55v1.55h-1.55zM678 277h2.8v1.55h-2.8zM683 277h1.55v1.55h-1.55zM685.5 277h10.3v1.55h-10.3zM698 277h4.05v1.55h-4.05zM703 277h40.3v1.55h-40.3zM744.25 277h1.55v1.55h-1.55zM750.5 277h1.55v1.55h-1.55zM593 278.25h1.55v1.55h-1.55zM683 278.25h1.55v1.55h-1.55zM685.5 278.25h4.05v1.55h-4.05zM690.5 278.25h7.8v1.55h-7.8zM699.25 278.25h41.55v1.55h-41.55zM741.75 278.25h1.55v1.55h-1.55zM744.25 278.25h1.55v1.55h-1.55zM746.75 278.25h4.05v1.55h-4.05zM751.75 278.25h1.55v1.55h-1.55zM755.5 278.25h2.8v1.55h-2.8zM674.25 279.5h1.55v1.55h-1.55zM681.75 279.5h1.55v1.55h-1.55zM685.5 279.5h4.05v1.55h-4.05zM690.5 279.5h6.55v1.55h-6.55zM698 279.5h7.8v1.55h-7.8zM706.75 279.5h4.05v1.55h-4.05zM713 279.5h26.55v1.55h-26.55zM740.5 279.5h2.8v1.55h-2.8zM746.75 279.5h4.05v1.55h-4.05zM758 279.5h1.55v1.55h-1.55zM673 280.75h2.8v1.55h-2.8zM683 280.75h19.05v1.55h-19.05zM703 280.75h35.3v1.55h-35.3zM739.25 280.75h1.55v1.55h-1.55zM743 280.75h1.55v1.55h-1.55zM748 280.75h1.55v1.55h-1.55zM750.5 280.75h2.8v1.55h-2.8zM754.25 280.75h1.55v1.55h-1.55zM673 282h2.8v1.55h-2.8zM676.75 282h1.55v1.55h-1.55zM684.25 282h19.05v1.55h-19.05zM704.25 282h34.05v1.55h-34.05zM739.25 282h1.55v1.55h-1.55zM743 282h1.55v1.55h-1.55zM748 282h1.55v1.55h-1.55zM755.5 282h1.55v1.55h-1.55zM673 283.25h2.8v1.55h-2.8zM679.25 283.25h1.55v1.55h-1.55zM683 283.25h59.05v1.55h-59.05zM743 283.25h1.55v1.55h-1.55zM748 283.25h2.8v1.55h-2.8zM673 284.5h1.55v1.55h-1.55zM678 284.5h1.55v1.55h-1.55zM680.5 284.5h1.55v1.55h-1.55zM683 284.5h6.55v1.55h-6.55zM690.5 284.5h17.8v1.55h-17.8zM709.25 284.5h21.55v1.55h-21.55zM731.75 284.5h9.05v1.55h-9.05zM741.75 284.5h1.55v1.55h-1.55zM748 284.5h2.8v1.55h-2.8zM673 285.75h1.55v1.55h-1.55zM676.75 285.75h1.55v1.55h-1.55zM680.5 285.75h10.3v1.55h-10.3zM691.75 285.75h4.05v1.55h-4.05zM696.75 285.75h1.55v1.55h-1.55zM699.25 285.75h10.3v1.55h-10.3zM710.5 285.75h29.05v1.55h-29.05zM746.75 285.75h4.05v1.55h-4.05zM599.25 287h1.55v1.55h-1.55zM673 287h1.55v1.55h-1.55zM676.75 287h1.55v1.55h-1.55zM680.5 287h1.55v1.55h-1.55zM683 287h9.05v1.55h-9.05zM693 287h5.3v1.55h-5.3zM700.5 287h34.05v1.55h-34.05zM735.5 287h5.3v1.55h-5.3zM741.75 287h1.55v1.55h-1.55zM746.75 287h1.55v1.55h-1.55zM673 288.25h1.55v1.55h-1.55zM679.25 288.25h1.55v1.55h-1.55zM684.25 288.25h2.8v1.55h-2.8zM688 288.25h42.8v1.55h-42.8zM733 288.25h7.8v1.55h-7.8zM744.25 288.25h1.55v1.55h-1.55zM746.75 288.25h1.55v1.55h-1.55zM749.25 288.25h1.55v1.55h-1.55zM668 289.5h1.55v1.55h-1.55zM678 289.5h4.05v1.55h-4.05zM685.5 289.5h6.55v1.55h-6.55zM693 289.5h2.8v1.55h-2.8zM696.75 289.5h49.05v1.55h-49.05zM683 290.75h1.55v1.55h-1.55zM685.5 290.75h51.55v1.55h-51.55zM738 290.75h7.8v1.55h-7.8zM750.5 290.75h5.3v1.55h-5.3zM671.75 292h1.55v1.55h-1.55zM680.5 292h1.55v1.55h-1.55zM686.75 292h55.3v1.55h-55.3zM744.25 292h1.55v1.55h-1.55zM749.25 292h2.8v1.55h-2.8zM671.75 293.25h1.55v1.55h-1.55zM681.75 293.25h1.55v1.55h-1.55zM685.5 293.25h1.55v1.55h-1.55zM689.25 293.25h44.05v1.55h-44.05zM736.75 293.25h5.3v1.55h-5.3zM745.5 293.25h1.55v1.55h-1.55zM748 293.25h2.8v1.55h-2.8zM685.5 294.5h42.8v1.55h-42.8zM729.25 294.5h2.8v1.55h-2.8zM733 294.5h2.8v1.55h-2.8zM738 294.5h7.8v1.55h-7.8zM746.75 294.5h4.05v1.55h-4.05zM685.5 295.75h17.8v1.55h-17.8zM704.25 295.75h27.8v1.55h-27.8zM733 295.75h1.55v1.55h-1.55zM738 295.75h5.3v1.55h-5.3zM744.25 295.75h5.3v1.55h-5.3zM579.25 297h1.55v1.55h-1.55zM684.25 297h1.55v1.55h-1.55zM688 297h14.05v1.55h-14.05zM703 297h25.3v1.55h-25.3zM730.5 297h5.3v1.55h-5.3zM739.25 297h9.05v1.55h-9.05zM688 298.25h1.55v1.55h-1.55zM690.5 298.25h36.55v1.55h-36.55zM728 298.25h1.55v1.55h-1.55zM730.5 298.25h6.55v1.55h-6.55zM738 298.25h1.55v1.55h-1.55zM740.5 298.25h10.3v1.55h-10.3zM684.25 299.5h1.55v1.55h-1.55zM688 299.5h4.05v1.55h-4.05zM693 299.5h35.3v1.55h-35.3zM729.25 299.5h4.05v1.55h-4.05zM736.75 299.5h1.55v1.55h-1.55zM740.5 299.5h4.05v1.55h-4.05zM751.75 299.5h1.55v1.55h-1.55zM689.25 300.75h1.55v1.55h-1.55zM693 300.75h30.3v1.55h-30.3zM724.25 300.75h5.3v1.55h-5.3zM731.75 300.75h5.3v1.55h-5.3zM741.75 300.75h2.8v1.55h-2.8zM745.5 300.75h2.8v1.55h-2.8zM758 300.75h1.55v1.55h-1.55zM695.5 302h2.8v1.55h-2.8zM700.5 302h21.55v1.55h-21.55zM724.25 302h4.05v1.55h-4.05zM729.25 302h2.8v1.55h-2.8zM733 302h2.8v1.55h-2.8zM744.25 302h1.55v1.55h-1.55zM700.5 303.25h32.8v1.55h-32.8zM741.75 303.25h1.55v1.55h-1.55zM756.75 303.25h4.05v1.55h-4.05zM583 304.5h1.55v1.55h-1.55zM695.5 304.5h5.3v1.55h-5.3zM705.5 304.5h24.05v1.55h-24.05zM731.75 304.5h1.55v1.55h-1.55zM736.75 304.5h1.55v1.55h-1.55zM758 304.5h1.55v1.55h-1.55zM695.5 305.75h5.3v1.55h-5.3zM705.5 305.75h6.55v1.55h-6.55zM714.25 305.75h7.8v1.55h-7.8zM724.25 305.75h4.05v1.55h-4.05zM746.75 305.75h2.8v1.55h-2.8zM756.75 305.75h2.8v1.55h-2.8zM703 307h1.55v1.55h-1.55zM705.5 307h17.8v1.55h-17.8zM726.75 307h2.8v1.55h-2.8zM735.5 307h1.55v1.55h-1.55zM703 308.25h19.05v1.55h-19.05zM726.75 308.25h1.55v1.55h-1.55zM738 308.25h1.55v1.55h-1.55zM704.25 309.5h1.55v1.55h-1.55zM713 309.5h10.3v1.55h-10.3zM726.75 309.5h2.8v1.55h-2.8zM733 309.5h4.05v1.55h-4.05zM713 310.75h11.55v1.55h-11.55zM731.75 310.75h1.55v1.55h-1.55zM735.5 310.75h1.55v1.55h-1.55zM711.75 312h1.55v1.55h-1.55zM715.5 312h1.55v1.55h-1.55zM721.75 312h2.8v1.55h-2.8zM735.5 312h1.55v1.55h-1.55zM715.5 313.25h2.8v1.55h-2.8zM721.75 313.25h4.05v1.55h-4.05zM731.75 313.25h1.55v1.55h-1.55zM720.5 314.5h7.8v1.55h-7.8zM720.5 317h4.05v1.55h-4.05zM725.5 317h1.55v1.55h-1.55zM723 318.25h2.8v1.55h-2.8zM724.25 320.75h1.55v1.55h-1.55zM726.75 320.75h1.55v1.55h-1.55zM718 322h1.55v1.55h-1.55zM720.5 322h1.55v1.55h-1.55zM725.5 322h1.55v1.55h-1.55zM720.5 323.25h4.05v1.55h-4.05zM718 324.5h4.05v1.55h-4.05zM723 324.5h1.55v1.55h-1.55zM718 325.75h2.8v1.55h-2.8zM728 327h2.8v1.55h-2.8zM700.5 337h1.55v1.55h-1.55zM704.25 348.25h1.55v1.55h-1.55z" fill="#f92200"/>
<path d="M686.75 182h1.55v1.55h-1.55zM685.5 187h1.55v1.55h-1.55zM716.75 192h1.55v1.55h-1.55zM698 194.5h1.55v1.55h-1.55zM698 195.75h1.55v1.55h-1.55zM695.5 197h1.55v1.55h-1.55zM698 197h1.55v1.55h-1.55zM701.75 197h1.55v1.55h-1.55zM706.75 197h1.55v1.55h-1.55zM695.5 198.25h2.8v1.55h-2.8zM705.5 198.25h1.55v1.55h-1.55zM725.5 198.25h1.55v1.55h-1.55zM696.75 199.5h1.55v1.55h-1.55zM709.25 199.5h1.55v1.55h-1.55zM693 200.75h1.55v1.55h-1.55zM710.5 200.75h1.55v1.55h-1.55zM721.75 200.75h1.55v1.55h-1.55zM693 202h2.8v1.55h-2.8zM700.5 202h1.55v1.55h-1.55zM703 202h1.55v1.55h-1.55zM710.5 202h1.55v1.55h-1.55zM696.75 203.25h2.8v1.55h-2.8zM703 203.25h1.55v1.55h-1.55zM706.75 203.25h1.55v1.55h-1.55zM710.5 203.25h1.55v1.55h-1.55zM695.5 204.5h2.8v1.55h-2.8zM699.25 204.5h1.55v1.55h-1.55zM701.75 204.5h5.3v1.55h-5.3zM708 204.5h2.8v1.55h-2.8zM723 204.5h4.05v1.55h-4.05zM694.25 205.75h1.55v1.55h-1.55zM699.25 205.75h4.05v1.55h-4.05zM704.25 205.75h7.8v1.55h-7.8zM669.25 207h1.55v1.55h-1.55zM694.25 207h4.05v1.55h-4.05zM699.25 207h1.55v1.55h-1.55zM701.75 207h10.3v1.55h-10.3zM691.75 208.25h1.55v1.55h-1.55zM694.25 208.25h1.55v1.55h-1.55zM696.75 208.25h4.05v1.55h-4.05zM701.75 208.25h1.55v1.55h-1.55zM704.25 208.25h2.8v1.55h-2.8zM709.25 208.25h2.8v1.55h-2.8zM714.25 208.25h1.55v1.55h-1.55zM716.75 208.25h1.55v1.55h-1.55zM719.25 208.25h4.05v1.55h-4.05zM691.75 209.5h2.8v1.55h-2.8zM696.75 209.5h9.05v1.55h-9.05zM706.75 209.5h4.05v1.55h-4.05zM713 209.5h5.3v1.55h-5.3zM721.75 209.5h1.55v1.55h-1.55zM690.5 210.75h2.8v1.55h-2.8zM694.25 210.75h14.05v1.55h-14.05zM709.25 210.75h1.55v1.55h-1.55zM711.75 210.75h2.8v1.55h-2.8zM716.75 210.75h1.55v1.55h-1.55zM720.5 210.75h2.8v1.55h-2.8zM724.25 210.75h1.55v1.55h-1.55zM694.25 212h2.8v1.55h-2.8zM698 212h9.05v1.55h-9.05zM709.25 212h2.8v1.55h-2.8zM715.5 212h2.8v1.55h-2.8zM693 213.25h1.55v1.55h-1.55zM695.5 213.25h1.55v1.55h-1.55zM699.25 213.25h10.3v1.55h-10.3zM711.75 213.25h2.8v1.55h-2.8zM715.5 213.25h1.55v1.55h-1.55zM718 213.25h1.55v1.55h-1.55zM686.75 214.5h1.55v1.55h-1.55zM689.25 214.5h1.55v1.55h-1.55zM693 214.5h16.55v1.55h-16.55zM710.5 214.5h4.05v1.55h-4.05zM715.5 214.5h5.3v1.55h-5.3zM689.25 215.75h1.55v1.55h-1.55zM693 215.75h2.8v1.55h-2.8zM696.75 215.75h5.3v1.55h-5.3zM703 215.75h14.05v1.55h-14.05zM718 215.75h2.8v1.55h-2.8zM721.75 215.75h1.55v1.55h-1.55zM691.75 217h9.05v1.55h-9.05zM701.75 217h14.05v1.55h-14.05zM718 217h2.8v1.55h-2.8zM725.5 217h1.55v1.55h-1.55zM690.5 218.25h1.55v1.55h-1.55zM693 218.25h17.8v1.55h-17.8zM711.75 218.25h2.8v1.55h-2.8zM716.75 218.25h1.55v1.55h-1.55zM719.25 218.25h1.55v1.55h-1.55zM690.5 219.5h2.8v1.55h-2.8zM694.25 219.5h10.3v1.55h-10.3zM705.5 219.5h15.3v1.55h-15.3zM690.5 220.75h1.55v1.55h-1.55zM693 220.75h15.3v1.55h-15.3zM709.25 220.75h5.3v1.55h-5.3zM716.75 220.75h2.8v1.55h-2.8zM689.25 222h21.55v1.55h-21.55zM711.75 222h1.55v1.55h-1.55zM714.25 222h2.8v1.55h-2.8zM723 222h1.55v1.55h-1.55zM725.5 222h1.55v1.55h-1.55zM688 223.25h29.05v1.55h-29.05zM719.25 223.25h2.8v1.55h-2.8zM725.5 223.25h2.8v1.55h-2.8zM688 224.5h27.8v1.55h-27.8zM716.75 224.5h1.55v1.55h-1.55zM723 224.5h1.55v1.55h-1.55zM725.5 224.5h2.8v1.55h-2.8zM689.25 225.75h30.3v1.55h-30.3zM724.25 225.75h4.05v1.55h-4.05zM686.75 227h2.8v1.55h-2.8zM690.5 227h24.05v1.55h-24.05zM718 227h1.55v1.55h-1.55zM721.75 227h1.55v1.55h-1.55zM725.5 227h2.8v1.55h-2.8zM686.75 228.25h21.55v1.55h-21.55zM710.5 228.25h4.05v1.55h-4.05zM720.5 228.25h1.55v1.55h-1.55zM723 228.25h4.05v1.55h-4.05zM728 228.25h1.55v1.55h-1.55zM730.5 228.25h1.55v1.55h-1.55zM685.5 229.5h4.05v1.55h-4.05zM690.5 229.5h4.05v1.55h-4.05zM696.75 229.5h7.8v1.55h-7.8zM705.5 229.5h4.05v1.55h-4.05zM710.5 229.5h9.05v1.55h-9.05zM723 229.5h2.8v1.55h-2.8zM730.5 229.5h2.8v1.55h-2.8zM685.5 230.75h16.55v1.55h-16.55zM704.25 230.75h1.55v1.55h-1.55zM706.75 230.75h9.05v1.55h-9.05zM716.75 230.75h4.05v1.55h-4.05zM723 230.75h2.8v1.55h-2.8zM728 230.75h1.55v1.55h-1.55zM730.5 230.75h1.55v1.55h-1.55zM733 230.75h1.55v1.55h-1.55zM685.5 232h4.05v1.55h-4.05zM690.5 232h22.8v1.55h-22.8zM714.25 232h1.55v1.55h-1.55zM716.75 232h6.55v1.55h-6.55zM724.25 232h1.55v1.55h-1.55zM735.5 232h1.55v1.55h-1.55zM685.5 233.25h4.05v1.55h-4.05zM690.5 233.25h7.8v1.55h-7.8zM699.25 233.25h4.05v1.55h-4.05zM705.5 233.25h2.8v1.55h-2.8zM709.25 233.25h2.8v1.55h-2.8zM714.25 233.25h1.55v1.55h-1.55zM718 233.25h4.05v1.55h-4.05zM726.75 233.25h1.55v1.55h-1.55zM729.25 233.25h1.55v1.55h-1.55zM688 234.5h15.3v1.55h-15.3zM704.25 234.5h20.3v1.55h-20.3zM726.75 234.5h1.55v1.55h-1.55zM729.25 234.5h1.55v1.55h-1.55zM684.25 235.75h4.05v1.55h-4.05zM689.25 235.75h31.55v1.55h-31.55zM721.75 235.75h6.55v1.55h-6.55zM731.75 235.75h1.55v1.55h-1.55zM734.25 235.75h1.55v1.55h-1.55zM684.25 237h1.55v1.55h-1.55zM686.75 237h10.3v1.55h-10.3zM698 237h1.55v1.55h-1.55zM700.5 237h9.05v1.55h-9.05zM710.5 237h4.05v1.55h-4.05zM715.5 237h9.05v1.55h-9.05zM728 237h1.55v1.55h-1.55zM731.75 237h2.8v1.55h-2.8zM684.25 238.25h2.8v1.55h-2.8zM689.25 238.25h4.05v1.55h-4.05zM696.75 238.25h2.8v1.55h-2.8zM701.75 238.25h1.55v1.55h-1.55zM704.25 238.25h4.05v1.55h-4.05zM710.5 238.25h12.8v1.55h-12.8zM729.25 238.25h1.55v1.55h-1.55zM733 238.25h1.55v1.55h-1.55zM684.25 239.5h1.55v1.55h-1.55zM688 239.5h2.8v1.55h-2.8zM691.75 239.5h4.05v1.55h-4.05zM696.75 239.5h2.8v1.55h-2.8zM700.5 239.5h4.05v1.55h-4.05zM705.5 239.5h24.05v1.55h-24.05zM730.5 239.5h2.8v1.55h-2.8zM734.25 239.5h1.55v1.55h-1.55zM686.75 240.75h6.55v1.55h-6.55zM698 240.75h4.05v1.55h-4.05zM703 240.75h19.05v1.55h-19.05zM723 240.75h11.55v1.55h-11.55zM684.25 242h2.8v1.55h-2.8zM691.75 242h4.05v1.55h-4.05zM696.75 242h34.05v1.55h-34.05zM731.75 242h2.8v1.55h-2.8zM745.5 242h1.55v1.55h-1.55zM683 243.25h2.8v1.55h-2.8zM688 243.25h1.55v1.55h-1.55zM690.5 243.25h1.55v1.55h-1.55zM694.25 243.25h6.55v1.55h-6.55zM701.75 243.25h10.3v1.55h-10.3zM713 243.25h14.05v1.55h-14.05zM730.5 243.25h1.55v1.55h-1.55zM743 243.25h1.55v1.55h-1.55zM680.5 244.5h1.55v1.55h-1.55zM683 244.5h1.55v1.55h-1.55zM691.75 244.5h2.8v1.55h-2.8zM698 244.5h4.05v1.55h-4.05zM703 244.5h9.05v1.55h-9.05zM713 244.5h10.3v1.55h-10.3zM724.25 244.5h2.8v1.55h-2.8zM728 244.5h7.8v1.55h-7.8zM736.75 244.5h2.8v1.55h-2.8zM681.75 245.75h1.55v1.55h-1.55zM693 245.75h2.8v1.55h-2.8zM696.75 245.75h4.05v1.55h-4.05zM701.75 245.75h21.55v1.55h-21.55zM724.25 245.75h5.3v1.55h-5.3zM730.5 245.75h1.55v1.55h-1.55zM733 245.75h2.8v1.55h-2.8zM681.75 247h1.55v1.55h-1.55zM691.75 247h6.55v1.55h-6.55zM699.25 247h5.3v1.55h-5.3zM705.5 247h25.3v1.55h-25.3zM694.25 248.25h2.8v1.55h-2.8zM699.25 248.25h25.3v1.55h-25.3zM726.75 248.25h4.05v1.55h-4.05zM734.25 248.25h1.55v1.55h-1.55zM739.25 248.25h1.55v1.55h-1.55zM745.5 248.25h1.55v1.55h-1.55zM689.25 249.5h1.55v1.55h-1.55zM693 249.5h2.8v1.55h-2.8zM696.75 249.5h11.55v1.55h-11.55zM710.5 249.5h26.55v1.55h-26.55zM694.25 250.75h30.3v1.55h-30.3zM726.75 250.75h7.8v1.55h-7.8zM735.5 250.75h1.55v1.55h-1.55zM739.25 250.75h1.55v1.55h-1.55zM693 252h2.8v1.55h-2.8zM698 252h9.05v1.55h-9.05zM708 252h10.3v1.55h-10.3zM719.25 252h15.3v1.55h-15.3zM735.5 252h1.55v1.55h-1.55zM739.25 252h1.55v1.55h-1.55zM694.25 253.25h4.05v1.55h-4.05zM699.25 253.25h19.05v1.55h-19.05zM719.25 253.25h7.8v1.55h-7.8zM728 253.25h1.55v1.55h-1.55zM731.75 253.25h2.8v1.55h-2.8zM741.75 253.25h1.55v1.55h-1.55zM690.5 254.5h2.8v1.55h-2.8zM699.25 254.5h7.8v1.55h-7.8zM708 254.5h24.05v1.55h-24.05zM735.5 254.5h1.55v1.55h-1.55zM741.75 254.5h1.55v1.55h-1.55zM688 255.75h1.55v1.55h-1.55zM690.5 255.75h2.8v1.55h-2.8zM694.25 255.75h1.55v1.55h-1.55zM696.75 255.75h4.05v1.55h-4.05zM701.75 255.75h1.55v1.55h-1.55zM704.25 255.75h29.05v1.55h-29.05zM738 255.75h2.8v1.55h-2.8zM741.75 255.75h1.55v1.55h-1.55zM685.5 257h1.55v1.55h-1.55zM689.25 257h1.55v1.55h-1.55zM695.5 257h6.55v1.55h-6.55zM703 257h11.55v1.55h-11.55zM715.5 257h14.05v1.55h-14.05zM738 257h1.55v1.55h-1.55zM688 258.25h1.55v1.55h-1.55zM691.75 258.25h44.05v1.55h-44.05zM738 258.25h2.8v1.55h-2.8zM693 259.5h1.55v1.55h-1.55zM696.75 259.5h34.05v1.55h-34.05zM731.75 259.5h4.05v1.55h-4.05zM740.5 259.5h2.8v1.55h-2.8zM748 259.5h1.55v1.55h-1.55zM689.25 260.75h2.8v1.55h-2.8zM694.25 260.75h5.3v1.55h-5.3zM703 260.75h5.3v1.55h-5.3zM709.25 260.75h5.3v1.55h-5.3zM716.75 260.75h10.3v1.55h-10.3zM728 260.75h4.05v1.55h-4.05zM733 260.75h1.55v1.55h-1.55zM735.5 260.75h1.55v1.55h-1.55zM738 260.75h1.55v1.55h-1.55zM690.5 262h1.55v1.55h-1.55zM693 262h1.55v1.55h-1.55zM695.5 262h1.55v1.55h-1.55zM698 262h1.55v1.55h-1.55zM706.75 262h19.05v1.55h-19.05zM726.75 262h7.8v1.55h-7.8zM738 262h1.55v1.55h-1.55zM741.75 262h1.55v1.55h-1.55zM678 263.25h1.55v1.55h-1.55zM689.25 263.25h2.8v1.55h-2.8zM694.25 263.25h2.8v1.55h-2.8zM699.25 263.25h27.8v1.55h-27.8zM734.25 263.25h1.55v1.55h-1.55zM736.75 263.25h1.55v1.55h-1.55zM740.5 263.25h1.55v1.55h-1.55zM743 263.25h1.55v1.55h-1.55zM690.5 264.5h6.55v1.55h-6.55zM698 264.5h17.8v1.55h-17.8zM716.75 264.5h2.8v1.55h-2.8zM720.5 264.5h2.8v1.55h-2.8zM724.25 264.5h1.55v1.55h-1.55zM728 264.5h2.8v1.55h-2.8zM731.75 264.5h1.55v1.55h-1.55zM734.25 264.5h1.55v1.55h-1.55zM691.75 265.75h1.55v1.55h-1.55zM696.75 265.75h37.8v1.55h-37.8zM693 267h1.55v1.55h-1.55zM698 267h1.55v1.55h-1.55zM700.5 267h1.55v1.55h-1.55zM704.25 267h4.05v1.55h-4.05zM709.25 267h17.8v1.55h-17.8zM728 267h6.55v1.55h-6.55zM736.75 267h1.55v1.55h-1.55zM688 268.25h1.55v1.55h-1.55zM693 268.25h11.55v1.55h-11.55zM705.5 268.25h22.8v1.55h-22.8zM729.25 268.25h2.8v1.55h-2.8zM733 268.25h2.8v1.55h-2.8zM736.75 268.25h2.8v1.55h-2.8zM740.5 268.25h1.55v1.55h-1.55zM686.75 269.5h1.55v1.55h-1.55zM693 269.5h2.8v1.55h-2.8zM696.75 269.5h22.8v1.55h-22.8zM721.75 269.5h4.05v1.55h-4.05zM726.75 269.5h5.3v1.55h-5.3zM738 269.5h1.55v1.55h-1.55zM676.75 270.75h1.55v1.55h-1.55zM694.25 270.75h1.55v1.55h-1.55zM700.5 270.75h20.3v1.55h-20.3zM721.75 270.75h5.3v1.55h-5.3zM729.25 270.75h1.55v1.55h-1.55zM734.25 270.75h2.8v1.55h-2.8zM743 270.75h1.55v1.55h-1.55zM689.25 272h7.8v1.55h-7.8zM698 272h2.8v1.55h-2.8zM701.75 272h1.55v1.55h-1.55zM708 272h10.3v1.55h-10.3zM719.25 272h2.8v1.55h-2.8zM723 272h2.8v1.55h-2.8zM726.75 272h5.3v1.55h-5.3zM736.75 272h1.55v1.55h-1.55zM740.5 272h1.55v1.55h-1.55zM744.25 272h1.55v1.55h-1.55zM691.75 273.25h6.55v1.55h-6.55zM699.25 273.25h4.05v1.55h-4.05zM705.5 273.25h14.05v1.55h-14.05zM720.5 273.25h10.3v1.55h-10.3zM731.75 273.25h2.8v1.55h-2.8zM739.25 273.25h1.55v1.55h-1.55zM744.25 273.25h1.55v1.55h-1.55zM688 274.5h1.55v1.55h-1.55zM693 274.5h9.05v1.55h-9.05zM703 274.5h10.3v1.55h-10.3zM714.25 274.5h17.8v1.55h-17.8zM733 274.5h1.55v1.55h-1.55zM693 275.75h7.8v1.55h-7.8zM701.75 275.75h11.55v1.55h-11.55zM714.25 275.75h12.8v1.55h-12.8zM730.5 275.75h1.55v1.55h-1.55zM683 277h1.55v1.55h-1.55zM689.25 277h1.55v1.55h-1.55zM694.25 277h1.55v1.55h-1.55zM698 277h4.05v1.55h-4.05zM703 277h1.55v1.55h-1.55zM705.5 277h24.05v1.55h-24.05zM730.5 277h1.55v1.55h-1.55zM734.25 277h5.3v1.55h-5.3zM691.75 278.25h5.3v1.55h-5.3zM700.5 278.25h20.3v1.55h-20.3zM724.25 278.25h1.55v1.55h-1.55zM728 278.25h2.8v1.55h-2.8zM733 278.25h5.3v1.55h-5.3zM746.75 278.25h1.55v1.55h-1.55zM686.75 279.5h1.55v1.55h-1.55zM690.5 279.5h4.05v1.55h-4.05zM698 279.5h1.55v1.55h-1.55zM700.5 279.5h5.3v1.55h-5.3zM706.75 279.5h4.05v1.55h-4.05zM713 279.5h7.8v1.55h-7.8zM721.75 279.5h4.05v1.55h-4.05zM726.75 279.5h1.55v1.55h-1.55zM729.25 279.5h1.55v1.55h-1.55zM733 279.5h1.55v1.55h-1.55zM735.5 279.5h2.8v1.55h-2.8zM683 280.75h1.55v1.55h-1.55zM686.75 280.75h6.55v1.55h-6.55zM694.25 280.75h2.8v1.55h-2.8zM698 280.75h1.55v1.55h-1.55zM700.5 280.75h1.55v1.55h-1.55zM703 280.75h1.55v1.55h-1.55zM705.5 280.75h21.55v1.55h-21.55zM728 280.75h1.55v1.55h-1.55zM734.25 280.75h1.55v1.55h-1.55zM736.75 280.75h1.55v1.55h-1.55zM748 280.75h1.55v1.55h-1.55zM691.75 282h4.05v1.55h-4.05zM696.75 282h6.55v1.55h-6.55zM704.25 282h1.55v1.55h-1.55zM706.75 282h20.3v1.55h-20.3zM731.75 282h1.55v1.55h-1.55zM734.25 282h1.55v1.55h-1.55zM698 283.25h5.3v1.55h-5.3zM704.25 283.25h22.8v1.55h-22.8zM735.5 283.25h1.55v1.55h-1.55zM678 284.5h1.55v1.55h-1.55zM686.75 284.5h1.55v1.55h-1.55zM690.5 284.5h4.05v1.55h-4.05zM695.5 284.5h1.55v1.55h-1.55zM698 284.5h1.55v1.55h-1.55zM700.5 284.5h5.3v1.55h-5.3zM706.75 284.5h1.55v1.55h-1.55zM709.25 284.5h11.55v1.55h-11.55zM721.75 284.5h5.3v1.55h-5.3zM728 284.5h1.55v1.55h-1.55zM734.25 284.5h2.8v1.55h-2.8zM738 284.5h1.55v1.55h-1.55zM688 285.75h2.8v1.55h-2.8zM691.75 285.75h4.05v1.55h-4.05zM696.75 285.75h1.55v1.55h-1.55zM699.25 285.75h10.3v1.55h-10.3zM710.5 285.75h4.05v1.55h-4.05zM715.5 285.75h2.8v1.55h-2.8zM720.5 285.75h10.3v1.55h-10.3zM686.75 287h1.55v1.55h-1.55zM689.25 287h2.8v1.55h-2.8zM693 287h4.05v1.55h-4.05zM700.5 287h12.8v1.55h-12.8zM714.25 287h6.55v1.55h-6.55zM721.75 287h6.55v1.55h-6.55zM729.25 287h1.55v1.55h-1.55zM731.75 287h1.55v1.55h-1.55zM690.5 288.25h1.55v1.55h-1.55zM693 288.25h1.55v1.55h-1.55zM696.75 288.25h5.3v1.55h-5.3zM703 288.25h7.8v1.55h-7.8zM711.75 288.25h19.05v1.55h-19.05zM690.5 289.5h1.55v1.55h-1.55zM694.25 289.5h1.55v1.55h-1.55zM698 289.5h6.55v1.55h-6.55zM705.5 289.5h2.8v1.55h-2.8zM709.25 289.5h10.3v1.55h-10.3zM720.5 289.5h15.3v1.55h-15.3zM736.75 289.5h4.05v1.55h-4.05zM688 290.75h4.05v1.55h-4.05zM693 290.75h4.05v1.55h-4.05zM698 290.75h4.05v1.55h-4.05zM703 290.75h7.8v1.55h-7.8zM714.25 290.75h7.8v1.55h-7.8zM723 290.75h2.8v1.55h-2.8zM726.75 290.75h5.3v1.55h-5.3zM735.5 290.75h1.55v1.55h-1.55zM690.5 292h10.3v1.55h-10.3zM703 292h9.05v1.55h-9.05zM713 292h5.3v1.55h-5.3zM719.25 292h2.8v1.55h-2.8zM723 292h1.55v1.55h-1.55zM726.75 292h7.8v1.55h-7.8zM740.5 292h1.55v1.55h-1.55zM693 293.25h1.55v1.55h-1.55zM696.75 293.25h17.8v1.55h-17.8zM716.75 293.25h1.55v1.55h-1.55zM720.5 293.25h5.3v1.55h-5.3zM728 293.25h2.8v1.55h-2.8zM731.75 293.25h1.55v1.55h-1.55zM736.75 293.25h1.55v1.55h-1.55zM691.75 294.5h2.8v1.55h-2.8zM695.5 294.5h7.8v1.55h-7.8zM704.25 294.5h1.55v1.55h-1.55zM708 294.5h6.55v1.55h-6.55zM718 294.5h2.8v1.55h-2.8zM729.25 294.5h1.55v1.55h-1.55zM693 295.75h1.55v1.55h-1.55zM695.5 295.75h7.8v1.55h-7.8zM706.75 295.75h10.3v1.55h-10.3zM718 295.75h4.05v1.55h-4.05zM725.5 295.75h1.55v1.55h-1.55zM695.5 297h6.55v1.55h-6.55zM703 297h4.05v1.55h-4.05zM708 297h2.8v1.55h-2.8zM711.75 297h2.8v1.55h-2.8zM715.5 297h2.8v1.55h-2.8zM719.25 297h4.05v1.55h-4.05zM725.5 297h1.55v1.55h-1.55zM734.25 297h1.55v1.55h-1.55zM691.75 298.25h1.55v1.55h-1.55zM698 298.25h1.55v1.55h-1.55zM700.5 298.25h17.8v1.55h-17.8zM719.25 298.25h2.8v1.55h-2.8zM723 298.25h2.8v1.55h-2.8zM730.5 298.25h1.55v1.55h-1.55zM735.5 298.25h1.55v1.55h-1.55zM693 299.5h1.55v1.55h-1.55zM695.5 299.5h1.55v1.55h-1.55zM698 299.5h4.05v1.55h-4.05zM704.25 299.5h7.8v1.55h-7.8zM713 299.5h2.8v1.55h-2.8zM718 299.5h1.55v1.55h-1.55zM721.75 299.5h1.55v1.55h-1.55zM743 299.5h1.55v1.55h-1.55zM696.75 300.75h2.8v1.55h-2.8zM701.75 300.75h2.8v1.55h-2.8zM705.5 300.75h10.3v1.55h-10.3zM721.75 300.75h1.55v1.55h-1.55zM731.75 300.75h1.55v1.55h-1.55zM734.25 300.75h1.55v1.55h-1.55zM741.75 300.75h1.55v1.55h-1.55zM696.75 302h1.55v1.55h-1.55zM700.5 302h1.55v1.55h-1.55zM703 302h7.8v1.55h-7.8zM711.75 302h1.55v1.55h-1.55zM730.5 302h1.55v1.55h-1.55zM703 303.25h1.55v1.55h-1.55zM705.5 303.25h4.05v1.55h-4.05zM711.75 303.25h4.05v1.55h-4.05zM725.5 303.25h1.55v1.55h-1.55zM698 304.5h1.55v1.55h-1.55zM705.5 304.5h1.55v1.55h-1.55zM708 304.5h4.05v1.55h-4.05zM714.25 304.5h2.8v1.55h-2.8zM723 304.5h2.8v1.55h-2.8zM705.5 305.75h1.55v1.55h-1.55zM709.25 305.75h1.55v1.55h-1.55zM715.5 305.75h2.8v1.55h-2.8zM725.5 305.75h1.55v1.55h-1.55zM703 307h1.55v1.55h-1.55zM705.5 307h2.8v1.55h-2.8zM710.5 307h1.55v1.55h-1.55zM715.5 307h1.55v1.55h-1.55zM726.75 307h1.55v1.55h-1.55zM705.5 308.25h2.8v1.55h-2.8zM709.25 308.25h1.55v1.55h-1.55zM711.75 308.25h1.55v1.55h-1.55zM714.25 308.25h1.55v1.55h-1.55zM713 310.75h1.55v1.55h-1.55zM719.25 310.75h1.55v1.55h-1.55zM715.5 313.25h2.8v1.55h-2.8z" fill="#ff3808"/>
<path d="M646.75 175.75h2.8v1.55h-2.8zM646.75 177h2.8v1.55h-2.8zM648 178.25h1.55v1.55h-1.55zM648 179.5h1.55v1.55h-1.55zM650.5 179.5h1.55v1.55h-1.55zM650.5 180.75h4.05v1.55h-4.05zM660.5 180.75h1.55v1.55h-1.55zM650.5 182h2.8v1.55h-2.8zM648 183.25h6.55v1.55h-6.55zM649.25 184.5h7.8v1.55h-7.8zM659.25 184.5h1.55v1.55h-1.55zM648 185.75h9.05v1.55h-9.05zM659.25 185.75h2.8v1.55h-2.8zM675.5 185.75h1.55v1.55h-1.55zM680.5 185.75h2.8v1.55h-2.8zM646.75 187h7.8v1.55h-7.8zM661.75 187h1.55v1.55h-1.55zM680.5 187h2.8v1.55h-2.8zM649.25 188.25h4.05v1.55h-4.05zM655.5 188.25h1.55v1.55h-1.55zM658 188.25h1.55v1.55h-1.55zM661.75 188.25h1.55v1.55h-1.55zM679.25 188.25h4.05v1.55h-4.05zM693 188.25h2.8v1.55h-2.8zM641.75 189.5h2.8v1.55h-2.8zM651.75 189.5h2.8v1.55h-2.8zM655.5 189.5h4.05v1.55h-4.05zM661.75 189.5h2.8v1.55h-2.8zM678 189.5h5.3v1.55h-5.3zM693 189.5h1.55v1.55h-1.55zM650.5 190.75h4.05v1.55h-4.05zM655.5 190.75h5.3v1.55h-5.3zM661.75 190.75h4.05v1.55h-4.05zM669.25 190.75h1.55v1.55h-1.55zM678 190.75h6.55v1.55h-6.55zM690.5 190.75h1.55v1.55h-1.55zM615.5 192h1.55v1.55h-1.55zM646.75 192h1.55v1.55h-1.55zM650.5 192h7.8v1.55h-7.8zM661.75 192h4.05v1.55h-4.05zM670.5 192h2.8v1.55h-2.8zM678 192h6.55v1.55h-6.55zM689.25 192h2.8v1.55h-2.8zM614.25 193.25h4.05v1.55h-4.05zM641.75 193.25h4.05v1.55h-4.05zM646.75 193.25h12.8v1.55h-12.8zM660.5 193.25h5.3v1.55h-5.3zM670.5 193.25h2.8v1.55h-2.8zM678 193.25h7.8v1.55h-7.8zM689.25 193.25h4.05v1.55h-4.05zM615.5 194.5h4.05v1.55h-4.05zM641.75 194.5h4.05v1.55h-4.05zM648 194.5h9.05v1.55h-9.05zM658 194.5h6.55v1.55h-6.55zM669.25 194.5h1.55v1.55h-1.55zM675.5 194.5h11.55v1.55h-11.55zM689.25 194.5h4.05v1.55h-4.05zM616.75 195.75h4.05v1.55h-4.05zM633 195.75h1.55v1.55h-1.55zM640.5 195.75h5.3v1.55h-5.3zM648 195.75h9.05v1.55h-9.05zM658 195.75h7.8v1.55h-7.8zM669.25 195.75h2.8v1.55h-2.8zM675.5 195.75h9.05v1.55h-9.05zM685.5 195.75h6.55v1.55h-6.55zM614.25 197h1.55v1.55h-1.55zM618 197h2.8v1.55h-2.8zM639.25 197h20.3v1.55h-20.3zM660.5 197h1.55v1.55h-1.55zM664.25 197h10.3v1.55h-10.3zM675.5 197h9.05v1.55h-9.05zM686.75 197h5.3v1.55h-5.3zM613 198.25h2.8v1.55h-2.8zM619.25 198.25h4.05v1.55h-4.05zM639.25 198.25h15.3v1.55h-15.3zM655.5 198.25h6.55v1.55h-6.55zM664.25 198.25h10.3v1.55h-10.3zM675.5 198.25h9.05v1.55h-9.05zM685.5 198.25h6.55v1.55h-6.55zM608 199.5h4.05v1.55h-4.05zM614.25 199.5h2.8v1.55h-2.8zM619.25 199.5h5.3v1.55h-5.3zM639.25 199.5h10.3v1.55h-10.3zM650.5 199.5h4.05v1.55h-4.05zM655.5 199.5h10.3v1.55h-10.3zM669.25 199.5h5.3v1.55h-5.3zM675.5 199.5h19.05v1.55h-19.05zM609.25 200.75h1.55v1.55h-1.55zM615.5 200.75h2.8v1.55h-2.8zM620.5 200.75h5.3v1.55h-5.3zM628 200.75h2.8v1.55h-2.8zM640.5 200.75h9.05v1.55h-9.05zM650.5 200.75h22.8v1.55h-22.8zM675.5 200.75h16.55v1.55h-16.55zM614.25 202h5.3v1.55h-5.3zM620.5 202h1.55v1.55h-1.55zM624.25 202h6.55v1.55h-6.55zM640.5 202h25.3v1.55h-25.3zM666.75 202h6.55v1.55h-6.55zM675.5 202h16.55v1.55h-16.55zM604.25 203.25h1.55v1.55h-1.55zM614.25 203.25h5.3v1.55h-5.3zM620.5 203.25h2.8v1.55h-2.8zM625.5 203.25h2.8v1.55h-2.8zM635.5 203.25h4.05v1.55h-4.05zM641.75 203.25h31.55v1.55h-31.55zM674.25 203.25h2.8v1.55h-2.8zM678 203.25h11.55v1.55h-11.55zM690.5 203.25h1.55v1.55h-1.55zM604.25 204.5h2.8v1.55h-2.8zM615.5 204.5h2.8v1.55h-2.8zM620.5 204.5h2.8v1.55h-2.8zM625.5 204.5h4.05v1.55h-4.05zM630.5 204.5h1.55v1.55h-1.55zM636.75 204.5h40.3v1.55h-40.3zM678 204.5h11.55v1.55h-11.55zM616.75 205.75h2.8v1.55h-2.8zM620.5 205.75h12.8v1.55h-12.8zM636.75 205.75h55.3v1.55h-55.3zM693 205.75h1.55v1.55h-1.55zM608 207h1.55v1.55h-1.55zM618 207h15.3v1.55h-15.3zM635.5 207h9.05v1.55h-9.05zM646.75 207h22.8v1.55h-22.8zM670.5 207h21.55v1.55h-21.55zM693 207h1.55v1.55h-1.55zM608 208.25h2.8v1.55h-2.8zM619.25 208.25h15.3v1.55h-15.3zM636.75 208.25h11.55v1.55h-11.55zM650.5 208.25h19.05v1.55h-19.05zM670.5 208.25h20.3v1.55h-20.3zM693 208.25h1.55v1.55h-1.55zM616.75 209.5h1.55v1.55h-1.55zM620.5 209.5h15.3v1.55h-15.3zM636.75 209.5h36.55v1.55h-36.55zM674.25 209.5h17.8v1.55h-17.8zM609.25 210.75h1.55v1.55h-1.55zM611.75 210.75h79.05v1.55h-79.05zM693 210.75h1.55v1.55h-1.55zM611.75 212h82.8v1.55h-82.8zM613 213.25h74.05v1.55h-74.05zM688 213.25h5.3v1.55h-5.3zM614.25 214.5h9.05v1.55h-9.05zM625.5 214.5h15.3v1.55h-15.3zM641.75 214.5h45.3v1.55h-45.3zM688 214.5h1.55v1.55h-1.55zM690.5 214.5h2.8v1.55h-2.8zM615.5 215.75h9.05v1.55h-9.05zM625.5 215.75h15.3v1.55h-15.3zM641.75 215.75h47.8v1.55h-47.8zM690.5 215.75h1.55v1.55h-1.55zM618 217h2.8v1.55h-2.8zM623 217h69.05v1.55h-69.05zM619.25 218.25h2.8v1.55h-2.8zM623 218.25h67.8v1.55h-67.8zM691.75 218.25h1.55v1.55h-1.55zM619.25 219.5h71.55v1.55h-71.55zM621.75 220.75h69.05v1.55h-69.05zM623 222h66.55v1.55h-66.55zM624.25 223.25h64.05v1.55h-64.05zM625.5 224.5h62.8v1.55h-62.8zM626.75 225.75h61.55v1.55h-61.55zM628 227h59.05v1.55h-59.05zM630.5 228.25h56.55v1.55h-56.55zM631.75 229.5h54.05v1.55h-54.05zM598 230.75h2.8v1.55h-2.8zM633 230.75h52.8v1.55h-52.8zM600.5 232h1.55v1.55h-1.55zM634.25 232h51.55v1.55h-51.55zM603 233.25h2.8v1.55h-2.8zM635.5 233.25h50.3v1.55h-50.3zM605.5 234.5h1.55v1.55h-1.55zM636.75 234.5h49.05v1.55h-49.05zM609.25 235.75h2.8v1.55h-2.8zM638 235.75h46.55v1.55h-46.55zM611.75 237h1.55v1.55h-1.55zM640.5 237h44.05v1.55h-44.05zM614.25 238.25h2.8v1.55h-2.8zM641.75 238.25h41.55v1.55h-41.55zM616.75 239.5h1.55v1.55h-1.55zM643 239.5h40.3v1.55h-40.3zM620.5 240.75h2.8v1.55h-2.8zM644.25 240.75h37.8v1.55h-37.8zM623 242h2.8v1.55h-2.8zM645.5 242h36.55v1.55h-36.55zM625.5 243.25h2.8v1.55h-2.8zM646.75 243.25h34.05v1.55h-34.05zM628 244.5h4.05v1.55h-4.05zM649.25 244.5h30.3v1.55h-30.3zM631.75 245.75h2.8v1.55h-2.8zM650.5 245.75h29.05v1.55h-29.05zM634.25 247h2.8v1.55h-2.8zM651.75 247h29.05v1.55h-29.05zM636.75 248.25h2.8v1.55h-2.8zM653 248.25h26.55v1.55h-26.55zM640.5 249.5h2.8v1.55h-2.8zM654.25 249.5h24.05v1.55h-24.05zM643 250.75h2.8v1.55h-2.8zM655.5 250.75h22.8v1.55h-22.8zM645.5 252h2.8v1.55h-2.8zM656.75 252h20.3v1.55h-20.3zM648 253.25h4.05v1.55h-4.05zM659.25 253.25h17.8v1.55h-17.8zM651.75 254.5h2.8v1.55h-2.8zM660.5 254.5h15.3v1.55h-15.3zM654.25 255.75h2.8v1.55h-2.8zM661.75 255.75h12.8v1.55h-12.8zM656.75 257h2.8v1.55h-2.8zM663 257h2.8v1.55h-2.8zM670.5 257h2.8v1.55h-2.8zM659.25 258.25h4.05v1.55h-4.05zM650.5 262h12.8v1.55h-12.8zM639.25 263.25h24.05v1.55h-24.05zM621.75 264.5h40.3v1.55h-40.3zM604.25 265.75h55.3v1.55h-55.3zM664.25 265.75h1.55v1.55h-1.55zM588 267h25.3v1.55h-25.3zM615.5 267h42.8v1.55h-42.8zM663 267h1.55v1.55h-1.55zM666.75 267h4.05v1.55h-4.05zM574.25 268.25h5.3v1.55h-5.3zM586.75 268.25h6.55v1.55h-6.55zM595.5 268.25h10.3v1.55h-10.3zM608 268.25h9.05v1.55h-9.05zM618 268.25h37.8v1.55h-37.8zM661.75 268.25h1.55v1.55h-1.55zM664.25 268.25h6.55v1.55h-6.55zM576.75 269.5h16.55v1.55h-16.55zM600.5 269.5h2.8v1.55h-2.8zM608 269.5h9.05v1.55h-9.05zM618 269.5h35.3v1.55h-35.3zM661.75 269.5h1.55v1.55h-1.55zM664.25 269.5h5.3v1.55h-5.3zM576.75 270.75h6.55v1.55h-6.55zM585.5 270.75h7.8v1.55h-7.8zM599.25 270.75h20.3v1.55h-20.3zM621.75 270.75h29.05v1.55h-29.05zM660.5 270.75h1.55v1.55h-1.55zM663 270.75h6.55v1.55h-6.55zM670.5 270.75h1.55v1.55h-1.55zM695.5 270.75h5.3v1.55h-5.3zM571.75 272h9.05v1.55h-9.05zM585.5 272h10.3v1.55h-10.3zM598 272h51.55v1.55h-51.55zM659.25 272h1.55v1.55h-1.55zM663 272h6.55v1.55h-6.55zM684.25 272h1.55v1.55h-1.55zM571.75 273.25h9.05v1.55h-9.05zM583 273.25h34.05v1.55h-34.05zM619.25 273.25h27.8v1.55h-27.8zM659.25 273.25h1.55v1.55h-1.55zM663 273.25h6.55v1.55h-6.55zM684.25 273.25h1.55v1.55h-1.55zM698 273.25h1.55v1.55h-1.55zM703 273.25h1.55v1.55h-1.55zM573 274.5h2.8v1.55h-2.8zM578 274.5h2.8v1.55h-2.8zM583 274.5h5.3v1.55h-5.3zM596.75 274.5h26.55v1.55h-26.55zM624.25 274.5h20.3v1.55h-20.3zM658 274.5h1.55v1.55h-1.55zM665.5 274.5h2.8v1.55h-2.8zM573 275.75h2.8v1.55h-2.8zM578 275.75h2.8v1.55h-2.8zM583 275.75h2.8v1.55h-2.8zM593 275.75h20.3v1.55h-20.3zM615.5 275.75h27.8v1.55h-27.8zM656.75 275.75h1.55v1.55h-1.55zM664.25 275.75h4.05v1.55h-4.05zM700.5 275.75h1.55v1.55h-1.55zM575.5 277h2.8v1.55h-2.8zM583 277h2.8v1.55h-2.8zM589.25 277h10.3v1.55h-10.3zM601.75 277h14.05v1.55h-14.05zM616.75 277h24.05v1.55h-24.05zM656.75 277h1.55v1.55h-1.55zM660.5 277h7.8v1.55h-7.8zM670.5 277h2.8v1.55h-2.8zM695.5 277h2.8v1.55h-2.8zM701.75 277h1.55v1.55h-1.55zM575.5 278.25h2.8v1.55h-2.8zM580.5 278.25h6.55v1.55h-6.55zM589.25 278.25h1.55v1.55h-1.55zM595.5 278.25h4.05v1.55h-4.05zM601.75 278.25h14.05v1.55h-14.05zM616.75 278.25h21.55v1.55h-21.55zM655.5 278.25h1.55v1.55h-1.55zM660.5 278.25h9.05v1.55h-9.05zM670.5 278.25h2.8v1.55h-2.8zM575.5 279.5h2.8v1.55h-2.8zM581.75 279.5h2.8v1.55h-2.8zM586.75 279.5h2.8v1.55h-2.8zM594.25 279.5h2.8v1.55h-2.8zM601.75 279.5h1.55v1.55h-1.55zM605.5 279.5h15.3v1.55h-15.3zM621.75 279.5h14.05v1.55h-14.05zM654.25 279.5h1.55v1.55h-1.55zM660.5 279.5h12.8v1.55h-12.8zM696.75 279.5h1.55v1.55h-1.55zM705.5 279.5h1.55v1.55h-1.55zM710.5 279.5h2.8v1.55h-2.8zM571.75 280.75h1.55v1.55h-1.55zM576.75 280.75h2.8v1.55h-2.8zM586.75 280.75h5.3v1.55h-5.3zM595.5 280.75h24.05v1.55h-24.05zM621.75 280.75h12.8v1.55h-12.8zM654.25 280.75h1.55v1.55h-1.55zM660.5 280.75h12.8v1.55h-12.8zM701.75 280.75h1.55v1.55h-1.55zM573 282h1.55v1.55h-1.55zM576.75 282h2.8v1.55h-2.8zM590.5 282h9.05v1.55h-9.05zM600.5 282h31.55v1.55h-31.55zM653 282h1.55v1.55h-1.55zM659.25 282h11.55v1.55h-11.55zM703 282h1.55v1.55h-1.55zM568 283.25h6.55v1.55h-6.55zM576.75 283.25h2.8v1.55h-2.8zM593 283.25h2.8v1.55h-2.8zM601.75 283.25h5.3v1.55h-5.3zM609.25 283.25h20.3v1.55h-20.3zM651.75 283.25h1.55v1.55h-1.55zM658 283.25h14.05v1.55h-14.05zM566.75 284.5h7.8v1.55h-7.8zM585.5 284.5h2.8v1.55h-2.8zM598 284.5h9.05v1.55h-9.05zM608 284.5h19.05v1.55h-19.05zM651.75 284.5h1.55v1.55h-1.55zM661.75 284.5h11.55v1.55h-11.55zM689.25 284.5h1.55v1.55h-1.55zM708 284.5h1.55v1.55h-1.55zM566.75 285.75h2.8v1.55h-2.8zM585.5 285.75h5.3v1.55h-5.3zM594.25 285.75h6.55v1.55h-6.55zM601.75 285.75h19.05v1.55h-19.05zM621.75 285.75h4.05v1.55h-4.05zM650.5 285.75h1.55v1.55h-1.55zM663 285.75h2.8v1.55h-2.8zM666.75 285.75h6.55v1.55h-6.55zM690.5 285.75h1.55v1.55h-1.55zM695.5 285.75h1.55v1.55h-1.55zM698 285.75h1.55v1.55h-1.55zM709.25 285.75h1.55v1.55h-1.55zM583 287h7.8v1.55h-7.8zM591.75 287h5.3v1.55h-5.3zM604.25 287h15.3v1.55h-15.3zM620.5 287h2.8v1.55h-2.8zM649.25 287h1.55v1.55h-1.55zM663 287h2.8v1.55h-2.8zM666.75 287h6.55v1.55h-6.55zM691.75 287h1.55v1.55h-1.55zM698 287h2.8v1.55h-2.8zM579.25 288.25h1.55v1.55h-1.55zM583 288.25h4.05v1.55h-4.05zM591.75 288.25h6.55v1.55h-6.55zM599.25 288.25h1.55v1.55h-1.55zM604.25 288.25h7.8v1.55h-7.8zM614.25 288.25h6.55v1.55h-6.55zM648 288.25h2.8v1.55h-2.8zM669.25 288.25h4.05v1.55h-4.05zM678 288.25h1.55v1.55h-1.55zM575.5 289.5h2.8v1.55h-2.8zM579.25 289.5h2.8v1.55h-2.8zM589.25 289.5h22.8v1.55h-22.8zM613 289.5h4.05v1.55h-4.05zM670.5 289.5h7.8v1.55h-7.8zM691.75 289.5h1.55v1.55h-1.55zM695.5 289.5h1.55v1.55h-1.55zM576.75 290.75h2.8v1.55h-2.8zM590.5 290.75h16.55v1.55h-16.55zM610.5 290.75h5.3v1.55h-5.3zM670.5 290.75h10.3v1.55h-10.3zM585.5 292h2.8v1.55h-2.8zM590.5 292h5.3v1.55h-5.3zM599.25 292h1.55v1.55h-1.55zM601.75 292h6.55v1.55h-6.55zM610.5 292h4.05v1.55h-4.05zM673 292h7.8v1.55h-7.8zM683 292h1.55v1.55h-1.55zM586.75 293.25h1.55v1.55h-1.55zM590.5 293.25h1.55v1.55h-1.55zM594.25 293.25h2.8v1.55h-2.8zM601.75 293.25h6.55v1.55h-6.55zM609.25 293.25h2.8v1.55h-2.8zM673 293.25h9.05v1.55h-9.05zM683 293.25h2.8v1.55h-2.8zM585.5 294.5h4.05v1.55h-4.05zM599.25 294.5h11.55v1.55h-11.55zM671.75 294.5h1.55v1.55h-1.55zM674.25 294.5h11.55v1.55h-11.55zM586.75 295.75h2.8v1.55h-2.8zM591.75 295.75h4.05v1.55h-4.05zM596.75 295.75h5.3v1.55h-5.3zM604.25 295.75h4.05v1.55h-4.05zM674.25 295.75h11.55v1.55h-11.55zM703 295.75h1.55v1.55h-1.55zM584.25 297h5.3v1.55h-5.3zM593 297h1.55v1.55h-1.55zM595.5 297h6.55v1.55h-6.55zM603 297h2.8v1.55h-2.8zM673 297h11.55v1.55h-11.55zM685.5 297h2.8v1.55h-2.8zM701.75 297h1.55v1.55h-1.55zM575.5 298.25h1.55v1.55h-1.55zM580.5 298.25h1.55v1.55h-1.55zM584.25 298.25h4.05v1.55h-4.05zM591.75 298.25h1.55v1.55h-1.55zM596.75 298.25h4.05v1.55h-4.05zM601.75 298.25h1.55v1.55h-1.55zM674.25 298.25h14.05v1.55h-14.05zM583 299.5h5.3v1.55h-5.3zM590.5 299.5h4.05v1.55h-4.05zM596.75 299.5h2.8v1.55h-2.8zM674.25 299.5h7.8v1.55h-7.8zM683 299.5h1.55v1.55h-1.55zM685.5 299.5h2.8v1.55h-2.8zM583 300.75h6.55v1.55h-6.55zM591.75 300.75h2.8v1.55h-2.8zM596.75 300.75h2.8v1.55h-2.8zM675.5 300.75h14.05v1.55h-14.05zM690.5 300.75h1.55v1.55h-1.55zM583 302h1.55v1.55h-1.55zM586.75 302h10.3v1.55h-10.3zM675.5 302h16.55v1.55h-16.55zM693 302h2.8v1.55h-2.8zM698 302h2.8v1.55h-2.8zM588 303.25h6.55v1.55h-6.55zM676.75 303.25h24.05v1.55h-24.05zM588 304.5h5.3v1.55h-5.3zM678 304.5h16.55v1.55h-16.55zM700.5 304.5h5.3v1.55h-5.3zM588 305.75h2.8v1.55h-2.8zM678 305.75h17.8v1.55h-17.8zM700.5 305.75h5.3v1.55h-5.3zM679.25 307h24.05v1.55h-24.05zM679.25 308.25h24.05v1.55h-24.05zM680.5 309.5h24.05v1.55h-24.05zM705.5 309.5h1.55v1.55h-1.55zM708 309.5h5.3v1.55h-5.3zM681.75 310.75h31.55v1.55h-31.55zM683 312h29.05v1.55h-29.05zM713 312h2.8v1.55h-2.8zM630.5 313.25h1.55v1.55h-1.55zM683 313.25h32.8v1.55h-32.8zM630.5 314.5h2.8v1.55h-2.8zM685.5 314.5h34.05v1.55h-34.05zM629.25 315.75h2.8v1.55h-2.8zM685.5 315.75h35.3v1.55h-35.3zM628 317h2.8v1.55h-2.8zM688 317h27.8v1.55h-27.8zM718 317h2.8v1.55h-2.8zM628 318.25h1.55v1.55h-1.55zM688 318.25h30.3v1.55h-30.3zM720.5 318.25h1.55v1.55h-1.55zM688 319.5h30.3v1.55h-30.3zM689.25 320.75h29.05v1.55h-29.05zM690.5 322h24.05v1.55h-24.05zM715.5 322h2.8v1.55h-2.8zM690.5 323.25h24.05v1.55h-24.05zM716.75 323.25h1.55v1.55h-1.55zM691.75 324.5h22.8v1.55h-22.8zM716.75 324.5h1.55v1.55h-1.55zM693 325.75h22.8v1.55h-22.8zM693 327h17.8v1.55h-17.8zM711.75 327h5.3v1.55h-5.3zM694.25 328.25h11.55v1.55h-11.55zM711.75 328.25h4.05v1.55h-4.05zM694.25 329.5h11.55v1.55h-11.55zM713 329.5h1.55v1.55h-1.55zM695.5 330.75h11.55v1.55h-11.55zM696.75 332h10.3v1.55h-10.3zM696.75 333.25h9.05v1.55h-9.05zM696.75 334.5h9.05v1.55h-9.05zM699.25 335.75h2.8v1.55h-2.8z" fill="#08086e"/>
</g>
<path d="M505.5 277h5.3v1.55h-5.3zM505.5 278.25h5.3v1.55h-5.3zM506.75 279.5h4.05v1.55h-4.05zM508 280.75h2.8v1.55h-2.8zM508 282h2.8v1.55h-2.8zM508 283.25h2.8v1.55h-2.8zM508 284.5h2.8v1.55h-2.8zM508 285.75h2.8v1.55h-2.8zM508 287h2.8v1.55h-2.8zM508 288.25h2.8v1.55h-2.8zM506.75 289.5h4.05v1.55h-4.05zM506.75 290.75h4.05v1.55h-4.05zM506.75 292h4.05v1.55h-4.05zM506.75 293.25h4.05v1.55h-4.05zM505.5 294.5h6.55v1.55h-6.55zM505.5 295.75h6.55v1.55h-6.55zM506.75 297h5.3v1.55h-5.3zM506.75 298.25h5.3v1.55h-5.3zM506.75 299.5h1.55v1.55h-1.55zM509.25 299.5h4.05v1.55h-4.05zM509.25 300.75h4.05v1.55h-4.05zM508 302h5.3v1.55h-5.3zM509.25 303.25h4.05v1.55h-4.05zM509.25 304.5h6.55v1.55h-6.55zM509.25 305.75h1.55v1.55h-1.55zM511.75 305.75h4.05v1.55h-4.05zM510.5 307h6.55v1.55h-6.55zM529.25 307h4.05v1.55h-4.05zM511.75 308.25h5.3v1.55h-5.3zM529.25 308.25h5.3v1.55h-5.3zM511.75 309.5h5.3v1.55h-5.3zM530.5 309.5h6.55v1.55h-6.55zM514.25 310.75h1.55v1.55h-1.55zM531.75 310.75h5.3v1.55h-5.3zM533 312h4.05v1.55h-4.05zM533 313.25h4.05v1.55h-4.05zM509.25 327h5.3v1.55h-5.3zM511.75 328.25h6.55v1.55h-6.55zM514.25 329.5h5.3v1.55h-5.3zM516.75 330.75h4.05v1.55h-4.05zM516.75 332h4.05v1.55h-4.05zM518 333.25h2.8v1.55h-2.8zM519.25 334.5h4.05v1.55h-4.05zM519.25 335.75h4.05v1.55h-4.05zM519.25 337h4.05v1.55h-4.05zM529.25 337h5.3v1.55h-5.3zM519.25 338.25h5.3v1.55h-5.3zM529.25 338.25h5.3v1.55h-5.3zM520.5 339.5h5.3v1.55h-5.3zM529.25 339.5h6.55v1.55h-6.55zM521.75 340.75h2.8v1.55h-2.8zM530.5 340.75h5.3v1.55h-5.3zM709.25 340.75h5.3v1.55h-5.3zM531.75 342h5.3v1.55h-5.3zM709.25 342h5.3v1.55h-5.3zM533 343.25h4.05v1.55h-4.05zM709.25 343.25h6.55v1.55h-6.55zM533 344.5h6.55v1.55h-6.55zM710.5 344.5h5.3v1.55h-5.3zM534.25 345.75h6.55v1.55h-6.55zM709.25 345.75h5.3v1.55h-5.3zM740.5 345.75h1.55v1.55h-1.55zM535.5 347h2.8v1.55h-2.8zM709.25 347h4.05v1.55h-4.05zM735.5 347h9.05v1.55h-9.05zM709.25 348.25h2.8v1.55h-2.8zM725.5 348.25h1.55v1.55h-1.55zM734.25 348.25h11.55v1.55h-11.55zM708 349.5h2.8v1.55h-2.8zM725.5 349.5h1.55v1.55h-1.55zM730.5 349.5h1.55v1.55h-1.55zM733 349.5h7.8v1.55h-7.8zM744.25 349.5h2.8v1.55h-2.8zM708 350.75h2.8v1.55h-2.8zM725.5 350.75h2.8v1.55h-2.8zM730.5 350.75h1.55v1.55h-1.55zM733 350.75h5.3v1.55h-5.3zM709.25 352h2.8v1.55h-2.8zM726.75 352h10.3v1.55h-10.3zM709.25 353.25h2.8v1.55h-2.8zM728 353.25h7.8v1.55h-7.8zM709.25 354.5h1.55v1.55h-1.55zM731.75 354.5h4.05v1.55h-4.05zM709.25 355.75h1.55v1.55h-1.55zM733 355.75h2.8v1.55h-2.8zM709.25 357h2.8v1.55h-2.8zM733 357h1.55v1.55h-1.55zM709.25 358.25h2.8v1.55h-2.8z" fill="#ee0800"/>
<path d="M504.25 277h1.55v1.55h-1.55zM504.25 278.25h1.55v1.55h-1.55zM504.25 279.5h2.8v1.55h-2.8zM504.25 280.75h4.05v1.55h-4.05zM505.5 282h2.8v1.55h-2.8zM506.75 283.25h1.55v1.55h-1.55zM505.5 284.5h2.8v1.55h-2.8zM505.5 285.75h2.8v1.55h-2.8zM504.25 287h4.05v1.55h-4.05zM504.25 288.25h4.05v1.55h-4.05zM505.5 289.5h1.55v1.55h-1.55zM505.5 290.75h1.55v1.55h-1.55zM504.25 292h2.8v1.55h-2.8zM504.25 293.25h2.8v1.55h-2.8zM504.25 295.75h1.55v1.55h-1.55zM504.25 297h2.8v1.55h-2.8zM504.25 298.25h2.8v1.55h-2.8zM505.5 299.5h1.55v1.55h-1.55zM508 299.5h1.55v1.55h-1.55zM506.75 300.75h2.8v1.55h-2.8zM506.75 302h1.55v1.55h-1.55zM506.75 303.25h2.8v1.55h-2.8zM508 304.5h1.55v1.55h-1.55zM510.5 305.75h1.55v1.55h-1.55zM508 307h2.8v1.55h-2.8zM528 307h1.55v1.55h-1.55zM508 308.25h4.05v1.55h-4.05zM528 308.25h1.55v1.55h-1.55zM509.25 309.5h1.55v1.55h-1.55zM526.75 309.5h4.05v1.55h-4.05zM513 310.75h1.55v1.55h-1.55zM515.5 310.75h1.55v1.55h-1.55zM529.25 310.75h2.8v1.55h-2.8zM515.5 312h1.55v1.55h-1.55zM530.5 312h2.8v1.55h-2.8zM531.75 313.25h1.55v1.55h-1.55zM531.75 314.5h4.05v1.55h-4.05zM533 315.75h1.55v1.55h-1.55zM508 327h1.55v1.55h-1.55zM506.75 328.25h5.3v1.55h-5.3zM511.75 329.5h2.8v1.55h-2.8zM513 330.75h4.05v1.55h-4.05zM514.25 332h2.8v1.55h-2.8zM515.5 333.25h2.8v1.55h-2.8zM515.5 334.5h4.05v1.55h-4.05zM516.75 335.75h2.8v1.55h-2.8zM526.75 337h2.8v1.55h-2.8zM526.75 338.25h2.8v1.55h-2.8zM710.5 338.25h4.05v1.55h-4.05zM518 339.5h2.8v1.55h-2.8zM528 339.5h1.55v1.55h-1.55zM709.25 339.5h1.55v1.55h-1.55zM713 339.5h2.8v1.55h-2.8zM518 340.75h4.05v1.55h-4.05zM528 340.75h2.8v1.55h-2.8zM714.25 340.75h1.55v1.55h-1.55zM521.75 342h1.55v1.55h-1.55zM529.25 342h2.8v1.55h-2.8zM714.25 342h1.55v1.55h-1.55zM529.25 343.25h4.05v1.55h-4.05zM715.5 343.25h1.55v1.55h-1.55zM530.5 344.5h2.8v1.55h-2.8zM740.5 344.5h2.8v1.55h-2.8zM530.5 345.75h4.05v1.55h-4.05zM714.25 345.75h1.55v1.55h-1.55zM741.75 345.75h4.05v1.55h-4.05zM531.75 347h4.05v1.55h-4.05zM713 347h1.55v1.55h-1.55zM726.75 347h1.55v1.55h-1.55zM734.25 347h1.55v1.55h-1.55zM744.25 347h2.8v1.55h-2.8zM533 348.25h2.8v1.55h-2.8zM711.75 348.25h1.55v1.55h-1.55zM726.75 348.25h2.8v1.55h-2.8zM745.5 348.25h1.55v1.55h-1.55zM710.5 349.5h2.8v1.55h-2.8zM726.75 349.5h2.8v1.55h-2.8zM746.75 349.5h2.8v1.55h-2.8zM710.5 350.75h2.8v1.55h-2.8zM728 350.75h2.8v1.55h-2.8zM738 350.75h1.55v1.55h-1.55zM736.75 352h1.55v1.55h-1.55zM735.5 353.25h2.8v1.55h-2.8zM710.5 354.5h1.55v1.55h-1.55zM735.5 354.5h2.8v1.55h-2.8zM710.5 355.75h1.55v1.55h-1.55zM735.5 355.75h1.55v1.55h-1.55zM711.75 357h1.55v1.55h-1.55zM734.25 357h2.8v1.55h-2.8z" fill="#08086e"/>
<path d="M519.1 322.7L528.8 317.9" stroke="#fa1e00" stroke-width="1.2"/>
<path d="M727 235L733 232.6" stroke="#fa1e00" stroke-width="1.6"/>
<path d="M519.9 74.8L516.2 79.9L512.9 84.9L513.3 90.8L512.9 95.9L516.2 99.6L519.5 105.1L522.8 110.6L528.7 111.7L532.7 109.1L536.6 109.1L540.3 106.9L543.6 105.1L544.7 99.6L549.8 96.3L551.3 90.8L555.7 89.3L554.2 84.3L554.6 79.9L553.5 74.8M507.6 84.9L509.4 85.8M480.9 179L491 178.6L492.7 174.9L495.4 173.1L499.7 175.3L505.2 178.6L509.6 181.5L517.3 179L526.1 175.3L535.9 170.5L543.6 165.4L548.5 162.1L549.8 154.5L551.3 152.3L550.6 148.5L553.5 146.8L551.3 144.6L547.6 144.2L545.8 141.3L548.5 139.1L550.6 135.4L556.8 134.3L574.8 133.6L575.4 145.7L582.7 145.7L583.1 135.8L586.4 134.7L589 131.9L590.8 134.1L598.5 135.8L606.2 138.5L611.6 136.9L619.3 137.6L624.8 139.8L627.4 142.4L633.6 142.4L636.2 140.2L640.2 140.6L643.5 138.5L646.7 136.9L650 137.6L654.4 134.7L658.8 135.2L659.9 131.4L663.2 128.8L667.1 126.6L670.8 124.4L674.1 124.8L677.4 128.1L679.6 125.9L680.7 122.7L682.9 121.6L684 117.2L687.3 116.1L692.8 116.7L693.9 120L697.2 120.5L698.3 122.7L701.6 122.7L702.7 131.4L703.8 135.4L696.5 138L699.4 145.7L705.9 143.5L704.8 140.2L707.5 139.8L710.3 144.6L715.4 142.4L713.6 137.6L715.8 136.9L718 140.2L726.4 135.8L723.5 128.8L713.6 132.5L708.8 129.2L713.6 125.9L708.8 109.9L720.2 104.7L727.9 122.7L731.2 121.6L732.3 124.8L729 127.5L730.7 132.5L740 128.1L737.8 122.7L741.1 119.4L745.4 116.1L743.2 111.7L740 113.9L733.4 102.9L738.9 96.8L752.7 107.7L758.6 101.8L755.3 99.6L753.1 101.8L741.7 89.7L744.3 82.1L750.9 78.8L759.7 80.5L771.8 84.9L774 75.5L770.2 74.8M669.3 113.4L670.2 116.5M767.4 76.6L769.6 79.9L770.7 76.6" fill="none" stroke="#000" stroke-width="1.3" stroke-linejoin="round"/>
<path d="M98.4 74.8L94.7 79.9L91.4 84.9L91.8 90.8L91.4 95.9L94.7 99.6L98 105.1L101.3 110.6L107.2 111.7L111.2 109.1L115.1 109.1L118.8 106.9L122.1 105.1L123.2 99.6L128.3 96.3L129.8 90.8L134.2 89.3L132.7 84.3L133.1 79.9L132 74.8M86.1 84.9L87.9 85.8M59.4 179L69.5 178.6L71.2 174.9L73.9 173.1L78.2 175.3L83.7 178.6L88.1 181.5L95.8 179L104.6 175.3L114.4 170.5L122.1 165.4L127 162.1L128.3 154.5L129.8 152.3L129.1 148.5L132 146.8L129.8 144.6L126.1 144.2L124.3 141.3L127 139.1L129.1 135.4L135.3 134.3L153.3 133.6L153.9 145.7L161.2 145.7L161.6 135.8L164.9 134.7L167.5 131.9L169.3 134.1L177 135.8L184.7 138.5L190.1 136.9L197.8 137.6L203.3 139.8L205.9 142.4L212.1 142.4L214.7 140.2L218.7 140.6L222 138.5L225.2 136.9L228.5 137.6L232.9 134.7L237.3 135.2L238.4 131.4L241.7 128.8L245.6 126.6L249.3 124.4L252.6 124.8L255.9 128.1L258.1 125.9L259.2 122.7L261.4 121.6L262.5 117.2L265.8 116.1L271.3 116.7L272.4 120L275.7 120.5L276.8 122.7L280.1 122.7L281.2 131.4L282.3 135.4L275 138L277.9 145.7L284.4 143.5L283.3 140.2L286 139.8L288.8 144.6L293.9 142.4L292.1 137.6L294.3 136.9L296.5 140.2L304.9 135.8L302 128.8L292.1 132.5L287.3 129.2L292.1 125.9L287.3 109.9L298.7 104.7L306.4 122.7L309.7 121.6L310.8 124.8L307.5 127.5L309.2 132.5L318.5 128.1L316.3 122.7L319.6 119.4L323.9 116.1L321.7 111.7L318.5 113.9L311.9 102.9L317.4 96.8L331.2 107.7L337.1 101.8L333.8 99.6L331.6 101.8L320.2 89.7L322.8 82.1L329.4 78.8L338.2 80.5L350.3 84.9L352.5 75.5L348.7 74.8M247.8 113.4L248.7 116.5M345.9 76.6L348.1 79.9L349.2 76.6" fill="none" stroke="#fff" stroke-width="1.3" stroke-linejoin="round"/>
<g stroke="#000" fill="none" stroke-linecap="butt">
<rect x="59" y="74.5" width="374.5" height="374.5" stroke-width="2"/>
<path d="M59 74.5v-14.5M59 449v14.5M59 449h-14.5M433.5 449h14.5M152.6 74.5v-14.5M152.6 449v14.5M59 355.4h-14.5M433.5 355.4h14.5M246.2 74.5v-14.5M246.2 449v14.5M59 261.8h-14.5M433.5 261.8h14.5M339.9 74.5v-14.5M339.9 449v14.5M59 168.1h-14.5M433.5 168.1h14.5M433.5 74.5v-14.5M433.5 449v14.5M59 74.5h-14.5M433.5 74.5h14.5" stroke-width="2"/>
<path d="M70.7 74.5v-7.5M70.7 449v7.5M59 437.3h-7.5M433.5 437.3h7.5M82.4 74.5v-7.5M82.4 449v7.5M59 425.6h-7.5M433.5 425.6h7.5M94.1 74.5v-7.5M94.1 449v7.5M59 413.9h-7.5M433.5 413.9h7.5M105.8 74.5v-7.5M105.8 449v7.5M59 402.2h-7.5M433.5 402.2h7.5M117.5 74.5v-7.5M117.5 449v7.5M59 390.5h-7.5M433.5 390.5h7.5M129.2 74.5v-7.5M129.2 449v7.5M59 378.8h-7.5M433.5 378.8h7.5M140.9 74.5v-7.5M140.9 449v7.5M59 367.1h-7.5M433.5 367.1h7.5M164.3 74.5v-7.5M164.3 449v7.5M59 343.7h-7.5M433.5 343.7h7.5M176 74.5v-7.5M176 449v7.5M59 332h-7.5M433.5 332h7.5M187.7 74.5v-7.5M187.7 449v7.5M59 320.3h-7.5M433.5 320.3h7.5M199.4 74.5v-7.5M199.4 449v7.5M59 308.6h-7.5M433.5 308.6h7.5M211.1 74.5v-7.5M211.1 449v7.5M59 296.9h-7.5M433.5 296.9h7.5M222.8 74.5v-7.5M222.8 449v7.5M59 285.2h-7.5M433.5 285.2h7.5M234.5 74.5v-7.5M234.5 449v7.5M59 273.5h-7.5M433.5 273.5h7.5M258 74.5v-7.5M258 449v7.5M59 250h-7.5M433.5 250h7.5M269.7 74.5v-7.5M269.7 449v7.5M59 238.3h-7.5M433.5 238.3h7.5M281.4 74.5v-7.5M281.4 449v7.5M59 226.6h-7.5M433.5 226.6h7.5M293.1 74.5v-7.5M293.1 449v7.5M59 214.9h-7.5M433.5 214.9h7.5M304.8 74.5v-7.5M304.8 449v7.5M59 203.2h-7.5M433.5 203.2h7.5M316.5 74.5v-7.5M316.5 449v7.5M59 191.5h-7.5M433.5 191.5h7.5M328.2 74.5v-7.5M328.2 449v7.5M59 179.8h-7.5M433.5 179.8h7.5M351.6 74.5v-7.5M351.6 449v7.5M59 156.4h-7.5M433.5 156.4h7.5M363.3 74.5v-7.5M363.3 449v7.5M59 144.7h-7.5M433.5 144.7h7.5M375 74.5v-7.5M375 449v7.5M59 133h-7.5M433.5 133h7.5M386.7 74.5v-7.5M386.7 449v7.5M59 121.3h-7.5M433.5 121.3h7.5M398.4 74.5v-7.5M398.4 449v7.5M59 109.6h-7.5M433.5 109.6h7.5M410.1 74.5v-7.5M410.1 449v7.5M59 97.9h-7.5M433.5 97.9h7.5M421.8 74.5v-7.5M421.8 449v7.5M59 86.2h-7.5M433.5 86.2h7.5" stroke-width="1.2"/>
<rect x="480.5" y="74.5" width="374.5" height="374.5" stroke-width="2"/>
<path d="M480.5 74.5v-14.5M480.5 449v14.5M480.5 449h-14.5M855 449h14.5M574.1 74.5v-14.5M574.1 449v14.5M480.5 355.4h-14.5M855 355.4h14.5M667.8 74.5v-14.5M667.8 449v14.5M480.5 261.8h-14.5M855 261.8h14.5M761.4 74.5v-14.5M761.4 449v14.5M480.5 168.1h-14.5M855 168.1h14.5M855 74.5v-14.5M855 449v14.5M480.5 74.5h-14.5M855 74.5h14.5" stroke-width="2"/>
<path d="M492.2 74.5v-7.5M492.2 449v7.5M480.5 437.3h-7.5M855 437.3h7.5M503.9 74.5v-7.5M503.9 449v7.5M480.5 425.6h-7.5M855 425.6h7.5M515.6 74.5v-7.5M515.6 449v7.5M480.5 413.9h-7.5M855 413.9h7.5M527.3 74.5v-7.5M527.3 449v7.5M480.5 402.2h-7.5M855 402.2h7.5M539 74.5v-7.5M539 449v7.5M480.5 390.5h-7.5M855 390.5h7.5M550.7 74.5v-7.5M550.7 449v7.5M480.5 378.8h-7.5M855 378.8h7.5M562.4 74.5v-7.5M562.4 449v7.5M480.5 367.1h-7.5M855 367.1h7.5M585.8 74.5v-7.5M585.8 449v7.5M480.5 343.7h-7.5M855 343.7h7.5M597.5 74.5v-7.5M597.5 449v7.5M480.5 332h-7.5M855 332h7.5M609.2 74.5v-7.5M609.2 449v7.5M480.5 320.3h-7.5M855 320.3h7.5M620.9 74.5v-7.5M620.9 449v7.5M480.5 308.6h-7.5M855 308.6h7.5M632.6 74.5v-7.5M632.6 449v7.5M480.5 296.9h-7.5M855 296.9h7.5M644.3 74.5v-7.5M644.3 449v7.5M480.5 285.2h-7.5M855 285.2h7.5M656 74.5v-7.5M656 449v7.5M480.5 273.5h-7.5M855 273.5h7.5M679.5 74.5v-7.5M679.5 449v7.5M480.5 250h-7.5M855 250h7.5M691.2 74.5v-7.5M691.2 449v7.5M480.5 238.3h-7.5M855 238.3h7.5M702.9 74.5v-7.5M702.9 449v7.5M480.5 226.6h-7.5M855 226.6h7.5M714.6 74.5v-7.5M714.6 449v7.5M480.5 214.9h-7.5M855 214.9h7.5M726.3 74.5v-7.5M726.3 449v7.5M480.5 203.2h-7.5M855 203.2h7.5M738 74.5v-7.5M738 449v7.5M480.5 191.5h-7.5M855 191.5h7.5M749.7 74.5v-7.5M749.7 449v7.5M480.5 179.8h-7.5M855 179.8h7.5M773.1 74.5v-7.5M773.1 449v7.5M480.5 156.4h-7.5M855 156.4h7.5M784.8 74.5v-7.5M784.8 449v7.5M480.5 144.7h-7.5M855 144.7h7.5M796.5 74.5v-7.5M796.5 449v7.5M480.5 133h-7.5M855 133h7.5M808.2 74.5v-7.5M808.2 449v7.5M480.5 121.3h-7.5M855 121.3h7.5M819.9 74.5v-7.5M819.9 449v7.5M480.5 109.6h-7.5M855 109.6h7.5M831.6 74.5v-7.5M831.6 449v7.5M480.5 97.9h-7.5M855 97.9h7.5M843.3 74.5v-7.5M843.3 449v7.5M480.5 86.2h-7.5M855 86.2h7.5" stroke-width="1.2"/>
</g>
<g>
<rect x="58" y="508" width="328.6" height="12.5" fill="#000"/>
<rect x="151.2" y="510.5" width="6.7" height="7.3" fill="rgb(10,10,10)"/>
<rect x="160.2" y="510.5" width="6.7" height="7.3" fill="rgb(20,20,20)"/>
<rect x="169.3" y="510.5" width="6.7" height="7.3" fill="rgb(29,29,29)"/>
<rect x="178.4" y="510.5" width="6.7" height="7.3" fill="rgb(39,39,39)"/>
<rect x="187.5" y="510.5" width="6.7" height="7.3" fill="rgb(49,49,49)"/>
<rect x="196.6" y="510.5" width="6.7" height="7.3" fill="rgb(59,59,59)"/>
<rect x="205.7" y="510.5" width="6.7" height="7.3" fill="rgb(69,69,69)"/>
<rect x="214.7" y="510.5" width="6.7" height="7.3" fill="rgb(78,78,78)"/>
<rect x="223.8" y="510.5" width="6.7" height="7.3" fill="rgb(88,88,88)"/>
<rect x="232.9" y="510.5" width="6.7" height="7.3" fill="rgb(98,98,98)"/>
<rect x="242" y="510.5" width="6.7" height="7.3" fill="rgb(108,108,108)"/>
<rect x="251.1" y="510.5" width="6.7" height="7.3" fill="rgb(118,118,118)"/>
<rect x="260.2" y="510.5" width="6.7" height="7.3" fill="rgb(128,128,128)"/>
<rect x="269.3" y="510.5" width="6.7" height="7.3" fill="rgb(137,137,137)"/>
<rect x="278.3" y="510.5" width="6.7" height="7.3" fill="rgb(147,147,147)"/>
<rect x="287.4" y="510.5" width="6.7" height="7.3" fill="rgb(157,157,157)"/>
<rect x="296.5" y="510.5" width="6.7" height="7.3" fill="rgb(167,167,167)"/>
<rect x="305.6" y="510.5" width="6.7" height="7.3" fill="rgb(177,177,177)"/>
<rect x="314.7" y="510.5" width="6.7" height="7.3" fill="rgb(186,186,186)"/>
<rect x="323.8" y="510.5" width="6.7" height="7.3" fill="rgb(196,196,196)"/>
<rect x="332.9" y="510.5" width="6.7" height="7.3" fill="rgb(206,206,206)"/>
<rect x="341.9" y="510.5" width="6.7" height="7.3" fill="rgb(216,216,216)"/>
<rect x="351" y="510.5" width="6.7" height="7.3" fill="rgb(226,226,226)"/>
<rect x="360.1" y="510.5" width="6.7" height="7.3" fill="rgb(235,235,235)"/>
<rect x="369.2" y="510.5" width="6.7" height="7.3" fill="rgb(245,245,245)"/>
<rect x="378.3" y="510.5" width="6.7" height="7.3" fill="rgb(255,255,255)"/>
<path d="M386.1 508.8L395.6 514.2L386.1 519.7Z" fill="#ff0" stroke="#000" stroke-width="1.6" stroke-linejoin="miter"/>
<path d="M59 520v14M104.4 520v14M149.9 520v14M195.3 520v14M240.7 520v14M286.1 520v14M331.6 520v14M377 520v14" stroke="#000" stroke-width="2" fill="none"/>
<path d="M67 520L69.2 520L68.1 526.6ZM76.1 520L78.3 520L77.2 526.6ZM85.2 520L87.4 520L86.3 526.6ZM94.2 520L96.4 520L95.3 526.6ZM112.4 520L114.6 520L113.5 526.6ZM121.5 520L123.7 520L122.6 526.6ZM130.6 520L132.8 520L131.7 526.6ZM139.7 520L141.9 520L140.8 526.6ZM157.8 520L160 520L158.9 526.6ZM166.9 520L169.1 520L168 526.6ZM176 520L178.2 520L177.1 526.6ZM185.1 520L187.3 520L186.2 526.6ZM203.3 520L205.5 520L204.4 526.6ZM212.3 520L214.5 520L213.4 526.6ZM221.4 520L223.6 520L222.5 526.6ZM230.5 520L232.7 520L231.6 526.6ZM248.7 520L250.9 520L249.8 526.6ZM257.8 520L260 520L258.9 526.6ZM266.9 520L269.1 520L268 526.6ZM275.9 520L278.1 520L277 526.6ZM294.1 520L296.3 520L295.2 526.6ZM303.2 520L305.4 520L304.3 526.6ZM312.3 520L314.5 520L313.4 526.6ZM321.4 520L323.6 520L322.5 526.6ZM339.5 520L341.7 520L340.6 526.6ZM348.6 520L350.8 520L349.7 526.6ZM357.7 520L359.9 520L358.8 526.6ZM366.8 520L369 520L367.9 526.6ZM385 520L387.2 520L386.1 526.6Z" fill="#000"/>
</g>
<g>
<rect x="480.2" y="508" width="328.2" height="12.5" fill="#000"/>
<rect x="481.9" y="510.5" width="6.3" height="7.3" fill="rgb(200,255,255)"/>
<rect x="490.5" y="510.5" width="6.3" height="7.3" fill="rgb(175,255,255)"/>
<rect x="499.1" y="510.5" width="6.3" height="7.3" fill="rgb(150,250,250)"/>
<rect x="507.7" y="510.5" width="6.3" height="7.3" fill="rgb(125,245,250)"/>
<rect x="516.3" y="510.5" width="6.3" height="7.3" fill="rgb(100,235,250)"/>
<rect x="525" y="510.5" width="6.3" height="7.3" fill="rgb(75,215,245)"/>
<rect x="533.6" y="510.5" width="6.3" height="7.3" fill="rgb(55,190,245)"/>
<rect x="542.2" y="510.5" width="6.3" height="7.3" fill="rgb(40,165,245)"/>
<rect x="550.8" y="510.5" width="6.3" height="7.3" fill="rgb(25,140,240)"/>
<rect x="559.4" y="510.5" width="6.3" height="7.3" fill="rgb(15,115,240)"/>
<rect x="568" y="510.5" width="6.3" height="7.3" fill="rgb(10,85,240)"/>
<rect x="576.6" y="510.5" width="6.3" height="7.3" fill="rgb(5,55,245)"/>
<rect x="585.2" y="510.5" width="6.3" height="7.3" fill="rgb(0,25,250)"/>
<rect x="593.8" y="510.5" width="6.3" height="7.3" fill="rgb(0,10,230)"/>
<rect x="602.4" y="510.5" width="6.3" height="7.3" fill="rgb(0,0,200)"/>
<rect x="611" y="510.5" width="6.3" height="7.3" fill="rgb(0,0,170)"/>
<rect x="619.7" y="510.5" width="6.3" height="7.3" fill="rgb(0,0,145)"/>
<rect x="628.3" y="510.5" width="6.3" height="7.3" fill="rgb(0,0,120)"/>
<rect x="636.9" y="510.5" width="6.3" height="7.3" fill="rgb(0,0,95)"/>
<rect x="645.5" y="510.5" width="6.3" height="7.3" fill="rgb(230,0,0)"/>
<rect x="654.1" y="510.5" width="6.3" height="7.3" fill="rgb(255,20,0)"/>
<rect x="662.7" y="510.5" width="6.3" height="7.3" fill="rgb(255,50,0)"/>
<rect x="671.3" y="510.5" width="6.3" height="7.3" fill="rgb(255,80,0)"/>
<rect x="679.9" y="510.5" width="6.3" height="7.3" fill="rgb(255,105,0)"/>
<rect x="688.5" y="510.5" width="6.3" height="7.3" fill="rgb(255,130,15)"/>
<rect x="697.2" y="510.5" width="6.3" height="7.3" fill="rgb(255,150,20)"/>
<rect x="705.8" y="510.5" width="6.3" height="7.3" fill="rgb(255,170,25)"/>
<rect x="714.4" y="510.5" width="6.3" height="7.3" fill="rgb(255,190,40)"/>
<rect x="723" y="510.5" width="6.3" height="7.3" fill="rgb(255,210,50)"/>
<rect x="731.6" y="510.5" width="6.3" height="7.3" fill="rgb(255,225,60)"/>
<rect x="740.2" y="510.5" width="6.3" height="7.3" fill="rgb(255,240,75)"/>
<rect x="748.8" y="510.5" width="6.3" height="7.3" fill="rgb(255,250,90)"/>
<rect x="757.4" y="510.5" width="6.3" height="7.3" fill="rgb(255,255,110)"/>
<rect x="766" y="510.5" width="6.3" height="7.3" fill="rgb(255,255,130)"/>
<rect x="774.6" y="510.5" width="6.3" height="7.3" fill="rgb(255,255,150)"/>
<rect x="783.2" y="510.5" width="6.3" height="7.3" fill="rgb(255,255,170)"/>
<rect x="791.9" y="510.5" width="6.3" height="7.3" fill="rgb(255,255,190)"/>
<rect x="800.5" y="510.5" width="6.3" height="7.3" fill="rgb(255,255,205)"/>
<path d="M480.7 508.8L471.4 514.2L480.7 519.7Z" fill="rgb(225,255,255)" stroke="#000" stroke-width="1.6"/>
<path d="M807.9 508.8L816.9 514.2L807.9 519.7Z" fill="rgb(255,255,228)" stroke="#000" stroke-width="1.6"/>
<path d="M506.5 520v14M575.4 520v14M644.3 520v14M713.2 520v14M782 520v14" stroke="#000" stroke-width="2" fill="none"/>
<path d="M479.6 520L481.8 520L480.7 526.6ZM488.2 520L490.4 520L489.3 526.6ZM496.8 520L499 520L497.9 526.6ZM514 520L516.2 520L515.1 526.6ZM522.6 520L524.9 520L523.8 526.6ZM531.3 520L533.5 520L532.4 526.6ZM539.9 520L542.1 520L541 526.6ZM548.5 520L550.7 520L549.6 526.6ZM557.1 520L559.3 520L558.2 526.6ZM565.7 520L567.9 520L566.8 526.6ZM582.9 520L585.1 520L584 526.6ZM591.5 520L593.7 520L592.6 526.6ZM600.1 520L602.3 520L601.2 526.6ZM608.7 520L610.9 520L609.8 526.6ZM617.4 520L619.6 520L618.5 526.6ZM626 520L628.2 520L627.1 526.6ZM634.6 520L636.8 520L635.7 526.6ZM651.8 520L654 520L652.9 526.6ZM660.4 520L662.6 520L661.5 526.6ZM669 520L671.2 520L670.1 526.6ZM677.6 520L679.8 520L678.7 526.6ZM686.2 520L688.4 520L687.3 526.6ZM694.9 520L697.1 520L696 526.6ZM703.5 520L705.7 520L704.6 526.6ZM720.7 520L722.9 520L721.8 526.6ZM729.3 520L731.5 520L730.4 526.6ZM737.9 520L740.1 520L739 526.6ZM746.5 520L748.7 520L747.6 526.6ZM755.1 520L757.3 520L756.2 526.6ZM763.7 520L765.9 520L764.8 526.6ZM772.3 520L774.5 520L773.4 526.6ZM789.6 520L791.8 520L790.7 526.6ZM798.2 520L800.4 520L799.3 526.6ZM806.8 520L809 520L807.9 526.6Z" fill="#000"/>
</g>
<g>
<text x="59.4" y="25" font-size="34.5" textLength="523.5" lengthAdjust="spacingAndGlyphs">Fukuoka, 20181126 [16:19, el=0.0]</text>
<text x="60.2" y="57.8" font-size="28.3" textLength="119" lengthAdjust="spacingAndGlyphs">SNR [dB]</text>
<text x="481.5" y="57.8" font-size="28.3" textLength="306.5" lengthAdjust="spacingAndGlyphs">Doppler Velocity [m/s]</text>
<text x="59" y="499.8" font-size="30" text-anchor="middle" textLength="34.2" lengthAdjust="spacingAndGlyphs">−8</text>
<text x="152.6" y="499.8" font-size="30" text-anchor="middle" textLength="34.2" lengthAdjust="spacingAndGlyphs">−4</text>
<text x="246.2" y="499.8" font-size="30" text-anchor="middle" textLength="16.7" lengthAdjust="spacingAndGlyphs">0</text>
<text x="339.9" y="499.8" font-size="30" text-anchor="middle" textLength="16.7" lengthAdjust="spacingAndGlyphs">4</text>
<text x="433.5" y="499.8" font-size="30" text-anchor="middle" textLength="16.7" lengthAdjust="spacingAndGlyphs">8</text>
<text x="480.5" y="499.8" font-size="30" text-anchor="middle" textLength="34.2" lengthAdjust="spacingAndGlyphs">−8</text>
<text x="574.1" y="499.8" font-size="30" text-anchor="middle" textLength="34.2" lengthAdjust="spacingAndGlyphs">−4</text>
<text x="667.8" y="499.8" font-size="30" text-anchor="middle" textLength="16.7" lengthAdjust="spacingAndGlyphs">0</text>
<text x="761.4" y="499.8" font-size="30" text-anchor="middle" textLength="16.7" lengthAdjust="spacingAndGlyphs">4</text>
<text x="855" y="499.8" font-size="30" text-anchor="middle" textLength="16.7" lengthAdjust="spacingAndGlyphs">8</text>
<text x="31.5" y="84.5" font-size="30" text-anchor="end" textLength="16.7" lengthAdjust="spacingAndGlyphs">8</text>
<text x="31.5" y="178.1" font-size="30" text-anchor="end" textLength="16.7" lengthAdjust="spacingAndGlyphs">4</text>
<text x="31.5" y="271.8" font-size="30" text-anchor="end" textLength="16.7" lengthAdjust="spacingAndGlyphs">0</text>
<text x="31.5" y="365.4" font-size="30" text-anchor="end" textLength="34.2" lengthAdjust="spacingAndGlyphs">−4</text>
<text x="31.5" y="459" font-size="30" text-anchor="end" textLength="34.2" lengthAdjust="spacingAndGlyphs">−8</text>
<text x="59" y="569.2" font-size="30" text-anchor="middle">0</text>
<text x="104.4" y="569.2" font-size="30" text-anchor="middle">2.5</text>
<text x="149.9" y="569.2" font-size="30" text-anchor="middle">5</text>
<text x="195.3" y="569.2" font-size="30" text-anchor="middle">7.5</text>
<text x="240.7" y="569.2" font-size="30" text-anchor="middle">10</text>
<text x="286.1" y="569.2" font-size="30" text-anchor="middle">12.5</text>
<text x="331.6" y="569.2" font-size="30" text-anchor="middle">15</text>
<text x="377" y="569.2" font-size="30" text-anchor="middle">17.5</text>
<text x="506.5" y="569.2" font-size="30" text-anchor="middle" textLength="34.2" lengthAdjust="spacingAndGlyphs">−8</text>
<text x="575.4" y="569.2" font-size="30" text-anchor="middle" textLength="34.2" lengthAdjust="spacingAndGlyphs">−4</text>
<text x="644.3" y="569.2" font-size="30" text-anchor="middle" textLength="16.7" lengthAdjust="spacingAndGlyphs">0</text>
<text x="713.2" y="569.2" font-size="30" text-anchor="middle" textLength="16.7" lengthAdjust="spacingAndGlyphs">4</text>
<text x="782" y="569.2" font-size="30" text-anchor="middle" textLength="16.7" lengthAdjust="spacingAndGlyphs">8</text>
</g>
</svg></body></html>
